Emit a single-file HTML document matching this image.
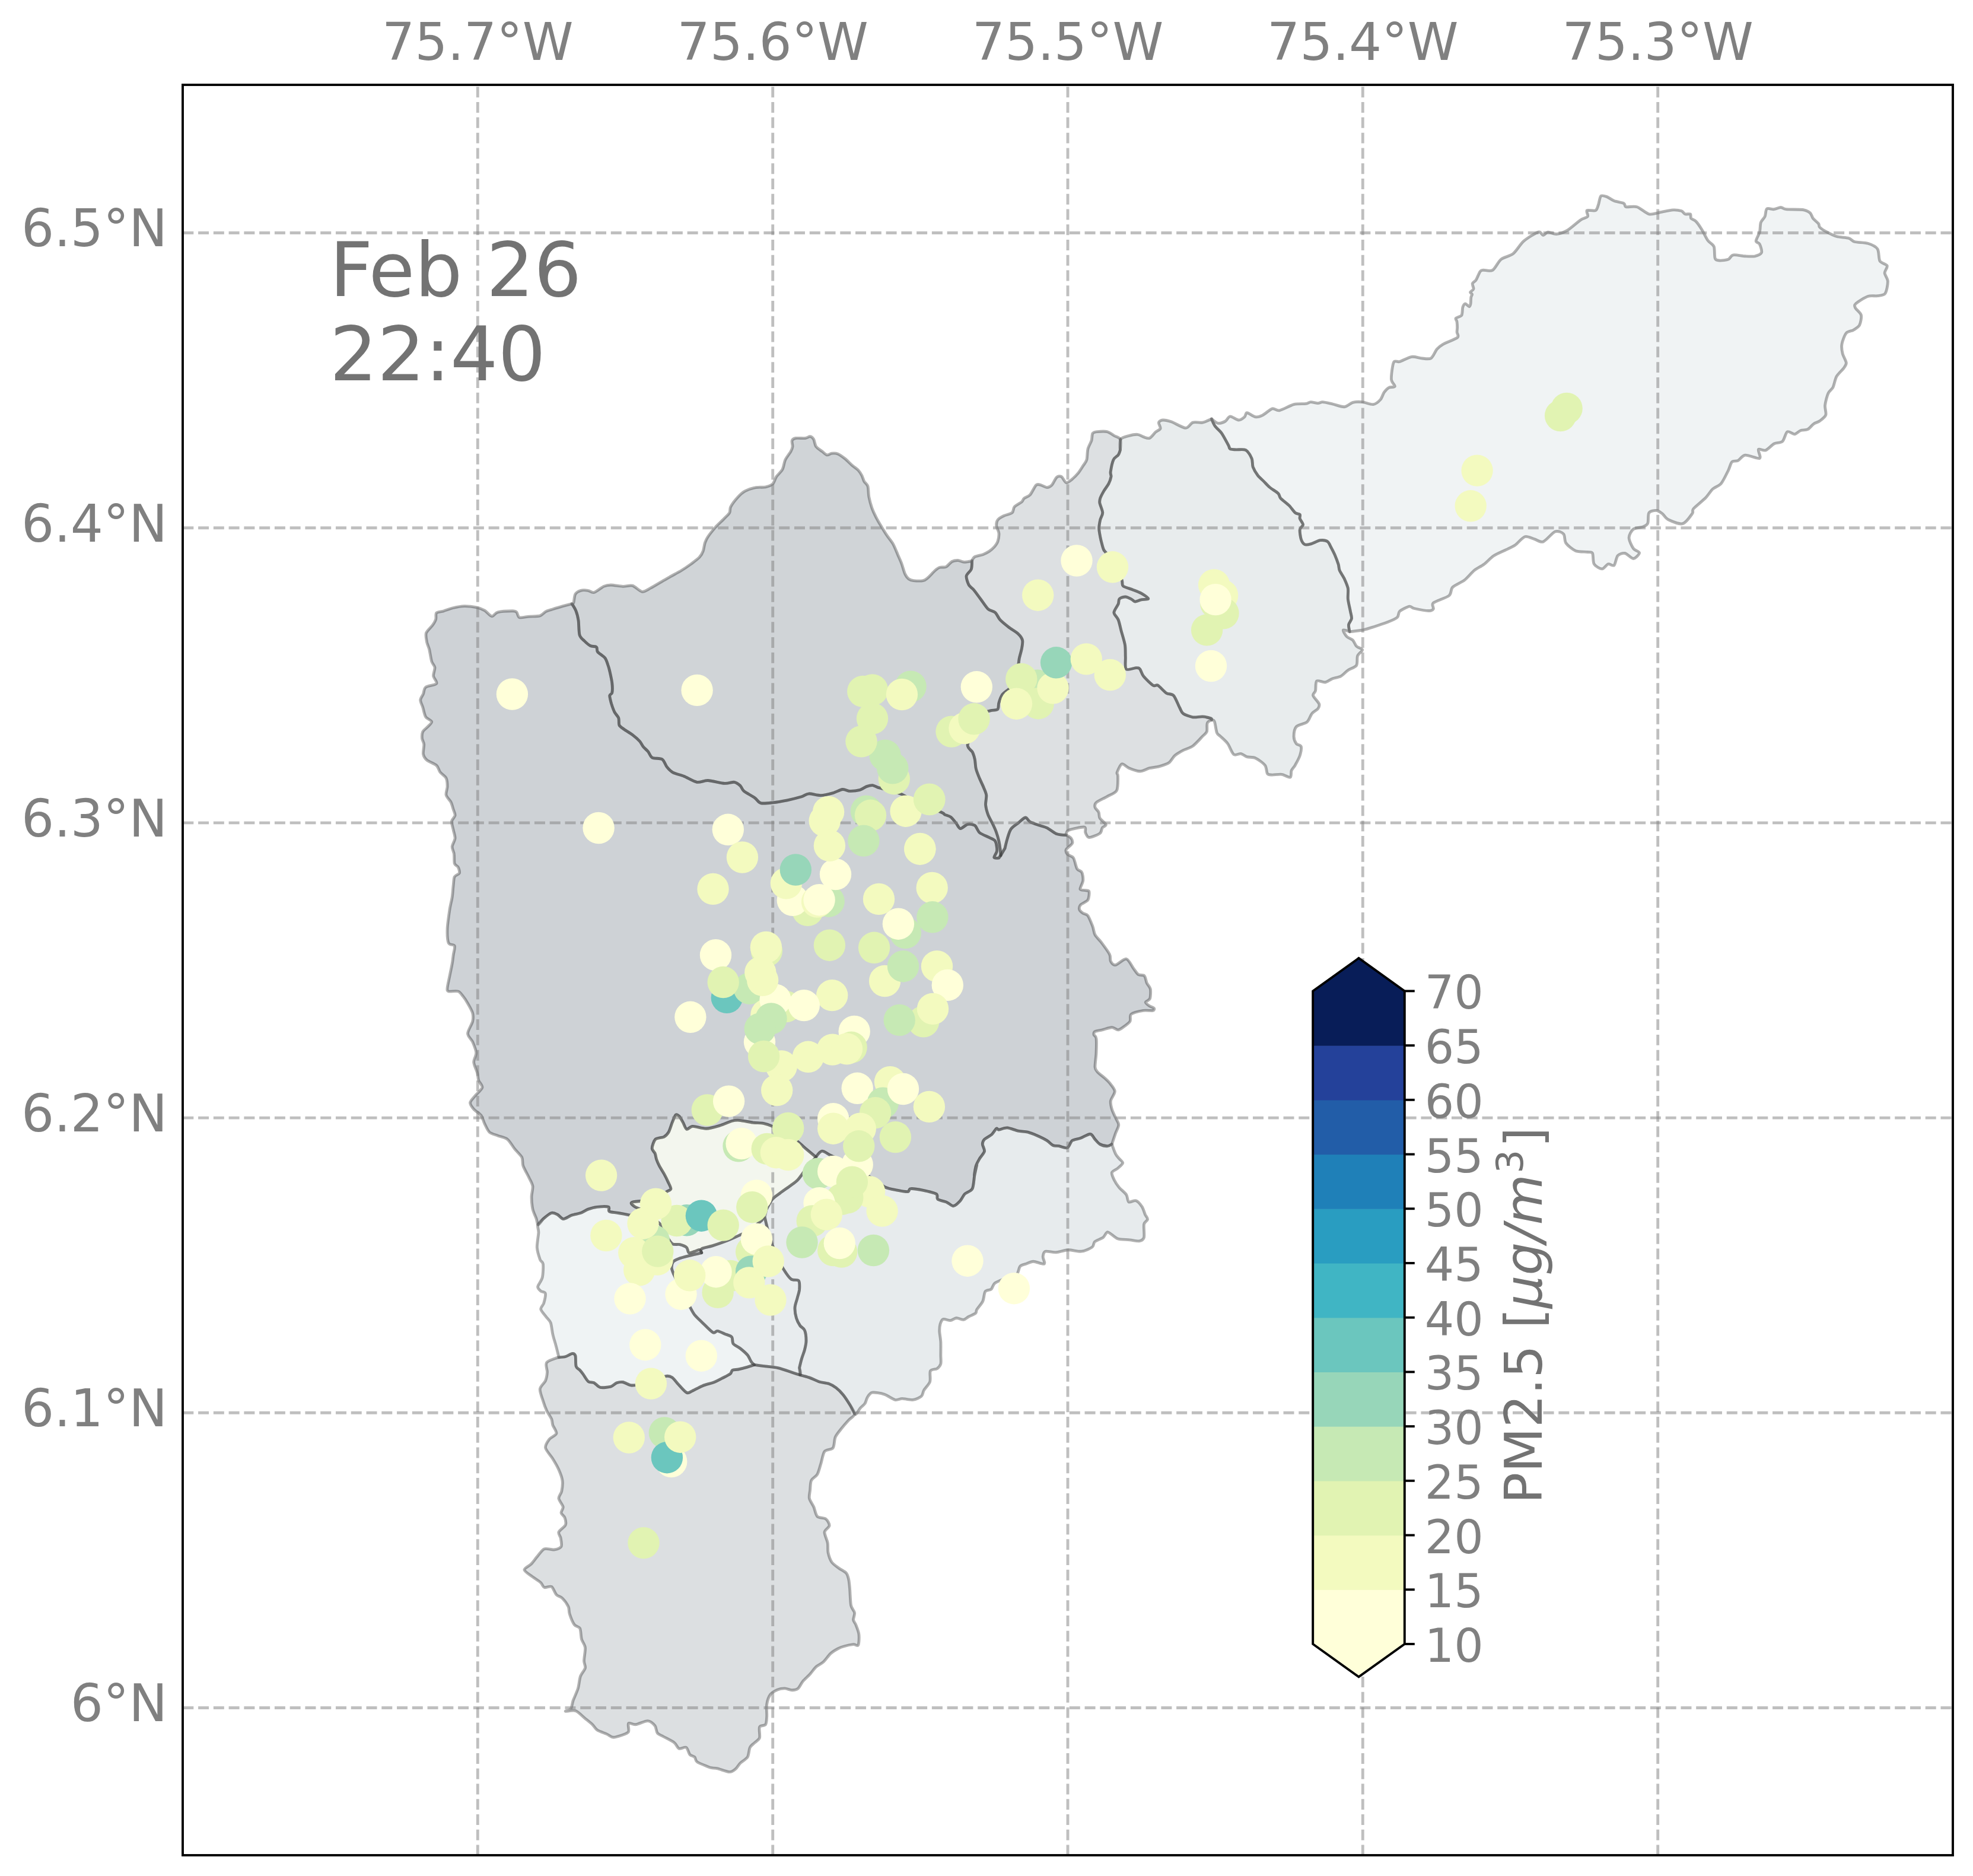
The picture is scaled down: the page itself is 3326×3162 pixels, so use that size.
<!DOCTYPE html>
<html lang="en"><head><meta charset="utf-8"><title>PM2.5 map - Feb 26 22:40</title>
<style>html,body{margin:0;padding:0;background:#fff;overflow:hidden;width:3326px;height:3162px}svg{display:block}text{font-family:"DejaVu Sans","Liberation Sans",sans-serif}</style>
</head><body>
<svg width="3326" height="3162" viewBox="0 0 3326 3162">
<rect width="3326" height="3162" fill="#fff"/>
<defs><clipPath id="ax"><rect x="308" y="143" width="2984" height="2984"/></clipPath></defs>
<g clip-path="url(#ax)">
<g stroke="none">
<path d="M2042.5,706.0C2042.5,706.0 2050.1,712.7 2053.4,713.3C2056.7,713.8 2062.7,711.6 2065.6,710.0C2068.5,708.4 2070.5,702.2 2073.7,701.9C2076.9,701.6 2084.4,707.9 2087.9,708.0C2091.4,708.1 2096.0,704.5 2098.0,702.7C2100.1,701.0 2099.5,695.8 2102.1,695.8C2104.7,695.8 2112.5,702.1 2116.3,702.7C2120.0,703.3 2124.4,701.9 2128.4,699.9C2132.5,697.9 2140.6,690.1 2144.7,688.9C2148.7,687.8 2151.6,692.8 2156.8,691.8C2162.0,690.7 2174.8,683.3 2181.1,681.6C2187.5,680.0 2197.4,681.0 2201.4,680.4C2205.5,679.8 2206.6,677.7 2209.5,677.6C2212.4,677.5 2218.8,679.6 2221.7,679.6C2224.6,679.6 2226.3,677.4 2229.8,677.6C2233.3,677.8 2240.8,679.7 2246.0,680.8C2251.2,682.0 2261.4,686.0 2266.3,685.7C2271.2,685.3 2276.1,679.6 2280.5,678.4C2284.8,677.2 2291.8,677.1 2296.7,677.6C2301.6,678.1 2310.6,682.2 2315.0,681.6C2319.3,681.1 2324.5,676.4 2327.1,673.5C2329.7,670.6 2331.2,664.3 2333.2,661.4C2335.2,658.5 2338.7,654.7 2341.3,653.3C2343.9,651.8 2350.9,653.3 2351.4,651.2C2352.0,649.2 2345.7,644.9 2345.4,639.1C2345.1,633.3 2347.4,614.9 2349.4,610.7C2351.4,606.5 2355.2,610.8 2359.6,609.5C2363.9,608.1 2374.6,602.2 2379.8,601.4C2385.0,600.5 2391.4,603.4 2396.0,603.8C2400.7,604.1 2408.5,606.0 2412.3,603.8C2416.0,601.6 2419.5,591.7 2422.4,588.4C2425.3,585.0 2427.6,583.1 2432.5,580.3C2437.5,577.5 2453.5,571.8 2456.9,568.9C2460.2,566.0 2456.1,562.4 2456.1,560.0C2456.0,557.6 2456.6,554.6 2456.6,552.1C2456.6,549.6 2456.3,544.6 2456.0,542.3C2455.7,540.0 2453.1,537.9 2454.2,536.3C2455.3,534.7 2462.2,534.0 2463.9,531.4C2465.6,528.8 2464.9,520.8 2465.8,518.0C2466.7,515.2 2468.4,512.1 2470.0,511.9C2471.6,511.7 2475.4,516.8 2476.7,516.8C2478.0,516.8 2478.7,514.2 2479.1,511.9C2479.5,509.6 2479.4,503.3 2479.8,501.0C2480.2,498.7 2481.8,497.3 2481.6,496.1C2481.4,494.9 2478.2,493.8 2478.5,492.5C2478.8,491.2 2483.5,489.1 2484.0,487.0C2484.5,484.9 2481.6,480.1 2482.2,477.9C2482.8,475.7 2486.5,474.7 2488.3,471.8C2490.1,468.9 2493.3,460.2 2495.0,457.8C2496.7,455.4 2497.0,455.7 2500.0,455.3C2503.0,454.9 2511.9,457.9 2516.2,455.3C2520.6,452.7 2525.5,441.0 2530.4,437.1C2535.3,433.1 2545.2,432.1 2550.7,427.7C2556.2,423.3 2562.8,411.4 2568.9,406.2C2575.0,401.0 2588.6,392.6 2593.3,391.2C2597.9,389.8 2599.1,396.5 2601.4,396.5C2603.7,396.5 2606.3,391.5 2609.5,391.2C2612.7,390.9 2619.0,394.9 2623.7,394.5C2628.3,394.1 2636.1,391.8 2641.9,388.4C2647.7,385.0 2659.3,374.3 2664.2,371.0C2669.1,367.6 2674.8,367.2 2676.4,364.9C2677.9,362.6 2673.3,356.2 2675.2,354.7C2677.1,353.3 2687.0,356.2 2689.8,354.7C2692.5,353.3 2693.4,348.1 2694.6,344.6C2695.9,341.1 2696.7,332.3 2698.7,330.4C2700.7,328.6 2705.6,330.5 2708.8,331.6C2712.0,332.8 2716.9,337.0 2721.0,338.5C2725.0,340.1 2734.3,341.1 2737.2,342.6C2740.1,344.0 2738.1,347.8 2741.3,348.7C2744.4,349.5 2754.0,346.9 2759.5,348.7C2765.0,350.4 2774.3,359.5 2779.8,360.8C2785.3,362.2 2792.2,359.0 2798.0,358.0C2803.8,357.0 2815.1,354.3 2820.3,353.9C2825.5,353.6 2831.6,354.6 2834.5,355.5C2837.4,356.5 2838.5,360.1 2840.6,360.8C2842.7,361.6 2848.1,359.8 2849.5,360.8C2851.0,361.9 2849.4,366.4 2850.7,368.1C2852.1,369.9 2856.2,370.3 2858.8,373.0C2861.5,375.7 2866.1,382.5 2869.0,387.2C2871.9,391.8 2876.2,401.4 2879.1,405.4C2882.0,409.5 2887.5,411.2 2889.3,415.6C2891.0,419.9 2889.8,432.5 2891.3,435.8C2892.7,439.2 2896.2,438.9 2899.4,439.1C2902.6,439.3 2910.4,438.4 2913.6,437.1C2916.8,435.7 2917.6,430.5 2921.7,429.8C2925.7,429.0 2936.8,431.5 2942.0,431.8C2947.2,432.1 2954.2,432.6 2958.2,431.8C2962.1,430.9 2968.4,428.6 2969.5,425.7C2970.7,422.8 2967.6,414.3 2966.3,411.5C2965.0,408.7 2960.2,409.1 2960.2,406.2C2960.2,403.3 2965.1,395.7 2966.3,391.2C2967.5,386.8 2967.0,378.8 2968.3,375.0C2969.6,371.2 2973.8,368.2 2975.2,364.9C2976.7,361.6 2976.3,353.6 2978.5,351.9C2980.7,350.2 2987.3,353.1 2990.6,352.7C2994.0,352.4 2999.1,349.5 3002.0,349.5C3004.9,349.5 3005.6,352.1 3010.9,352.7C3016.2,353.3 3033.5,352.7 3039.3,353.5C3045.1,354.4 3049.0,356.7 3051.4,358.8C3053.9,360.9 3054.3,365.5 3056.3,368.1C3058.3,370.7 3064.0,374.9 3065.6,377.0C3067.3,379.2 3065.6,381.1 3067.7,383.1C3069.7,385.1 3075.8,389.0 3079.8,391.2C3083.9,393.4 3090.8,397.1 3096.0,398.5C3101.3,400.0 3112.0,400.1 3116.3,401.4C3120.7,402.6 3121.8,406.2 3126.5,407.5C3131.1,408.7 3143.3,408.6 3148.8,410.3C3154.3,412.0 3162.1,415.4 3165.0,419.6C3167.9,423.8 3166.7,435.8 3169.0,439.9C3171.3,443.9 3180.0,445.1 3181.2,448.0C3182.4,450.9 3177.0,456.4 3177.1,460.2C3177.3,463.9 3182.3,469.4 3182.4,474.4C3182.5,479.3 3180.4,491.2 3178.0,494.6C3175.5,498.1 3169.1,498.0 3165.0,498.7C3160.8,499.4 3154.0,497.6 3148.8,499.5C3143.5,501.3 3131.5,508.9 3128.5,511.7C3125.5,514.4 3126.4,516.2 3127.7,519.0C3128.9,521.7 3136.4,526.9 3137.4,531.1C3138.4,535.3 3136.4,544.6 3134.6,548.2C3132.7,551.7 3127.6,554.3 3124.4,556.3C3121.2,558.2 3115.0,558.2 3112.3,561.5C3109.5,564.9 3105.8,574.9 3105.0,579.8C3104.1,584.7 3105.1,591.5 3106.2,596.0C3107.2,600.5 3112.0,607.9 3112.3,611.4C3112.6,614.9 3110.5,617.0 3108.2,620.3C3105.9,623.6 3098.7,629.9 3096.0,634.5C3093.4,639.1 3092.0,648.7 3090.0,652.8C3087.9,656.8 3083.8,658.6 3081.9,662.9C3079.9,667.2 3077.2,678.0 3076.6,683.2C3076.0,688.4 3079.1,695.6 3077.8,699.4C3076.5,703.2 3070.6,707.4 3067.7,709.5C3064.8,711.7 3060.4,712.4 3057.5,714.4C3054.6,716.4 3050.6,722.1 3047.4,723.7C3044.2,725.3 3038.4,724.6 3035.2,725.7C3032.0,726.9 3028.3,731.5 3025.1,731.8C3021.9,732.1 3015.8,726.0 3012.9,727.8C3010.0,729.5 3008.0,741.1 3004.8,744.0C3001.6,746.9 2994.7,745.9 2990.6,748.0C2986.6,750.2 2980.2,757.7 2976.4,759.0C2972.7,760.3 2965.7,755.5 2964.3,757.4C2962.8,759.3 2969.5,771.0 2966.3,772.4C2963.1,773.8 2947.2,766.5 2942.0,767.1C2936.8,767.7 2933.0,774.8 2929.8,776.4C2926.6,778.1 2922.0,776.1 2919.7,778.5C2917.3,780.8 2916.2,787.4 2913.6,792.7C2911.0,797.9 2905.2,810.4 2901.4,815.0C2897.7,819.5 2891.0,820.8 2887.2,824.3C2883.5,827.8 2879.7,834.5 2875.1,839.3C2870.4,844.0 2858.0,853.8 2854.8,857.5C2851.6,861.3 2855.4,862.0 2852.8,865.6C2850.2,869.2 2842.3,881.2 2836.5,882.7C2830.8,884.1 2817.1,878.2 2812.2,875.8C2807.3,873.3 2805.0,867.8 2802.1,865.6C2799.2,863.4 2795.1,860.5 2791.9,860.4C2788.8,860.2 2781.8,861.3 2779.8,864.4C2777.7,867.5 2779.2,878.5 2777.7,881.9C2776.3,885.2 2773.1,886.5 2769.6,887.9C2766.2,889.4 2756.8,889.4 2753.4,892.0C2750.1,894.6 2746.1,901.5 2746.1,906.2C2746.1,910.8 2750.9,920.8 2753.4,924.4C2755.9,928.1 2763.6,929.3 2763.6,931.7C2763.6,934.2 2756.9,941.3 2753.4,941.5C2749.9,941.6 2743.0,933.2 2739.2,932.5C2735.5,931.8 2729.7,933.7 2727.1,936.6C2724.5,939.5 2723.3,950.8 2721.0,952.8C2718.7,954.8 2713.7,949.9 2710.8,950.8C2708.0,951.7 2704.1,958.9 2700.7,958.9C2697.3,958.9 2689.6,954.6 2687.3,950.8C2685.0,947.0 2686.1,935.4 2684.5,932.5C2682.9,929.6 2680.4,931.1 2676.4,930.5C2672.3,929.9 2661.3,930.6 2656.1,928.5C2650.9,926.3 2642.8,919.6 2639.9,915.5C2637.0,911.5 2638.4,902.9 2635.8,900.1C2633.2,897.3 2626.6,894.2 2621.6,896.0C2616.7,897.9 2606.4,911.3 2601.4,913.1C2596.4,914.9 2591.0,909.9 2586.6,908.7C2582.2,907.5 2575.0,903.2 2570.4,904.7C2565.8,906.1 2558.8,915.7 2554.2,918.8C2549.5,922.0 2543.2,924.3 2538.0,927.0C2532.7,929.6 2522.9,933.6 2517.7,937.1C2512.5,940.6 2506.1,947.8 2501.5,951.3C2496.8,954.8 2489.9,957.7 2485.3,961.4C2480.6,965.2 2474.2,973.6 2469.0,977.6C2463.8,981.7 2452.5,986.0 2448.8,989.8C2445.0,993.6 2447.3,1000.2 2442.7,1004.0C2438.0,1007.8 2420.1,1013.0 2416.3,1016.2C2412.6,1019.3 2417.5,1024.4 2416.3,1026.3C2415.2,1028.2 2412.8,1029.7 2408.2,1029.5C2403.6,1029.4 2388.5,1026.5 2383.9,1025.5C2379.2,1024.4 2379.2,1021.5 2375.8,1022.2C2372.3,1022.9 2362.5,1027.7 2359.6,1030.3C2356.7,1033.0 2358.4,1037.9 2355.5,1040.5C2352.6,1043.1 2344.5,1046.5 2339.3,1048.6C2334.1,1050.7 2324.8,1053.6 2319.0,1055.5C2313.2,1057.3 2305.0,1060.2 2298.7,1061.6C2292.5,1062.9 2275.2,1064.8 2275.2,1064.8C2275.2,1064.8 2273.1,1055.8 2273.6,1052.7C2274.1,1049.5 2278.1,1045.7 2278.5,1042.5C2278.9,1039.3 2277.3,1035.0 2276.4,1030.3C2275.6,1025.7 2273.0,1015.6 2272.4,1010.1C2271.8,1004.6 2273.2,996.8 2272.4,991.8C2271.5,986.9 2268.3,980.0 2266.3,975.6C2264.3,971.3 2259.6,964.9 2258.2,961.4C2256.7,957.9 2257.3,955.0 2256.2,951.3C2255.0,947.5 2251.8,939.1 2250.1,935.1C2248.3,931.0 2245.7,926.1 2244.0,922.9C2242.3,919.7 2240.5,914.5 2237.9,912.8C2235.3,911.0 2229.8,910.2 2225.7,910.7C2221.7,911.3 2213.3,915.8 2209.5,916.8C2205.8,917.8 2201.7,918.8 2199.4,917.6C2197.1,916.5 2194.5,912.3 2193.3,908.7C2192.2,905.1 2190.8,896.0 2191.3,892.5C2191.7,889.0 2196.6,887.0 2196.6,884.4C2196.6,881.8 2192.0,876.7 2191.3,874.2C2190.5,871.8 2192.4,868.8 2191.3,867.3C2190.1,865.9 2185.8,866.3 2183.2,864.1C2180.6,861.9 2176.5,855.4 2173.0,851.9C2169.6,848.5 2161.5,842.7 2158.8,839.8C2156.2,836.9 2157.4,834.3 2154.8,831.7C2152.2,829.1 2144.1,824.4 2140.6,821.5C2137.1,818.6 2133.4,814.3 2130.5,811.4C2127.6,808.5 2122.9,804.7 2120.3,801.3C2117.7,797.8 2113.7,791.1 2112.2,787.1C2110.8,783.0 2111.9,776.9 2110.2,772.9C2108.4,768.8 2103.8,760.8 2100.1,758.7C2096.3,756.5 2087.6,758.2 2083.8,757.9C2080.1,757.6 2075.5,757.7 2073.7,756.7C2071.8,755.6 2072.9,754.3 2070.9,750.6C2068.8,746.8 2062.7,734.9 2059.5,730.3C2056.3,725.7 2050.6,721.6 2048.2,718.1C2045.7,714.7 2042.5,706.0 2042.5,706.0Z" fill="#f0f3f4"/>
<path d="M1889.2,740.4C1891.3,737.0 1899.3,735.5 1903.4,734.4C1907.5,733.2 1914.1,732.0 1917.6,732.3C1921.1,732.6 1924.8,735.5 1927.7,736.4C1930.6,737.3 1935.0,739.6 1937.9,738.4C1940.8,737.3 1945.4,730.6 1948.0,728.3C1950.6,726.0 1955.4,724.5 1956.1,722.2C1956.9,719.9 1952.7,714.1 1953.3,712.1C1953.8,710.0 1957.2,708.2 1960.2,708.0C1963.2,707.8 1968.9,708.9 1974.4,710.8C1979.9,712.7 1993.5,721.2 1998.7,721.4C2003.9,721.6 2006.8,713.4 2010.8,712.1C2014.9,710.7 2022.5,712.9 2027.1,712.1C2031.6,711.2 2042.5,706.0 2042.5,706.0C2042.5,706.0 2045.7,714.7 2048.2,718.1C2050.6,721.6 2056.3,725.7 2059.5,730.3C2062.7,734.9 2068.8,746.8 2070.9,750.6C2072.9,754.3 2071.8,755.6 2073.7,756.7C2075.5,757.7 2080.1,757.6 2083.8,757.9C2087.6,758.2 2096.3,756.5 2100.1,758.7C2103.8,760.8 2108.4,768.8 2110.2,772.9C2111.9,776.9 2110.8,783.0 2112.2,787.1C2113.7,791.1 2117.7,797.8 2120.3,801.3C2122.9,804.7 2127.6,808.5 2130.5,811.4C2133.4,814.3 2137.1,818.6 2140.6,821.5C2144.1,824.4 2152.2,829.1 2154.8,831.7C2157.4,834.3 2156.2,836.9 2158.8,839.8C2161.5,842.7 2169.6,848.5 2173.0,851.9C2176.5,855.4 2180.6,861.9 2183.2,864.1C2185.8,866.3 2190.1,865.9 2191.3,867.3C2192.4,868.8 2190.5,871.8 2191.3,874.2C2192.0,876.7 2196.6,881.8 2196.6,884.4C2196.6,887.0 2191.7,889.0 2191.3,892.5C2190.8,896.0 2192.2,905.1 2193.3,908.7C2194.5,912.3 2197.1,916.5 2199.4,917.6C2201.7,918.8 2205.8,917.8 2209.5,916.8C2213.3,915.8 2221.7,911.3 2225.7,910.7C2229.8,910.2 2235.3,911.0 2237.9,912.8C2240.5,914.5 2242.3,919.7 2244.0,922.9C2245.7,926.1 2248.3,931.0 2250.1,935.1C2251.8,939.1 2255.0,947.5 2256.2,951.3C2257.3,955.0 2256.7,957.9 2258.2,961.4C2259.6,964.9 2264.3,971.3 2266.3,975.6C2268.3,980.0 2271.5,986.9 2272.4,991.8C2273.2,996.8 2271.8,1004.6 2272.4,1010.1C2273.0,1015.6 2275.6,1025.7 2276.4,1030.3C2277.3,1035.0 2278.9,1039.3 2278.5,1042.5C2278.1,1045.7 2274.1,1049.5 2273.6,1052.7C2273.1,1055.8 2275.2,1064.8 2275.2,1064.8C2275.2,1064.8 2265.0,1060.8 2264.3,1062.0C2263.6,1063.1 2268.0,1070.5 2270.3,1072.9C2272.7,1075.4 2278.2,1076.7 2280.5,1079.0C2282.8,1081.3 2284.3,1086.8 2286.6,1089.1C2288.9,1091.5 2296.4,1092.9 2296.7,1095.2C2297.0,1097.5 2290.0,1101.6 2288.6,1105.4C2287.1,1109.1 2288.9,1118.1 2286.6,1121.6C2284.3,1125.1 2276.1,1127.1 2272.4,1129.7C2268.6,1132.3 2264.0,1137.8 2260.2,1139.8C2256.4,1141.9 2249.8,1142.4 2246.0,1143.9C2242.3,1145.3 2237.6,1149.4 2233.9,1150.0C2230.1,1150.5 2222.0,1145.9 2219.7,1147.9C2217.3,1150.0 2218.5,1160.7 2217.6,1164.2C2216.8,1167.6 2212.7,1169.1 2213.6,1172.3C2214.5,1175.5 2222.6,1183.3 2223.7,1186.5C2224.9,1189.6 2223.4,1192.2 2221.7,1194.6C2220.0,1196.9 2214.2,1199.5 2211.6,1202.7C2208.9,1205.9 2207.2,1213.7 2203.4,1216.9C2199.7,1220.1 2188.4,1221.5 2185.2,1225.0C2182.0,1228.5 2181.1,1237.1 2181.1,1241.2C2181.1,1245.3 2183.5,1250.9 2185.2,1253.4C2186.9,1255.8 2192.4,1255.3 2193.3,1258.2C2194.2,1261.1 2192.7,1269.1 2191.3,1273.6C2189.8,1278.2 2185.2,1286.3 2183.2,1289.9C2181.1,1293.4 2178.2,1295.9 2177.1,1298.8C2175.9,1301.7 2177.4,1309.2 2175.1,1310.1C2172.7,1311.1 2165.2,1305.8 2160.9,1305.3C2156.5,1304.7 2148.1,1306.2 2144.7,1306.1C2141.2,1305.9 2138.3,1306.4 2136.5,1304.0C2134.8,1301.7 2135.4,1293.6 2132.5,1289.9C2129.6,1286.1 2120.6,1279.7 2116.3,1277.7C2111.9,1275.7 2105.6,1276.7 2102.1,1275.7C2098.6,1274.6 2095.1,1271.0 2091.9,1270.4C2088.8,1269.8 2083.0,1274.0 2079.8,1271.6C2076.6,1269.2 2072.8,1257.7 2069.6,1253.4C2066.5,1249.0 2060.1,1243.8 2057.5,1241.2C2054.9,1238.6 2052.8,1238.7 2051.4,1235.1C2049.9,1231.5 2048.6,1219.1 2047.3,1216.1C2046.1,1213.0 2042.5,1213.6 2042.5,1213.6C2042.5,1213.6 2043.5,1211.6 2041.3,1210.8C2039.1,1210.0 2031.4,1208.2 2027.1,1207.9C2022.7,1207.7 2015.5,1209.5 2010.8,1208.8C2006.2,1208.0 1997.8,1205.0 1994.6,1202.7C1991.4,1200.4 1990.9,1196.9 1988.5,1192.5C1986.2,1188.2 1981.6,1175.7 1978.4,1172.3C1975.2,1168.8 1970.0,1170.6 1966.2,1168.2C1962.5,1165.8 1955.2,1157.1 1952.1,1155.2C1948.9,1153.4 1947.4,1157.4 1943.9,1155.2C1940.5,1153.0 1930.9,1143.8 1927.7,1139.8C1924.5,1135.9 1923.4,1129.7 1921.6,1127.7C1919.9,1125.6 1918.9,1125.6 1915.6,1125.6C1912.3,1125.6 1901.1,1130.3 1898.5,1127.7C1895.9,1125.1 1897.6,1113.2 1897.3,1107.4C1897.0,1101.6 1897.5,1093.5 1896.5,1087.1C1895.5,1080.7 1891.6,1068.9 1890.0,1062.8C1888.4,1056.7 1886.9,1048.9 1885.1,1044.5C1883.4,1040.2 1877.9,1036.1 1877.9,1032.4C1877.9,1028.6 1883.8,1021.5 1885.1,1018.2C1886.5,1014.9 1885.4,1011.0 1887.2,1009.3C1888.9,1007.5 1894.4,1005.9 1897.3,1006.0C1900.2,1006.1 1905.1,1008.9 1907.5,1010.1C1909.8,1011.2 1911.2,1014.0 1913.5,1014.1C1915.8,1014.2 1920.5,1011.6 1923.7,1010.9C1926.9,1010.1 1935.8,1010.4 1935.8,1008.9C1935.8,1007.3 1927.4,1002.1 1923.7,999.9C1919.9,997.8 1913.8,995.6 1909.5,993.9C1905.1,992.1 1895.9,990.1 1893.3,987.8C1890.7,985.5 1893.0,981.7 1891.2,977.6C1889.5,973.6 1884.6,965.5 1881.1,959.4C1877.6,953.3 1869.8,939.7 1866.9,935.1C1864.0,930.4 1862.2,929.6 1860.8,927.0C1859.5,924.3 1858.4,920.0 1857.6,916.8C1856.7,913.6 1855.4,908.4 1854.7,904.7C1854.0,900.9 1852.7,894.5 1852.7,890.5C1852.7,886.4 1853.9,880.0 1854.7,876.3C1855.6,872.5 1858.9,868.2 1858.8,864.1C1858.7,860.1 1854.5,851.4 1853.9,847.9C1853.3,844.4 1853.8,842.7 1854.7,839.8C1855.7,836.9 1858.8,831.1 1860.8,827.6C1862.8,824.1 1867.2,818.9 1868.9,815.4C1870.7,812.0 1872.5,806.2 1873.0,803.3C1873.4,800.4 1871.6,799.2 1872.2,795.2C1872.8,791.1 1875.2,779.0 1877.0,774.9C1878.9,770.8 1883.5,769.1 1885.1,766.8C1886.8,764.5 1888.4,758.7 1888.4,758.7C1888.4,758.7 1887.1,743.9 1889.2,740.4Z" fill="#e8eced"/>
<path d="M1638.5,945.3C1638.5,945.3 1640.6,940.0 1643.3,938.4C1646.1,936.9 1654.1,935.7 1657.5,934.4C1661.0,933.0 1665.1,930.8 1667.7,929.1C1670.3,927.4 1673.7,924.5 1675.8,922.2C1677.8,919.9 1680.7,916.2 1681.9,912.9C1683.0,909.5 1684.2,902.4 1683.9,898.7C1683.6,894.9 1680.1,889.7 1679.8,886.5C1679.5,883.3 1680.1,878.8 1681.9,876.4C1683.6,873.9 1688.5,871.2 1692.0,869.5C1695.5,867.8 1703.6,866.4 1706.2,864.2C1708.8,862.0 1707.9,856.7 1710.2,854.1C1712.6,851.5 1720.1,848.0 1722.4,846.0C1724.7,843.9 1724.4,841.6 1726.5,839.9C1728.5,838.2 1733.7,837.0 1736.6,833.8C1739.5,830.6 1744.1,819.9 1746.7,817.6C1749.3,815.3 1752.2,817.0 1754.8,817.6C1757.4,818.2 1762.4,821.6 1765.0,821.6C1767.6,821.6 1770.8,820.0 1773.1,817.6C1775.4,815.2 1778.9,806.6 1781.2,804.6C1783.5,802.6 1787.0,802.1 1789.3,803.4C1791.6,804.7 1794.8,813.0 1797.4,813.5C1800.0,814.1 1804.7,809.8 1807.6,807.5C1810.4,805.1 1815.1,800.5 1817.7,797.3C1820.3,794.1 1823.8,788.3 1825.8,785.1C1827.8,782.0 1830.7,779.1 1831.9,775.0C1833.0,771.0 1832.7,761.4 1833.9,756.8C1835.1,752.1 1838.8,746.3 1840.0,742.6C1841.1,738.8 1840.6,732.6 1842.0,730.4C1843.5,728.3 1846.7,728.0 1850.1,727.6C1853.6,727.2 1862.3,726.6 1866.3,727.6C1870.4,728.6 1875.3,732.6 1878.5,734.5C1881.7,736.3 1887.2,737.1 1888.6,740.5C1890.1,744.0 1888.4,758.7 1888.4,758.7C1888.4,758.7 1886.8,764.5 1885.1,766.8C1883.5,769.1 1878.9,770.8 1877.0,774.9C1875.2,779.0 1872.8,791.1 1872.2,795.2C1871.6,799.2 1873.4,800.4 1873.0,803.3C1872.5,806.2 1870.7,812.0 1868.9,815.4C1867.2,818.9 1862.8,824.1 1860.8,827.6C1858.8,831.1 1855.7,836.9 1854.7,839.8C1853.8,842.7 1853.3,844.4 1853.9,847.9C1854.5,851.4 1858.7,860.1 1858.8,864.1C1858.9,868.2 1855.6,872.5 1854.7,876.3C1853.9,880.0 1852.7,886.4 1852.7,890.5C1852.7,894.5 1854.0,900.9 1854.7,904.7C1855.4,908.4 1856.7,913.6 1857.6,916.8C1858.4,920.0 1859.5,924.3 1860.8,927.0C1862.2,929.6 1864.0,930.4 1866.9,935.1C1869.8,939.7 1877.6,953.3 1881.1,959.4C1884.6,965.5 1889.5,973.6 1891.2,977.6C1893.0,981.7 1890.7,985.5 1893.3,987.8C1895.9,990.1 1905.1,992.1 1909.5,993.9C1913.8,995.6 1919.9,997.8 1923.7,999.9C1927.4,1002.1 1935.8,1007.3 1935.8,1008.9C1935.8,1010.4 1926.9,1010.1 1923.7,1010.9C1920.5,1011.6 1915.8,1014.2 1913.5,1014.1C1911.2,1014.0 1909.8,1011.2 1907.5,1010.1C1905.1,1008.9 1900.2,1006.1 1897.3,1006.0C1894.4,1005.9 1888.9,1007.5 1887.2,1009.3C1885.4,1011.0 1886.5,1014.9 1885.1,1018.2C1883.8,1021.5 1877.9,1028.6 1877.9,1032.4C1877.9,1036.1 1883.4,1040.2 1885.1,1044.5C1886.9,1048.9 1888.4,1056.7 1890.0,1062.8C1891.6,1068.9 1895.5,1080.7 1896.5,1087.1C1897.5,1093.5 1897.0,1101.6 1897.3,1107.4C1897.6,1113.2 1895.9,1125.1 1898.5,1127.7C1901.1,1130.3 1912.3,1125.6 1915.6,1125.6C1918.9,1125.6 1919.9,1125.6 1921.6,1127.7C1923.4,1129.7 1924.5,1135.9 1927.7,1139.8C1930.9,1143.8 1940.5,1153.0 1943.9,1155.2C1947.4,1157.4 1948.9,1153.4 1952.1,1155.2C1955.2,1157.1 1962.5,1165.8 1966.2,1168.2C1970.0,1170.6 1975.2,1168.8 1978.4,1172.3C1981.6,1175.7 1986.2,1188.2 1988.5,1192.5C1990.9,1196.9 1991.4,1200.4 1994.6,1202.7C1997.8,1205.0 2006.2,1208.0 2010.8,1208.8C2015.5,1209.5 2022.7,1207.7 2027.1,1207.9C2031.4,1208.2 2039.1,1210.0 2041.3,1210.8C2043.5,1211.6 2042.5,1213.6 2042.5,1213.6C2042.5,1213.6 2036.3,1216.1 2035.2,1218.9C2034.0,1221.7 2035.5,1229.9 2034.4,1233.1C2033.2,1236.3 2030.4,1237.7 2027.1,1241.2C2023.7,1244.7 2015.5,1254.1 2010.8,1257.4C2006.2,1260.8 1999.0,1262.4 1994.6,1264.7C1990.3,1267.0 1983.9,1270.6 1980.4,1273.6C1977.0,1276.6 1974.1,1283.2 1970.3,1285.8C1966.5,1288.4 1958.7,1290.6 1954.1,1291.9C1949.4,1293.2 1942.5,1293.6 1937.9,1294.7C1933.2,1295.9 1926.6,1300.0 1921.6,1300.0C1916.7,1300.0 1907.7,1296.5 1903.4,1294.7C1899.1,1293.0 1894.1,1286.8 1891.2,1287.8C1888.3,1288.9 1884.1,1299.1 1883.1,1302.0C1882.2,1304.9 1884.6,1303.8 1884.5,1308.1C1884.5,1312.5 1885.1,1327.5 1882.5,1332.4C1879.9,1337.4 1871.2,1339.7 1866.3,1342.6C1861.4,1345.5 1850.9,1350.1 1848.0,1352.7C1845.2,1355.3 1845.4,1358.5 1846.0,1360.8C1846.6,1363.1 1850.9,1366.3 1852.1,1368.9C1853.3,1371.5 1852.4,1376.1 1854.1,1379.1C1855.9,1382.1 1863.7,1387.7 1864.3,1390.0C1864.8,1392.3 1859.6,1393.2 1858.2,1395.3C1856.7,1397.4 1857.3,1402.3 1854.1,1404.6C1850.9,1406.9 1839.4,1411.7 1835.9,1411.5C1832.4,1411.3 1831.0,1405.9 1829.8,1403.4C1828.6,1400.9 1831.8,1394.6 1827.8,1394.1C1823.7,1393.5 1805.8,1397.4 1801.4,1399.3C1797.1,1401.3 1797.4,1407.5 1797.4,1407.5C1797.4,1407.5 1785.8,1407.2 1781.2,1405.5C1776.6,1403.8 1769.0,1397.4 1765.0,1395.4C1760.9,1393.4 1756.9,1392.8 1752.8,1391.3C1748.8,1389.9 1740.1,1387.2 1736.6,1385.3C1733.1,1383.3 1731.4,1377.7 1728.5,1378.0C1725.6,1378.2 1719.8,1384.5 1716.3,1387.3C1712.8,1390.1 1706.8,1393.6 1704.2,1397.4C1701.5,1401.2 1699.5,1409.0 1698.1,1413.6C1696.6,1418.3 1694.0,1429.9 1694.0,1429.9C1694.0,1429.9 1687.1,1442.0 1687.1,1442.0C1687.1,1442.0 1686.4,1433.3 1685.9,1429.9C1685.4,1426.4 1684.8,1421.5 1683.9,1417.7C1683.0,1413.9 1681.3,1407.6 1679.8,1403.5C1678.4,1399.4 1675.8,1393.6 1673.7,1389.3C1671.7,1385.0 1667.4,1377.7 1665.6,1373.1C1663.9,1368.5 1662.0,1361.5 1661.6,1356.9C1661.2,1352.2 1663.2,1344.7 1662.8,1340.6C1662.4,1336.6 1660.4,1332.5 1658.7,1328.5C1657.1,1324.4 1653.4,1316.9 1651.4,1312.3C1649.5,1307.6 1646.5,1300.7 1645.4,1296.0C1644.2,1291.4 1644.2,1283.9 1643.3,1279.8C1642.5,1275.8 1641.0,1271.1 1639.3,1267.7C1637.5,1264.2 1630.6,1261.3 1631.2,1255.5C1631.8,1249.7 1639.6,1234.6 1643.3,1227.1C1647.1,1219.6 1653.8,1207.0 1657.5,1202.8C1661.3,1198.6 1666.2,1199.0 1669.7,1197.9C1673.2,1196.9 1679.8,1197.4 1681.9,1195.5C1683.9,1193.6 1682.7,1188.1 1683.9,1184.5C1685.0,1180.9 1687.1,1174.1 1690.0,1170.3C1692.9,1166.6 1701.0,1162.2 1704.2,1158.2C1707.3,1154.1 1710.5,1146.9 1712.3,1142.0C1714.0,1137.0 1715.5,1128.4 1716.3,1123.7C1717.2,1119.1 1717.5,1113.9 1718.3,1109.5C1719.2,1105.2 1721.6,1097.7 1722.4,1093.3C1723.2,1089.0 1724.5,1082.7 1723.6,1079.1C1722.7,1075.5 1719.7,1071.4 1716.3,1068.2C1713.0,1065.0 1704.4,1060.2 1700.1,1056.8C1695.8,1053.5 1689.1,1048.1 1685.9,1044.7C1682.7,1041.2 1680.7,1035.1 1677.8,1032.5C1674.9,1029.9 1669.1,1029.6 1665.6,1026.4C1662.2,1023.2 1656.9,1014.8 1653.5,1010.2C1650.0,1005.6 1644.2,997.4 1641.3,994.0C1638.4,990.5 1634.9,989.2 1633.2,985.9C1631.5,982.6 1628.6,974.6 1629.1,970.9C1629.7,967.1 1635.9,963.2 1637.3,959.5C1638.6,955.9 1638.5,945.3 1638.5,945.3Z" fill="#dde0e2"/>
<path d="M964.1,1017.6C964.1,1017.6 966.1,1017.9 967.0,1015.6C967.8,1013.2 968.1,1004.3 969.8,1001.4C971.5,998.5 976.0,996.2 979.1,995.3C982.2,994.4 988.1,994.8 991.3,995.3C994.5,995.7 997.7,999.5 1001.4,998.5C1005.2,997.5 1013.6,990.2 1017.6,988.4C1021.7,986.6 1025.2,986.0 1029.8,986.0C1034.4,986.0 1044.9,988.2 1050.1,988.4C1055.3,988.6 1061.7,985.9 1066.3,987.2C1070.9,988.5 1078.2,996.7 1082.5,997.3C1086.9,997.9 1091.9,993.7 1096.7,991.2C1101.5,988.7 1111.4,982.6 1116.2,979.8C1121.0,977.0 1125.8,974.3 1130.4,971.7C1135.0,969.1 1143.7,964.5 1148.7,961.5C1153.6,958.5 1160.5,953.8 1164.9,950.6C1169.2,947.4 1176.2,942.3 1179.1,939.2C1182.0,936.2 1183.8,932.6 1185.1,929.1C1186.5,925.6 1187.2,918.4 1188.4,914.9C1189.6,911.4 1190.7,908.5 1193.3,904.8C1195.8,901.0 1202.5,892.8 1206.2,888.5C1210.0,884.3 1216.3,878.6 1219.6,875.2C1223.0,871.7 1228.0,867.2 1229.8,864.2C1231.5,861.2 1229.8,857.8 1231.8,854.1C1233.8,850.3 1240.5,841.6 1243.9,837.9C1247.4,834.1 1251.8,830.0 1256.1,827.7C1260.5,825.4 1269.4,822.6 1274.4,821.6C1279.3,820.7 1286.5,821.7 1290.6,820.8C1294.6,820.0 1300.1,818.1 1302.7,815.6C1305.3,813.1 1306.5,806.9 1308.8,803.4C1311.1,799.9 1316.8,795.3 1319.0,791.2C1321.1,787.2 1321.8,779.4 1323.8,775.0C1325.8,770.7 1331.4,764.0 1333.1,760.8C1334.9,757.6 1335.7,755.3 1336.0,752.7C1336.3,750.1 1334.4,744.6 1335.2,742.6C1335.9,740.5 1338.1,739.1 1341.3,738.5C1344.4,737.9 1354.0,738.9 1357.5,738.5C1361.0,738.1 1363.6,735.4 1365.6,735.7C1367.6,736.0 1370.2,738.1 1371.7,740.5C1373.1,743.0 1373.7,749.8 1375.7,752.7C1377.7,755.6 1383.3,758.8 1385.9,760.8C1388.5,762.8 1391.7,766.4 1394.0,766.9C1396.3,767.4 1399.5,764.4 1402.1,764.1C1404.7,763.8 1409.0,763.6 1412.2,764.9C1415.4,766.2 1420.9,770.2 1424.4,773.0C1427.9,775.8 1433.4,781.6 1436.5,784.3C1439.7,787.1 1444.4,790.0 1446.7,792.4C1449.0,794.9 1451.3,798.6 1452.8,801.4C1454.2,804.1 1455.4,808.9 1456.8,811.5C1458.3,814.1 1461.7,815.8 1462.9,819.6C1464.1,823.4 1463.9,832.6 1464.9,837.9C1465.9,843.1 1468.1,851.2 1469.8,856.1C1471.5,861.0 1474.9,868.0 1477.1,872.3C1479.3,876.7 1482.6,882.2 1485.2,886.5C1487.8,890.9 1492.4,898.4 1495.3,902.7C1498.2,907.1 1502.9,912.3 1505.5,916.9C1508.1,921.6 1511.6,930.5 1513.6,935.2C1515.6,939.8 1517.9,944.7 1519.7,949.4C1521.4,954.0 1524.0,963.8 1525.7,967.6C1527.5,971.4 1529.8,974.2 1531.8,975.7C1533.9,977.3 1536.5,978.2 1539.9,978.6C1543.4,979.0 1552.7,979.3 1556.2,978.6C1559.6,977.9 1561.4,976.1 1564.3,973.7C1567.2,971.3 1573.5,964.0 1576.4,961.5C1579.3,959.0 1581.9,957.1 1584.5,956.3C1587.1,955.4 1591.8,956.8 1594.7,955.4C1597.6,954.1 1601.9,948.1 1604.8,946.5C1607.7,945.0 1612.1,944.4 1615.0,944.5C1617.8,944.6 1621.7,947.2 1625.1,947.3C1628.4,947.5 1638.5,945.3 1638.5,945.3C1638.5,945.3 1638.6,955.9 1637.3,959.5C1635.9,963.2 1629.7,967.1 1629.1,970.9C1628.6,974.6 1631.5,982.6 1633.2,985.9C1634.9,989.2 1638.4,990.5 1641.3,994.0C1644.2,997.4 1650.0,1005.6 1653.5,1010.2C1656.9,1014.8 1662.2,1023.2 1665.6,1026.4C1669.1,1029.6 1674.9,1029.9 1677.8,1032.5C1680.7,1035.1 1682.7,1041.2 1685.9,1044.7C1689.1,1048.1 1695.8,1053.5 1700.1,1056.8C1704.4,1060.2 1713.0,1065.0 1716.3,1068.2C1719.7,1071.4 1722.7,1075.5 1723.6,1079.1C1724.5,1082.7 1723.2,1089.0 1722.4,1093.3C1721.6,1097.7 1719.2,1105.2 1718.3,1109.5C1717.5,1113.9 1717.2,1119.1 1716.3,1123.7C1715.5,1128.4 1714.0,1137.0 1712.3,1142.0C1710.5,1146.9 1707.3,1154.1 1704.2,1158.2C1701.0,1162.2 1692.9,1166.6 1690.0,1170.3C1687.1,1174.1 1685.0,1180.9 1683.9,1184.5C1682.7,1188.1 1683.9,1193.6 1681.9,1195.5C1679.8,1197.4 1673.2,1196.9 1669.7,1197.9C1666.2,1199.0 1661.3,1198.6 1657.5,1202.8C1653.8,1207.0 1647.1,1219.6 1643.3,1227.1C1639.6,1234.6 1631.8,1249.7 1631.2,1255.5C1630.6,1261.3 1637.5,1264.2 1639.3,1267.7C1641.0,1271.1 1642.5,1275.8 1643.3,1279.8C1644.2,1283.9 1644.2,1291.4 1645.4,1296.0C1646.5,1300.7 1649.5,1307.6 1651.4,1312.3C1653.4,1316.9 1657.1,1324.4 1658.7,1328.5C1660.4,1332.5 1662.4,1336.6 1662.8,1340.6C1663.2,1344.7 1661.2,1352.2 1661.6,1356.9C1662.0,1361.5 1663.9,1368.5 1665.6,1373.1C1667.4,1377.7 1671.7,1385.0 1673.7,1389.3C1675.8,1393.6 1678.4,1399.4 1679.8,1403.5C1681.3,1407.6 1683.0,1413.9 1683.9,1417.7C1684.8,1421.5 1685.4,1426.4 1685.9,1429.9C1686.4,1433.3 1687.1,1442.0 1687.1,1442.0C1687.1,1442.0 1683.9,1446.1 1683.9,1446.1C1683.9,1446.1 1676.2,1447.0 1675.8,1445.3C1675.3,1443.5 1680.3,1437.8 1680.6,1433.9C1680.9,1430.0 1679.7,1420.9 1677.8,1417.7C1675.9,1414.5 1671.4,1413.6 1667.7,1411.6C1663.9,1409.6 1654.9,1406.4 1651.4,1403.5C1648.0,1400.6 1646.2,1393.4 1643.3,1391.3C1640.4,1389.3 1634.6,1388.6 1631.2,1389.3C1627.7,1390.1 1621.8,1396.9 1619.0,1396.6C1616.2,1396.3 1614.0,1390.1 1611.7,1387.3C1609.4,1384.5 1605.5,1379.2 1602.8,1377.1C1600.1,1375.1 1595.0,1374.2 1592.7,1373.1C1590.3,1371.9 1593.2,1371.9 1586.6,1369.0C1579.9,1366.1 1555.6,1357.2 1546.0,1352.8C1536.5,1348.5 1526.0,1341.5 1519.7,1338.6C1513.3,1335.7 1506.9,1334.1 1501.4,1332.5C1495.9,1331.0 1485.5,1328.9 1481.1,1327.7C1476.8,1326.4 1473.9,1323.9 1471.0,1323.6C1468.1,1323.3 1464.1,1324.5 1460.9,1325.6C1457.7,1326.8 1452.8,1330.6 1448.7,1331.7C1444.7,1332.8 1436.5,1333.5 1432.5,1333.4C1428.4,1333.2 1424.4,1330.0 1420.3,1330.5C1416.3,1331.0 1409.3,1335.1 1404.1,1336.6C1398.9,1338.0 1389.6,1340.5 1383.8,1340.6C1378.0,1340.8 1368.2,1337.5 1363.6,1337.8C1358.9,1338.1 1356.6,1341.1 1351.4,1342.7C1346.2,1344.2 1334.0,1347.3 1327.1,1348.8C1320.1,1350.2 1309.1,1352.1 1302.7,1352.8C1296.4,1353.5 1286.8,1354.8 1282.5,1353.6C1278.1,1352.5 1276.4,1347.6 1272.3,1344.7C1268.3,1341.8 1257.6,1336.2 1254.1,1333.4C1250.6,1330.5 1250.3,1326.6 1248.0,1324.4C1245.7,1322.3 1241.6,1318.9 1237.9,1318.3C1234.1,1317.8 1228.0,1320.8 1221.6,1320.4C1215.3,1320.0 1199.9,1315.8 1193.3,1315.5C1186.6,1315.2 1180.8,1319.4 1175.0,1318.3C1169.2,1317.3 1158.5,1310.5 1152.7,1308.2C1146.9,1305.9 1138.5,1304.3 1134.5,1302.1C1130.4,1299.9 1126.9,1296.0 1124.3,1292.8C1121.7,1289.6 1119.8,1282.1 1116.2,1279.8C1112.7,1277.6 1102.9,1278.9 1099.5,1277.1C1096.2,1275.3 1094.8,1269.6 1092.7,1267.0C1090.5,1264.3 1086.6,1261.3 1084.5,1258.8C1082.5,1256.4 1081.1,1252.4 1078.5,1249.5C1075.9,1246.6 1070.1,1241.5 1066.3,1238.6C1062.5,1235.7 1055.3,1231.6 1052.1,1229.2C1048.9,1226.9 1045.3,1225.1 1044.0,1222.4C1042.7,1219.6 1043.9,1213.4 1042.8,1210.2C1041.6,1207.0 1037.6,1203.5 1035.9,1200.1C1034.1,1196.6 1031.8,1189.8 1030.6,1185.9C1029.5,1181.9 1027.6,1175.1 1027.8,1172.5C1027.9,1169.9 1031.3,1170.6 1031.8,1167.6C1032.4,1164.6 1032.4,1156.6 1031.8,1151.4C1031.3,1146.2 1028.8,1135.5 1027.8,1131.1C1026.8,1126.8 1026.1,1124.2 1024.9,1121.0C1023.8,1117.8 1022.2,1112.0 1019.7,1108.8C1017.2,1105.6 1009.5,1101.3 1007.5,1098.7C1005.5,1096.1 1007.2,1092.0 1005.5,1090.6C1003.7,1089.1 998.2,1090.0 995.3,1088.5C992.4,1087.1 987.8,1083.0 985.2,1080.4C982.6,1077.8 978.5,1075.2 977.1,1070.3C975.6,1065.4 975.9,1051.8 975.1,1046.0C974.2,1040.2 972.6,1033.8 971.0,1029.8C969.4,1025.7 964.1,1017.6 964.1,1017.6Z" fill="#d0d4d7"/>
<path d="M964.1,1017.6C964.1,1017.6 953.2,1020.4 948.7,1021.6C944.2,1022.9 936.5,1025.2 932.5,1026.5C928.4,1027.8 923.5,1028.9 920.3,1030.6C917.1,1032.2 914.2,1036.6 910.2,1037.9C906.1,1039.1 896.9,1038.7 891.9,1039.1C887.0,1039.5 878.7,1041.7 875.7,1040.7C872.7,1039.7 872.6,1033.3 870.9,1031.8C869.1,1030.2 868.1,1029.8 863.6,1029.8C859.0,1029.8 844.2,1030.5 839.2,1031.8C834.3,1033.1 832.3,1039.1 829.1,1038.7C825.9,1038.3 820.7,1031.1 816.9,1028.9C813.2,1026.8 807.7,1024.7 802.7,1023.7C797.8,1022.6 788.0,1021.5 782.5,1021.6C777.0,1021.8 769.1,1023.3 764.2,1024.5C759.3,1025.6 752.1,1028.5 748.0,1029.8C743.9,1031.0 737.7,1031.0 735.8,1033.0C733.9,1035.0 735.6,1040.9 734.6,1043.9C733.6,1047.0 731.3,1050.8 728.9,1054.1C726.6,1057.4 719.7,1063.0 718.4,1067.1C717.1,1071.1 718.9,1078.5 719.6,1082.5C720.4,1086.4 722.5,1090.0 723.7,1094.6C724.8,1099.3 726.4,1110.6 727.7,1114.9C729.1,1119.2 732.6,1121.6 733.0,1125.0C733.4,1128.5 730.2,1135.3 730.6,1139.2C731.0,1143.1 737.7,1149.5 735.8,1152.2C734.0,1154.9 720.8,1155.8 717.6,1158.3C714.4,1160.8 714.8,1166.6 713.5,1169.6C712.3,1172.7 708.8,1176.6 708.7,1179.8C708.6,1183.0 711.4,1187.9 712.7,1191.9C714.0,1196.0 715.4,1204.7 717.6,1208.2C719.7,1211.6 727.1,1214.0 727.7,1216.3C728.3,1218.6 723.8,1221.9 721.6,1224.4C719.5,1226.8 714.2,1230.4 712.7,1233.3C711.3,1236.2 711.2,1241.6 711.5,1244.7C711.8,1247.7 714.5,1251.0 714.7,1254.8C715.0,1258.6 712.8,1267.2 713.5,1271.0C714.2,1274.8 716.4,1278.4 719.6,1281.1C722.8,1283.9 732.6,1287.2 735.8,1290.1C739.0,1293.0 739.6,1298.3 741.9,1301.4C744.2,1304.5 750.3,1308.1 752.1,1311.6C753.8,1315.0 754.1,1321.7 754.1,1325.7C754.1,1329.8 751.2,1336.2 752.1,1339.9C752.9,1343.7 758.4,1348.6 760.2,1352.1C761.9,1355.6 763.2,1361.1 764.2,1364.3C765.2,1367.5 767.5,1371.5 767.1,1374.4C766.6,1377.3 761.8,1381.1 761.4,1384.5C761.0,1388.0 763.4,1394.7 764.2,1398.7C765.0,1402.8 767.3,1408.9 767.1,1412.9C766.8,1417.0 762.4,1423.4 762.2,1427.1C762.0,1430.9 764.9,1435.2 765.4,1439.3C766.0,1443.3 765.3,1452.3 766.2,1455.5C767.2,1458.7 771.2,1459.3 772.3,1461.6C773.5,1463.9 775.2,1469.4 774.4,1471.7C773.5,1474.0 767.7,1474.9 766.2,1477.8C764.8,1480.7 764.8,1487.1 764.2,1492.0C763.6,1496.9 763.1,1506.5 762.2,1512.3C761.3,1518.1 759.3,1525.0 758.1,1532.5C757.0,1540.1 754.4,1556.9 754.1,1565.0C753.8,1573.1 754.4,1585.1 756.1,1589.3C757.8,1593.5 765.1,1591.3 766.2,1594.2C767.4,1597.1 764.8,1605.3 764.2,1609.6C763.6,1613.9 763.1,1619.3 762.2,1624.3C761.3,1629.3 759.3,1638.8 758.1,1644.6C757.0,1650.4 754.4,1661.1 754.1,1664.9C753.8,1668.6 753.5,1670.1 756.1,1671.0C758.7,1671.8 768.9,1669.8 772.3,1671.0C775.8,1672.1 778.1,1676.2 780.4,1679.1C782.8,1682.0 786.2,1687.2 788.5,1691.2C790.9,1695.3 795.5,1703.1 796.7,1707.5C797.8,1711.8 797.8,1716.7 796.7,1721.6C795.5,1726.6 788.5,1737.0 788.5,1741.9C788.5,1746.8 794.6,1751.5 796.7,1756.1C798.7,1760.7 802.4,1769.4 802.7,1774.4C803.0,1779.3 798.4,1785.6 798.7,1790.6C799.0,1795.5 803.6,1804.5 804.8,1808.8C805.9,1813.2 805.6,1817.5 806.8,1821.0C808.0,1824.5 813.7,1829.4 812.9,1833.1C812.0,1836.9 803.6,1843.7 800.7,1847.3C797.8,1851.0 792.9,1855.5 792.6,1858.7C792.3,1861.9 796.1,1866.6 798.7,1869.6C801.3,1872.7 808.2,1876.3 810.8,1879.8C813.5,1883.3 814.9,1889.9 816.9,1894.0C819.0,1898.0 821.9,1905.3 825.0,1908.2C828.2,1911.1 834.9,1912.5 839.2,1914.2C843.6,1916.0 851.4,1917.1 855.4,1920.3C859.5,1923.5 864.1,1932.2 867.6,1936.5C871.1,1940.9 877.7,1946.7 879.8,1950.7C881.8,1954.8 880.1,1960.0 881.8,1964.9C883.5,1969.9 889.6,1980.3 891.9,1985.2C894.3,1990.1 897.4,1994.8 898.0,1999.4C898.6,2004.0 896.0,2012.1 896.0,2017.6C896.0,2023.1 896.9,2032.7 898.0,2037.9C899.2,2043.1 902.8,2050.4 904.1,2054.1C905.4,2057.9 905.7,2064.2 907.3,2064.3C909.0,2064.3 915.5,2054.6 915.5,2054.6C915.5,2054.6 926.0,2045.5 929.4,2044.5C932.9,2043.4 936.7,2045.5 939.6,2047.0C942.5,2048.4 946.3,2054.4 949.7,2054.6C953.1,2054.8 959.5,2049.7 963.6,2048.3C967.8,2046.8 974.9,2045.9 978.8,2044.5C982.8,2043.0 987.5,2039.6 991.5,2038.1C995.5,2036.7 1001.8,2034.9 1006.7,2034.3C1011.6,2033.8 1022.8,2033.2 1025.7,2034.3C1028.6,2035.4 1024.6,2040.5 1027.0,2041.9C1029.3,2043.4 1037.1,2043.5 1042.2,2044.5C1047.3,2045.4 1062.5,2048.3 1062.5,2048.3C1062.5,2048.3 1070.1,2051.0 1072.6,2049.5C1075.1,2048.1 1080.2,2038.1 1080.2,2038.1C1080.2,2038.1 1070.8,2034.8 1068.8,2033.0C1066.8,2031.3 1061.0,2027.6 1066.3,2026.0C1071.5,2024.3 1097.4,2024.1 1105.5,2021.6C1113.7,2019.2 1119.7,2011.5 1123.3,2009.0C1126.9,2006.4 1130.5,2006.4 1130.9,2003.9C1131.2,2001.4 1127.4,1994.9 1125.8,1991.2C1124.2,1987.6 1121.5,1982.2 1119.5,1978.6C1117.5,1974.9 1113.7,1969.3 1111.9,1965.9C1110.1,1962.5 1107.9,1957.6 1106.8,1954.5C1105.7,1951.4 1105.4,1947.1 1104.3,1944.3C1103.2,1941.6 1099.1,1938.9 1099.2,1935.5C1099.3,1932.0 1102.0,1923.1 1104.8,1920.3C1107.6,1917.6 1115.8,1918.0 1119.0,1916.3C1122.2,1914.5 1125.1,1911.6 1127.1,1908.2C1129.1,1904.7 1131.5,1896.1 1133.2,1891.9C1134.9,1887.8 1137.5,1880.4 1139.3,1879.0C1141.0,1877.5 1143.6,1880.0 1145.4,1881.8C1147.1,1883.7 1149.7,1888.9 1151.4,1891.9C1153.2,1895.0 1155.2,1902.4 1157.5,1903.3C1159.9,1904.2 1163.0,1898.5 1167.7,1898.4C1172.5,1898.2 1184.0,1902.4 1190.5,1902.2C1197.1,1902.0 1207.2,1898.9 1213.4,1897.1C1219.5,1895.3 1228.9,1890.8 1233.6,1889.5C1238.3,1888.3 1241.2,1887.9 1246.3,1888.3C1251.4,1888.6 1263.3,1891.3 1269.1,1892.1C1274.9,1892.8 1282.1,1892.4 1286.8,1893.3C1291.6,1894.2 1297.0,1896.0 1302.1,1898.4C1307.1,1900.7 1316.5,1906.4 1322.3,1909.8C1328.1,1913.2 1337.2,1918.5 1342.6,1922.5C1348.0,1926.4 1355.6,1933.7 1360.3,1937.7C1365.0,1941.7 1375.5,1950.3 1375.5,1950.3C1375.5,1950.3 1382.1,1940.6 1385.7,1940.2C1389.3,1939.8 1395.5,1945.3 1400.9,1947.8C1406.3,1950.3 1417.2,1954.7 1423.7,1957.9C1430.2,1961.2 1440.0,1966.6 1446.5,1970.6C1453.0,1974.6 1462.8,1981.5 1469.3,1985.8C1475.8,1990.2 1486.0,1998.1 1492.1,2001.0C1498.3,2003.9 1507.0,2005.0 1512.4,2006.1C1517.8,2007.2 1526.9,2009.0 1530.1,2008.6C1533.4,2008.3 1531.6,2003.9 1535.2,2003.6C1538.8,2003.2 1549.3,2004.8 1555.5,2006.1C1561.6,2007.4 1574.7,2010.3 1578.3,2012.4C1581.9,2014.6 1578.3,2019.3 1580.8,2021.3C1583.4,2023.3 1592.2,2024.7 1596.0,2026.4C1599.8,2028.0 1604.2,2033.1 1607.4,2032.7C1610.7,2032.3 1616.1,2026.7 1618.8,2023.8C1621.5,2020.9 1623.5,2015.3 1626.4,2012.4C1629.3,2009.5 1636.7,2008.1 1639.1,2003.6C1641.5,1999.0 1641.8,1986.5 1642.9,1980.8C1644.0,1975.0 1646.8,1962.9 1646.7,1963.0C1646.6,1963.1 1642.7,1980.9 1642.5,1981.2C1642.3,1981.5 1644.0,1969.0 1645.3,1965.0C1646.6,1960.9 1649.4,1956.3 1651.4,1952.8C1653.4,1949.3 1658.8,1944.1 1659.5,1940.6C1660.2,1937.2 1656.3,1931.4 1656.3,1928.5C1656.3,1925.6 1657.3,1922.7 1659.5,1920.4C1661.7,1918.1 1668.8,1914.9 1671.7,1912.3C1674.6,1909.7 1678.0,1903.3 1679.8,1902.1C1681.5,1901.0 1681.2,1904.3 1683.8,1904.2C1686.4,1904.0 1693.4,1900.6 1698.0,1900.9C1702.7,1901.2 1711.3,1905.1 1716.3,1906.2C1721.2,1907.2 1727.9,1907.1 1732.5,1908.2C1737.1,1909.4 1744.1,1912.3 1748.7,1914.3C1753.3,1916.3 1761.2,1920.1 1764.9,1922.4C1768.7,1924.7 1772.2,1929.2 1775.1,1930.5C1778.0,1931.8 1781.7,1931.1 1785.2,1931.7C1788.7,1932.3 1796.2,1935.9 1799.4,1934.6C1802.6,1933.2 1804.3,1924.7 1807.5,1922.4C1810.7,1920.1 1817.3,1919.9 1821.7,1918.3C1826.0,1916.8 1834.4,1911.2 1837.9,1911.5C1841.4,1911.7 1843.7,1917.9 1846.0,1920.4C1848.3,1922.8 1851.2,1926.9 1854.1,1928.5C1857.0,1930.1 1863.4,1931.7 1866.3,1931.7C1869.2,1931.7 1874.4,1928.5 1874.4,1928.5C1874.4,1928.5 1878.9,1914.9 1880.5,1910.2C1882.1,1905.6 1885.8,1899.8 1885.8,1896.0C1885.8,1892.3 1882.1,1887.6 1880.5,1883.9C1878.9,1880.1 1875.6,1873.7 1874.4,1869.7C1873.2,1865.6 1871.7,1859.8 1872.4,1855.5C1873.1,1851.2 1879.6,1843.6 1879.3,1839.3C1879.0,1834.9 1872.8,1828.3 1870.3,1825.1C1867.9,1821.9 1865.1,1819.6 1862.2,1817.0C1859.3,1814.4 1852.4,1809.4 1850.1,1806.8C1847.8,1804.2 1846.3,1803.4 1846.0,1798.7C1845.7,1794.1 1847.8,1781.4 1848.0,1774.4C1848.3,1767.5 1848.6,1754.4 1848.0,1750.1C1847.5,1745.7 1844.3,1745.6 1844.0,1744.0C1843.7,1742.4 1844.0,1739.9 1846.0,1738.7C1848.0,1737.6 1854.1,1736.9 1858.2,1735.9C1862.2,1734.9 1870.6,1731.8 1874.4,1731.8C1878.2,1731.8 1881.9,1735.9 1884.5,1735.9C1887.1,1735.9 1889.8,1733.9 1892.7,1731.8C1895.5,1729.8 1902.8,1724.9 1904.8,1721.7C1906.8,1718.5 1903.7,1712.1 1906.8,1709.5C1910.0,1706.9 1921.9,1704.3 1927.1,1703.4C1932.3,1702.6 1940.7,1704.0 1943.3,1703.4C1945.9,1702.9 1946.2,1700.6 1945.4,1699.4C1944.5,1698.2 1939.3,1696.8 1937.3,1695.3C1935.2,1693.9 1931.0,1691.0 1931.2,1689.3C1931.3,1687.5 1937.3,1686.4 1938.5,1683.2C1939.6,1680.0 1940.0,1670.7 1939.3,1667.0C1938.5,1663.2 1934.6,1660.0 1933.2,1656.8C1931.8,1653.6 1931.2,1646.7 1929.1,1644.7C1927.1,1642.6 1921.6,1644.4 1919.0,1642.6C1916.4,1640.9 1913.8,1636.3 1910.9,1632.5C1908.0,1628.7 1903.1,1617.1 1898.7,1616.3C1894.4,1615.4 1884.3,1625.8 1880.5,1626.4C1876.7,1627.0 1873.8,1622.9 1872.4,1620.3C1870.9,1617.7 1872.7,1612.8 1870.3,1608.2C1868.0,1603.5 1859.6,1592.5 1856.2,1587.9C1852.7,1583.3 1848.0,1579.5 1846.0,1575.7C1844.0,1572.0 1843.7,1566.2 1842.0,1561.5C1840.2,1556.9 1836.2,1546.5 1833.9,1543.3C1831.5,1540.1 1827.8,1540.7 1825.7,1539.2C1823.7,1537.8 1820.2,1535.2 1819.7,1533.1C1819.1,1531.1 1819.7,1527.4 1821.7,1525.0C1823.7,1522.7 1831.8,1520.1 1833.9,1516.9C1835.9,1513.7 1836.5,1505.1 1835.9,1502.7C1835.3,1500.4 1831.9,1501.3 1829.8,1500.7C1827.7,1500.1 1821.5,1501.0 1820.9,1498.7C1820.3,1496.4 1825.3,1488.5 1825.7,1484.5C1826.2,1480.4 1825.2,1473.2 1823.7,1470.3C1822.3,1467.4 1817.6,1467.7 1815.6,1464.2C1813.6,1460.7 1811.8,1449.4 1809.5,1446.0C1807.2,1442.5 1801.1,1441.9 1799.4,1439.9C1797.7,1437.9 1796.2,1434.4 1797.4,1431.8C1798.5,1429.2 1806.3,1424.4 1807.5,1421.6C1808.7,1418.9 1806.9,1414.7 1805.5,1412.7C1804.0,1410.7 1797.4,1407.5 1797.4,1407.5C1797.4,1407.5 1785.8,1407.2 1781.2,1405.5C1776.6,1403.8 1769.0,1397.4 1765.0,1395.4C1760.9,1393.4 1756.9,1392.8 1752.8,1391.3C1748.8,1389.9 1740.1,1387.2 1736.6,1385.3C1733.1,1383.3 1731.4,1377.7 1728.5,1378.0C1725.6,1378.2 1719.8,1384.5 1716.3,1387.3C1712.8,1390.1 1706.8,1393.6 1704.2,1397.4C1701.5,1401.2 1699.5,1409.0 1698.1,1413.6C1696.6,1418.3 1694.0,1429.9 1694.0,1429.9C1694.0,1429.9 1683.9,1446.1 1683.9,1446.1C1683.9,1446.1 1676.2,1447.0 1675.8,1445.3C1675.3,1443.5 1680.3,1437.8 1680.6,1433.9C1680.9,1430.0 1679.7,1420.9 1677.8,1417.7C1675.9,1414.5 1671.4,1413.6 1667.7,1411.6C1663.9,1409.6 1654.9,1406.4 1651.4,1403.5C1648.0,1400.6 1646.2,1393.4 1643.3,1391.3C1640.4,1389.3 1634.6,1388.6 1631.2,1389.3C1627.7,1390.1 1621.8,1396.9 1619.0,1396.6C1616.2,1396.3 1614.0,1390.1 1611.7,1387.3C1609.4,1384.5 1605.5,1379.2 1602.8,1377.1C1600.1,1375.1 1595.0,1374.2 1592.7,1373.1C1590.3,1371.9 1593.2,1371.9 1586.6,1369.0C1579.9,1366.1 1555.6,1357.2 1546.0,1352.8C1536.5,1348.5 1526.0,1341.5 1519.7,1338.6C1513.3,1335.7 1506.9,1334.1 1501.4,1332.5C1495.9,1331.0 1485.5,1328.9 1481.1,1327.7C1476.8,1326.4 1473.9,1323.9 1471.0,1323.6C1468.1,1323.3 1464.1,1324.5 1460.9,1325.6C1457.7,1326.8 1452.8,1330.6 1448.7,1331.7C1444.7,1332.8 1436.5,1333.5 1432.5,1333.4C1428.4,1333.2 1424.4,1330.0 1420.3,1330.5C1416.3,1331.0 1409.3,1335.1 1404.1,1336.6C1398.9,1338.0 1389.6,1340.5 1383.8,1340.6C1378.0,1340.8 1368.2,1337.5 1363.6,1337.8C1358.9,1338.1 1356.6,1341.1 1351.4,1342.7C1346.2,1344.2 1334.0,1347.3 1327.1,1348.8C1320.1,1350.2 1309.1,1352.1 1302.7,1352.8C1296.4,1353.5 1286.8,1354.8 1282.5,1353.6C1278.1,1352.5 1276.4,1347.6 1272.3,1344.7C1268.3,1341.8 1257.6,1336.2 1254.1,1333.4C1250.6,1330.5 1250.3,1326.6 1248.0,1324.4C1245.7,1322.3 1241.6,1318.9 1237.9,1318.3C1234.1,1317.8 1228.0,1320.8 1221.6,1320.4C1215.3,1320.0 1199.9,1315.8 1193.3,1315.5C1186.6,1315.2 1180.8,1319.4 1175.0,1318.3C1169.2,1317.3 1158.5,1310.5 1152.7,1308.2C1146.9,1305.9 1138.5,1304.3 1134.5,1302.1C1130.4,1299.9 1126.9,1296.0 1124.3,1292.8C1121.7,1289.6 1119.8,1282.1 1116.2,1279.8C1112.7,1277.6 1102.9,1278.9 1099.5,1277.1C1096.2,1275.3 1094.8,1269.6 1092.7,1267.0C1090.5,1264.3 1086.6,1261.3 1084.5,1258.8C1082.5,1256.4 1081.1,1252.4 1078.5,1249.5C1075.9,1246.6 1070.1,1241.5 1066.3,1238.6C1062.5,1235.7 1055.3,1231.6 1052.1,1229.2C1048.9,1226.9 1045.3,1225.1 1044.0,1222.4C1042.7,1219.6 1043.9,1213.4 1042.8,1210.2C1041.6,1207.0 1037.6,1203.5 1035.9,1200.1C1034.1,1196.6 1031.8,1189.8 1030.6,1185.9C1029.5,1181.9 1027.6,1175.1 1027.8,1172.5C1027.9,1169.9 1031.3,1170.6 1031.8,1167.6C1032.4,1164.6 1032.4,1156.6 1031.8,1151.4C1031.3,1146.2 1028.8,1135.5 1027.8,1131.1C1026.8,1126.8 1026.1,1124.2 1024.9,1121.0C1023.8,1117.8 1022.2,1112.0 1019.7,1108.8C1017.2,1105.6 1009.5,1101.3 1007.5,1098.7C1005.5,1096.1 1007.2,1092.0 1005.5,1090.6C1003.7,1089.1 998.2,1090.0 995.3,1088.5C992.4,1087.1 987.8,1083.0 985.2,1080.4C982.6,1077.8 978.5,1075.2 977.1,1070.3C975.6,1065.4 975.9,1051.8 975.1,1046.0C974.2,1040.2 972.6,1033.8 971.0,1029.8C969.4,1025.7 964.1,1017.6 964.1,1017.6Z" fill="#ced2d6"/>
<path d="M1080.2,2038.1C1080.2,2038.1 1070.8,2034.8 1068.8,2033.0C1066.8,2031.3 1061.0,2027.6 1066.3,2026.0C1071.5,2024.3 1097.4,2024.1 1105.5,2021.6C1113.7,2019.2 1119.7,2011.5 1123.3,2009.0C1126.9,2006.4 1130.5,2006.4 1130.9,2003.9C1131.2,2001.4 1127.4,1994.9 1125.8,1991.2C1124.2,1987.6 1121.5,1982.2 1119.5,1978.6C1117.5,1974.9 1113.7,1969.3 1111.9,1965.9C1110.1,1962.5 1107.9,1957.6 1106.8,1954.5C1105.7,1951.4 1105.4,1947.1 1104.3,1944.3C1103.2,1941.6 1099.1,1938.9 1099.2,1935.5C1099.3,1932.0 1102.0,1923.1 1104.8,1920.3C1107.6,1917.6 1115.8,1918.0 1119.0,1916.3C1122.2,1914.5 1125.1,1911.6 1127.1,1908.2C1129.1,1904.7 1131.5,1896.1 1133.2,1891.9C1134.9,1887.8 1137.5,1880.4 1139.3,1879.0C1141.0,1877.5 1143.6,1880.0 1145.4,1881.8C1147.1,1883.7 1149.7,1888.9 1151.4,1891.9C1153.2,1895.0 1155.2,1902.4 1157.5,1903.3C1159.9,1904.2 1163.0,1898.5 1167.7,1898.4C1172.5,1898.2 1184.0,1902.4 1190.5,1902.2C1197.1,1902.0 1207.2,1898.9 1213.4,1897.1C1219.5,1895.3 1228.9,1890.8 1233.6,1889.5C1238.3,1888.3 1241.2,1887.9 1246.3,1888.3C1251.4,1888.6 1263.3,1891.3 1269.1,1892.1C1274.9,1892.8 1282.1,1892.4 1286.8,1893.3C1291.6,1894.2 1297.0,1896.0 1302.1,1898.4C1307.1,1900.7 1316.5,1906.4 1322.3,1909.8C1328.1,1913.2 1337.2,1918.5 1342.6,1922.5C1348.0,1926.4 1355.6,1933.7 1360.3,1937.7C1365.0,1941.7 1375.5,1950.3 1375.5,1950.3C1375.5,1950.3 1364.7,1962.6 1360.3,1968.1C1356.0,1973.5 1349.1,1984.0 1345.1,1988.4C1341.2,1992.7 1336.8,1995.2 1332.5,1998.5C1328.1,2001.7 1319.1,2007.9 1314.7,2011.2C1310.4,2014.4 1305.3,2017.3 1302.1,2021.3C1298.8,2025.3 1291.9,2039.0 1291.9,2039.0C1291.9,2039.0 1284.3,2056.8 1284.3,2056.8C1284.3,2056.8 1266.9,2070.9 1261.5,2074.5C1256.1,2078.1 1251.4,2079.8 1246.3,2082.1C1241.2,2084.5 1232.5,2088.5 1226.0,2091.0C1219.5,2093.5 1206.8,2097.9 1200.7,2099.9C1194.5,2101.8 1185.5,2103.2 1182.9,2104.9C1180.4,2106.6 1182.8,2111.6 1182.8,2111.6C1182.8,2111.6 1180.7,2106.9 1179.0,2106.5C1177.4,2106.2 1174.0,2108.3 1171.4,2109.1C1168.9,2109.8 1163.3,2112.5 1161.3,2111.6C1159.3,2110.7 1159.7,2104.7 1157.5,2102.7C1155.3,2100.7 1149.5,2098.6 1146.1,2097.7C1142.7,2096.8 1136.7,2098.6 1133.4,2096.4C1130.2,2094.2 1126.4,2087.4 1123.3,2082.5C1120.2,2077.6 1115.9,2066.5 1111.9,2062.2C1107.9,2057.8 1099.9,2055.5 1095.4,2052.1C1090.9,2048.6 1080.2,2038.1 1080.2,2038.1Z" fill="#f3f6ee"/>
<path d="M1182.8,2111.6C1182.8,2111.6 1166.9,2115.2 1161.3,2116.7C1155.7,2118.1 1147.4,2120.3 1143.6,2121.7C1139.8,2123.2 1136.3,2124.6 1134.7,2126.8C1133.1,2129.0 1132.0,2133.9 1132.2,2136.9C1132.3,2140.0 1134.0,2143.8 1136.0,2148.4C1137.9,2152.9 1143.2,2162.8 1146.1,2168.6C1149.0,2174.4 1153.7,2183.8 1156.2,2188.9C1158.8,2194.0 1161.7,2200.1 1163.8,2204.1C1166.0,2208.1 1168.5,2213.2 1171.4,2216.8C1174.3,2220.4 1179.8,2225.3 1184.1,2229.4C1188.4,2233.6 1198.2,2243.9 1201.8,2245.9C1205.5,2247.9 1206.6,2243.0 1209.4,2243.4C1212.3,2243.7 1218.7,2247.0 1222.1,2248.5C1225.6,2249.9 1231.5,2251.2 1233.5,2253.5C1235.5,2255.9 1234.1,2262.2 1236.1,2264.9C1238.0,2267.6 1244.0,2269.8 1247.5,2272.5C1250.9,2275.2 1257.4,2280.7 1260.1,2283.9C1262.8,2287.2 1264.8,2293.0 1266.5,2295.3C1268.1,2297.7 1271.5,2300.4 1271.5,2300.4C1271.5,2300.4 1284.9,2302.2 1290.5,2302.9C1296.2,2303.7 1305.0,2304.2 1310.8,2305.5C1316.6,2306.7 1331.1,2311.8 1331.1,2311.8C1331.1,2311.8 1346.5,2317.8 1348.8,2316.9C1351.2,2316.0 1347.6,2305.5 1347.6,2305.5C1347.6,2305.5 1350.1,2294.6 1351.4,2290.3C1352.6,2285.9 1355.3,2279.4 1356.4,2275.1C1357.5,2270.7 1359.0,2264.6 1359.0,2259.9C1359.0,2255.2 1357.9,2245.7 1356.4,2242.1C1355.0,2238.5 1350.8,2237.4 1348.8,2234.5C1346.8,2231.6 1343.8,2226.2 1342.5,2221.8C1341.2,2217.5 1339.8,2208.8 1340.0,2204.1C1340.1,2199.4 1342.7,2193.2 1343.8,2188.9C1344.8,2184.6 1347.2,2178.0 1347.6,2173.7C1347.9,2169.4 1348.3,2161.0 1346.3,2158.5C1344.3,2156.0 1337.2,2158.7 1333.6,2156.0C1330.0,2153.2 1324.6,2145.3 1321.0,2139.5C1317.3,2133.7 1311.9,2124.3 1308.3,2115.4C1304.7,2106.5 1298.3,2086.4 1295.6,2077.4C1292.9,2068.3 1289.3,2052.1 1289.3,2052.1C1289.3,2052.1 1284.3,2056.8 1284.3,2056.8C1284.3,2056.8 1266.9,2070.9 1261.5,2074.5C1256.1,2078.1 1251.4,2079.8 1246.3,2082.1C1241.2,2084.5 1232.5,2088.5 1226.0,2091.0C1219.5,2093.5 1206.8,2097.9 1200.7,2099.9C1194.5,2101.8 1185.5,2103.2 1182.9,2104.9C1180.4,2106.6 1182.8,2111.6 1182.8,2111.6Z" fill="#e8ecee"/>
<path d="M906.6,2064.7C905.5,2068.0 908.1,2072.0 907.9,2077.4C907.7,2082.8 905.0,2096.2 905.3,2102.7C905.7,2109.3 909.0,2119.0 910.4,2123.0C911.9,2127.0 914.9,2126.3 915.5,2130.6C916.0,2135.0 915.5,2148.0 914.2,2153.4C912.9,2158.9 907.0,2165.4 906.6,2168.6C906.2,2171.9 909.9,2174.6 911.7,2176.2C913.5,2177.9 918.6,2177.1 919.3,2180.0C920.0,2182.9 917.8,2192.7 916.7,2196.5C915.7,2200.3 911.1,2203.4 911.7,2206.6C912.2,2209.9 918.2,2216.1 920.5,2219.3C922.9,2222.6 926.5,2225.1 928.2,2229.4C929.8,2233.8 930.7,2244.3 932.0,2249.7C933.2,2255.2 935.6,2262.0 937.0,2267.5C938.5,2272.9 942.1,2287.7 942.1,2287.7C942.1,2287.7 950.2,2287.4 953.5,2286.5C956.8,2285.6 962.5,2281.6 964.9,2281.4C967.2,2281.2 969.1,2282.1 970.0,2285.2C970.9,2288.3 970.1,2299.5 971.2,2302.9C972.3,2306.4 975.9,2307.5 977.6,2309.3C979.2,2311.1 980.6,2312.9 982.6,2315.6C984.6,2318.3 988.8,2326.1 991.5,2328.3C994.2,2330.5 998.7,2329.4 1001.6,2330.8C1004.5,2332.3 1007.8,2337.5 1011.8,2338.4C1015.8,2339.3 1025.5,2338.2 1029.5,2337.2C1033.5,2336.1 1036.8,2331.9 1039.7,2330.8C1042.6,2329.7 1046.5,2329.0 1049.8,2329.5C1053.1,2330.1 1059.4,2333.9 1062.5,2334.6C1065.5,2335.3 1066.3,2335.5 1071.3,2334.6C1076.4,2333.7 1090.5,2330.5 1097.9,2328.3C1105.4,2326.1 1118.2,2320.3 1123.3,2319.4C1128.4,2318.5 1130.5,2320.0 1133.4,2321.9C1136.3,2323.9 1140.1,2329.7 1143.6,2333.4C1147.0,2337.0 1154.2,2345.7 1157.5,2347.3C1160.8,2348.9 1162.6,2346.4 1166.4,2344.8C1170.2,2343.1 1178.7,2338.1 1184.1,2335.9C1189.5,2333.7 1199.7,2331.4 1204.4,2329.5C1209.1,2327.7 1213.2,2325.2 1217.1,2323.2C1220.9,2321.2 1228.5,2317.6 1231.0,2315.6C1233.5,2313.6 1232.8,2310.4 1234.8,2309.3C1236.8,2308.2 1241.3,2308.7 1244.9,2308.0C1248.5,2307.3 1256.3,2305.3 1260.1,2304.2C1263.9,2303.1 1271.5,2300.4 1271.5,2300.4C1271.5,2300.4 1268.1,2297.7 1266.5,2295.3C1264.8,2293.0 1262.8,2287.2 1260.1,2283.9C1257.4,2280.7 1250.9,2275.2 1247.5,2272.5C1244.0,2269.8 1238.0,2267.6 1236.1,2264.9C1234.1,2262.2 1235.5,2255.9 1233.5,2253.5C1231.5,2251.2 1225.6,2249.9 1222.1,2248.5C1218.7,2247.0 1212.3,2243.7 1209.4,2243.4C1206.6,2243.0 1205.5,2247.9 1201.8,2245.9C1198.2,2243.9 1188.4,2233.6 1184.1,2229.4C1179.8,2225.3 1174.3,2220.4 1171.4,2216.8C1168.5,2213.2 1166.0,2208.1 1163.8,2204.1C1161.7,2200.1 1158.8,2194.0 1156.2,2188.9C1153.7,2183.8 1149.0,2174.4 1146.1,2168.6C1143.2,2162.8 1137.9,2152.9 1136.0,2148.4C1134.0,2143.8 1132.3,2140.0 1132.2,2136.9C1132.0,2133.9 1133.1,2129.0 1134.7,2126.8C1136.3,2124.6 1139.8,2123.2 1143.6,2121.7C1147.4,2120.3 1155.7,2118.1 1161.3,2116.7C1166.9,2115.2 1182.8,2111.6 1182.8,2111.6C1182.8,2111.6 1180.7,2106.9 1179.0,2106.5C1177.4,2106.2 1174.0,2108.3 1171.4,2109.1C1168.9,2109.8 1163.3,2112.5 1161.3,2111.6C1159.3,2110.7 1159.7,2104.7 1157.5,2102.7C1155.3,2100.7 1149.5,2098.6 1146.1,2097.7C1142.7,2096.8 1136.7,2098.6 1133.4,2096.4C1130.2,2094.2 1126.4,2087.4 1123.3,2082.5C1120.2,2077.6 1115.9,2066.5 1111.9,2062.2C1107.9,2057.8 1099.9,2055.5 1095.4,2052.1C1090.9,2048.6 1080.2,2038.1 1080.2,2038.1C1080.2,2038.1 1062.5,2048.3 1062.5,2048.3C1062.5,2048.3 1047.3,2045.4 1042.2,2044.5C1037.1,2043.5 1029.3,2043.4 1027.0,2041.9C1024.6,2040.5 1028.6,2035.4 1025.7,2034.3C1022.8,2033.2 1011.6,2033.8 1006.7,2034.3C1001.8,2034.9 995.5,2036.7 991.5,2038.1C987.5,2039.6 982.8,2043.0 978.8,2044.5C974.9,2045.9 967.8,2046.8 963.6,2048.3C959.5,2049.7 953.1,2054.8 949.7,2054.6C946.3,2054.4 942.5,2048.4 939.6,2047.0C936.7,2045.5 932.9,2043.4 929.4,2044.5C926.0,2045.5 915.5,2054.6 915.5,2054.6C915.5,2054.6 907.7,2061.5 906.6,2064.7Z" fill="#eff3f4"/>
<path d="M1375.5,1950.3C1375.5,1950.3 1382.1,1940.6 1385.7,1940.2C1389.3,1939.8 1395.5,1945.3 1400.9,1947.8C1406.3,1950.3 1417.2,1954.7 1423.7,1957.9C1430.2,1961.2 1440.0,1966.6 1446.5,1970.6C1453.0,1974.6 1462.8,1981.5 1469.3,1985.8C1475.8,1990.2 1486.0,1998.1 1492.1,2001.0C1498.3,2003.9 1507.0,2005.0 1512.4,2006.1C1517.8,2007.2 1526.9,2009.0 1530.1,2008.6C1533.4,2008.3 1531.6,2003.9 1535.2,2003.6C1538.8,2003.2 1549.3,2004.8 1555.5,2006.1C1561.6,2007.4 1574.7,2010.3 1578.3,2012.4C1581.9,2014.6 1578.3,2019.3 1580.8,2021.3C1583.4,2023.3 1592.2,2024.7 1596.0,2026.4C1599.8,2028.0 1604.2,2033.1 1607.4,2032.7C1610.7,2032.3 1616.1,2026.7 1618.8,2023.8C1621.5,2020.9 1623.5,2015.3 1626.4,2012.4C1629.3,2009.5 1636.7,2008.1 1639.1,2003.6C1641.5,1999.0 1641.8,1986.5 1642.9,1980.8C1644.0,1975.0 1646.8,1962.9 1646.7,1963.0C1646.6,1963.1 1642.7,1980.9 1642.5,1981.2C1642.3,1981.5 1644.0,1969.0 1645.3,1965.0C1646.6,1960.9 1649.4,1956.3 1651.4,1952.8C1653.4,1949.3 1658.8,1944.1 1659.5,1940.6C1660.2,1937.2 1656.3,1931.4 1656.3,1928.5C1656.3,1925.6 1657.3,1922.7 1659.5,1920.4C1661.7,1918.1 1668.8,1914.9 1671.7,1912.3C1674.6,1909.7 1678.0,1903.3 1679.8,1902.1C1681.5,1901.0 1681.2,1904.3 1683.8,1904.2C1686.4,1904.0 1693.4,1900.6 1698.0,1900.9C1702.7,1901.2 1711.3,1905.1 1716.3,1906.2C1721.2,1907.2 1727.9,1907.1 1732.5,1908.2C1737.1,1909.4 1744.1,1912.3 1748.7,1914.3C1753.3,1916.3 1761.2,1920.1 1764.9,1922.4C1768.7,1924.7 1772.2,1929.2 1775.1,1930.5C1778.0,1931.8 1781.7,1931.1 1785.2,1931.7C1788.7,1932.3 1796.2,1935.9 1799.4,1934.6C1802.6,1933.2 1804.3,1924.7 1807.5,1922.4C1810.7,1920.1 1817.3,1919.9 1821.7,1918.3C1826.0,1916.8 1834.4,1911.2 1837.9,1911.5C1841.4,1911.7 1843.7,1917.9 1846.0,1920.4C1848.3,1922.8 1851.2,1926.9 1854.1,1928.5C1857.0,1930.1 1863.4,1931.7 1866.3,1931.7C1869.2,1931.7 1874.4,1928.5 1874.4,1928.5C1874.4,1928.5 1878.7,1941.2 1880.5,1944.7C1882.2,1948.2 1884.8,1950.6 1886.6,1952.8C1888.3,1955.0 1892.9,1957.8 1892.7,1960.1C1892.4,1962.4 1887.1,1966.7 1884.5,1969.0C1881.9,1971.3 1875.3,1973.4 1874.4,1976.3C1873.5,1979.2 1876.7,1985.7 1878.5,1989.3C1880.2,1992.9 1883.7,1998.0 1886.6,2001.5C1889.5,2004.9 1896.4,2010.2 1898.7,2013.6C1901.0,2017.1 1900.5,2024.4 1902.8,2025.8C1905.1,2027.2 1911.8,2022.6 1915.0,2023.8C1918.1,2024.9 1922.9,2030.6 1925.1,2033.9C1927.3,2037.3 1929.2,2044.1 1930.5,2047.2C1931.9,2050.2 1934.9,2053.0 1934.6,2055.3C1934.3,2057.6 1929.4,2059.1 1928.5,2063.4C1927.6,2067.7 1929.6,2081.6 1928.5,2085.7C1927.3,2089.8 1923.9,2091.2 1920.4,2091.8C1916.9,2092.4 1909.4,2090.3 1904.2,2089.8C1898.9,2089.2 1889.1,2089.6 1883.9,2087.7C1878.7,2085.9 1871.1,2077.1 1867.7,2076.8C1864.2,2076.5 1862.7,2083.4 1859.6,2085.7C1856.4,2088.0 1848.0,2090.7 1845.4,2093.0C1842.8,2095.3 1844.5,2099.6 1841.3,2101.9C1838.1,2104.2 1828.9,2108.5 1823.1,2109.2C1817.3,2109.9 1806.8,2106.5 1800.8,2106.8C1794.7,2107.0 1786.0,2110.5 1780.5,2110.8C1775.0,2111.2 1765.4,2108.2 1762.2,2109.2C1759.1,2110.3 1758.5,2115.1 1758.2,2118.1C1757.9,2121.1 1762.5,2129.1 1760.2,2130.3C1757.9,2131.5 1746.3,2126.2 1742.0,2126.2C1737.6,2126.2 1733.0,2129.1 1729.8,2130.3C1726.6,2131.5 1722.0,2131.7 1719.7,2134.4C1717.3,2137.0 1717.1,2145.6 1713.6,2148.5C1710.1,2151.4 1700.6,2152.6 1695.3,2154.6C1690.1,2156.7 1680.6,2160.1 1677.1,2162.7C1673.6,2165.3 1673.3,2170.8 1671.0,2172.9C1668.7,2174.9 1662.9,2174.0 1660.9,2176.9C1658.8,2179.8 1658.8,2188.8 1656.8,2193.1C1654.8,2197.5 1648.4,2204.4 1646.7,2207.3C1644.9,2210.2 1646.7,2211.7 1644.7,2213.4C1642.6,2215.2 1635.4,2217.9 1632.5,2219.5C1629.6,2221.1 1627.3,2224.1 1624.4,2224.4C1621.5,2224.7 1615.4,2221.4 1612.2,2221.5C1609.0,2221.7 1605.3,2225.3 1602.1,2225.6C1598.9,2225.9 1592.3,2222.7 1589.9,2223.6C1587.5,2224.4 1585.9,2228.8 1585.0,2231.7C1584.2,2234.6 1583.7,2239.5 1583.8,2243.8C1583.9,2248.2 1585.6,2256.3 1585.9,2262.1C1586.1,2267.9 1585.9,2279.2 1585.9,2284.4C1585.9,2289.6 1586.7,2295.4 1585.9,2298.6C1585.0,2301.8 1582.3,2304.9 1579.8,2306.7C1577.3,2308.4 1570.2,2307.5 1568.4,2310.7C1566.7,2313.9 1569.2,2324.3 1567.6,2329.0C1566.0,2333.6 1559.5,2339.7 1557.5,2343.2C1555.4,2346.6 1556.0,2351.0 1553.4,2353.3C1550.8,2355.6 1543.9,2358.8 1539.2,2359.4C1534.6,2360.0 1525.3,2357.4 1521.0,2357.4C1516.6,2357.4 1513.2,2360.4 1508.8,2359.4C1504.5,2358.3 1496.1,2351.8 1490.6,2350.1C1485.1,2348.3 1474.4,2346.5 1470.3,2347.2C1466.2,2348.0 1463.9,2352.7 1462.2,2355.3C1460.5,2357.9 1459.9,2362.9 1458.1,2365.5C1456.4,2368.1 1452.3,2371.0 1450.0,2373.6C1447.7,2376.2 1444.2,2384.3 1441.9,2383.7C1439.6,2383.1 1433.8,2369.5 1433.8,2369.5C1433.8,2369.5 1425.1,2355.6 1421.6,2351.3C1418.2,2346.9 1413.0,2341.8 1409.5,2339.1C1406.0,2336.4 1401.4,2333.7 1397.3,2332.2C1393.3,2330.8 1385.7,2330.4 1381.1,2329.0C1376.5,2327.5 1369.5,2323.7 1364.9,2322.1C1360.2,2320.5 1348.7,2317.6 1348.7,2317.6C1348.7,2317.6 1347.6,2305.5 1347.6,2305.5C1347.6,2305.5 1350.1,2294.6 1351.4,2290.3C1352.6,2285.9 1355.3,2279.4 1356.4,2275.1C1357.5,2270.7 1359.0,2264.6 1359.0,2259.9C1359.0,2255.2 1357.9,2245.7 1356.4,2242.1C1355.0,2238.5 1350.8,2237.4 1348.8,2234.5C1346.8,2231.6 1343.8,2226.2 1342.5,2221.8C1341.2,2217.5 1339.8,2208.8 1340.0,2204.1C1340.1,2199.4 1342.7,2193.2 1343.8,2188.9C1344.8,2184.6 1347.2,2178.0 1347.6,2173.7C1347.9,2169.4 1348.3,2161.0 1346.3,2158.5C1344.3,2156.0 1337.2,2158.7 1333.6,2156.0C1330.0,2153.2 1324.6,2145.3 1321.0,2139.5C1317.3,2133.7 1311.9,2124.3 1308.3,2115.4C1304.7,2106.5 1298.3,2086.4 1295.6,2077.4C1292.9,2068.3 1289.3,2052.1 1289.3,2052.1C1289.3,2052.1 1291.9,2039.0 1291.9,2039.0C1291.9,2039.0 1298.8,2025.3 1302.1,2021.3C1305.3,2017.3 1310.4,2014.4 1314.7,2011.2C1319.1,2007.9 1328.1,2001.7 1332.5,1998.5C1336.8,1995.2 1341.2,1992.7 1345.1,1988.4C1349.1,1984.0 1356.0,1973.5 1360.3,1968.1C1364.7,1962.6 1375.5,1950.3 1375.5,1950.3Z" fill="#e7ebed"/>
<path d="M942.1,2287.7C942.1,2287.7 924.4,2292.9 921.6,2296.5C918.8,2300.1 922.7,2308.4 922.5,2312.7C922.2,2317.1 921.4,2322.8 919.6,2326.9C917.9,2331.0 910.9,2336.2 910.3,2341.1C909.7,2346.0 913.9,2356.2 915.6,2361.4C917.2,2366.6 919.6,2373.2 921.6,2377.6C923.7,2381.9 928.3,2388.3 929.8,2391.8C931.2,2395.3 930.6,2398.4 931.8,2401.9C932.9,2405.4 938.7,2412.6 937.9,2416.1C937.0,2419.6 928.3,2422.8 925.7,2426.2C923.1,2429.7 918.7,2435.8 919.6,2440.4C920.5,2445.1 928.6,2453.5 931.8,2458.7C935.0,2463.9 939.6,2471.7 941.9,2476.9C944.2,2482.1 947.3,2490.0 948.0,2495.2C948.7,2500.4 947.7,2509.1 946.8,2513.4C945.9,2517.8 941.6,2521.8 941.9,2525.6C942.3,2529.4 948.6,2536.3 949.2,2539.8C949.8,2543.3 945.6,2547.3 946.0,2549.9C946.4,2552.5 951.0,2555.1 952.1,2558.0C953.1,2560.9 954.7,2566.7 953.3,2570.2C951.8,2573.7 943.1,2579.2 941.9,2582.4C940.8,2585.5 944.6,2589.0 945.2,2592.5C945.7,2596.0 947.6,2603.9 946.0,2606.7C944.3,2609.5 937.9,2611.4 933.8,2612.0C929.8,2612.5 921.5,2609.2 917.6,2610.7C913.6,2612.3 909.4,2619.2 906.2,2622.9C903.0,2626.5 898.5,2633.0 895.3,2636.3C892.1,2639.6 883.6,2643.0 883.9,2646.0C884.2,2649.0 893.4,2654.3 897.3,2657.4C901.3,2660.4 908.6,2664.9 911.5,2667.5C914.4,2670.1 915.0,2674.6 917.6,2675.6C920.2,2676.6 926.9,2672.7 929.8,2674.4C932.6,2676.1 935.3,2685.0 937.9,2687.8C940.5,2690.6 945.1,2691.0 948.0,2693.9C950.9,2696.8 956.4,2704.3 958.1,2708.0C959.9,2711.8 958.7,2715.9 960.2,2720.2C961.6,2724.6 965.8,2735.0 968.3,2738.5C970.8,2741.9 975.9,2741.1 977.6,2744.5C979.3,2748.0 979.2,2758.2 980.4,2762.8C981.7,2767.4 985.9,2771.8 986.5,2777.0C987.1,2782.2 984.5,2794.4 984.5,2799.3C984.5,2804.2 987.4,2807.7 986.5,2811.4C985.6,2815.2 980.1,2820.7 978.4,2825.6C976.7,2830.6 976.1,2840.1 974.4,2845.9C972.6,2851.7 968.0,2861.3 966.2,2866.2C964.5,2871.1 964.0,2877.8 962.2,2880.4C960.3,2883.0 952.1,2884.0 953.3,2884.4C954.4,2884.9 965.5,2881.9 970.3,2883.6C975.0,2885.4 982.5,2893.3 986.5,2896.6C990.6,2899.9 995.8,2904.0 998.7,2906.7C1001.6,2909.5 1003.3,2913.7 1006.8,2916.1C1010.3,2918.4 1019.2,2921.2 1023.0,2922.9C1026.8,2924.7 1029.7,2927.9 1033.1,2928.2C1036.6,2928.5 1043.6,2926.3 1047.3,2925.0C1051.1,2923.6 1057.8,2921.8 1059.5,2918.9C1061.2,2916.0 1057.8,2906.4 1059.5,2904.7C1061.2,2903.0 1067.0,2907.3 1071.7,2906.7C1076.3,2906.2 1087.3,2900.4 1091.9,2900.6C1096.6,2900.9 1101.8,2905.9 1104.1,2908.8C1106.4,2911.7 1106.1,2918.3 1108.2,2920.9C1110.2,2923.5 1114.2,2924.7 1118.3,2927.0C1122.4,2929.3 1132.8,2934.2 1136.5,2937.1C1140.3,2940.0 1141.8,2946.1 1144.7,2947.3C1147.5,2948.4 1154.2,2943.8 1156.8,2945.3C1159.4,2946.7 1160.9,2955.1 1162.9,2957.4C1164.9,2959.7 1169.3,2959.7 1171.0,2961.5C1172.7,2963.2 1171.9,2967.3 1175.1,2969.6C1178.2,2971.9 1189.8,2976.2 1193.3,2977.7C1196.8,2979.1 1197.1,2979.3 1199.4,2979.7C1201.7,2980.2 1205.2,2979.9 1209.5,2980.9C1213.9,2981.9 1225.5,2986.5 1229.8,2986.6C1234.1,2986.7 1237.3,2983.9 1239.9,2981.7C1242.5,2979.6 1245.2,2974.5 1248.0,2971.6C1250.9,2968.7 1257.9,2965.2 1260.2,2961.5C1262.5,2957.7 1262.5,2948.7 1264.3,2945.3C1266.0,2941.8 1270.1,2939.5 1272.4,2937.1C1274.7,2934.8 1279.3,2932.8 1280.5,2929.0C1281.6,2925.3 1279.0,2914.0 1280.5,2910.8C1281.9,2907.6 1288.9,2909.3 1290.6,2906.7C1292.4,2904.1 1292.4,2897.5 1292.7,2892.5C1292.9,2887.6 1291.8,2877.5 1292.7,2872.3C1293.5,2867.1 1296.1,2859.5 1298.7,2856.0C1301.3,2852.6 1307.4,2849.4 1310.9,2847.9C1314.4,2846.5 1319.6,2845.8 1323.1,2845.9C1326.5,2846.0 1332.0,2848.7 1335.2,2848.7C1338.4,2848.7 1342.8,2848.1 1345.4,2845.9C1348.0,2843.8 1350.6,2837.2 1353.5,2833.7C1356.4,2830.3 1362.5,2825.1 1365.6,2821.6C1368.8,2818.1 1372.6,2812.3 1375.8,2809.4C1379.0,2806.5 1384.5,2804.5 1387.9,2801.3C1391.4,2798.1 1396.6,2790.3 1400.1,2787.1C1403.6,2783.9 1409.1,2780.7 1412.3,2779.0C1415.5,2777.3 1418.6,2776.0 1422.4,2775.0C1426.2,2773.9 1435.1,2772.0 1438.6,2771.7C1442.1,2771.4 1445.4,2775.4 1446.7,2772.9C1448.1,2770.5 1448.5,2759.6 1447.9,2754.7C1447.4,2749.8 1444.0,2741.9 1442.7,2738.5C1441.3,2735.0 1438.9,2733.2 1438.6,2730.3C1438.3,2727.5 1441.2,2721.7 1440.6,2718.2C1440.1,2714.7 1435.7,2711.8 1434.6,2706.0C1433.4,2700.2 1433.1,2684.0 1432.5,2677.6C1432.0,2671.3 1431.4,2665.2 1430.5,2661.4C1429.6,2657.7 1428.8,2653.9 1426.5,2651.3C1424.1,2648.7 1417.8,2645.8 1414.3,2643.2C1410.8,2640.6 1404.7,2636.8 1402.1,2633.0C1399.5,2629.3 1397.0,2621.5 1396.0,2616.8C1395.1,2612.2 1396.1,2605.5 1395.2,2600.6C1394.4,2595.7 1389.6,2586.5 1390.0,2582.4C1390.4,2578.2 1397.8,2574.6 1398.1,2571.4C1398.4,2568.2 1394.9,2562.3 1392.0,2560.1C1389.1,2557.8 1380.7,2558.9 1377.8,2556.0C1374.9,2553.1 1373.6,2544.1 1371.7,2539.8C1369.8,2535.4 1365.3,2529.6 1364.4,2525.6C1363.6,2521.5 1365.2,2515.7 1365.6,2511.4C1366.1,2507.0 1365.9,2498.9 1367.7,2495.2C1369.4,2491.4 1375.5,2489.1 1377.8,2485.0C1380.1,2481.0 1382.1,2472.3 1383.9,2466.8C1385.6,2461.3 1387.1,2450.3 1390.0,2446.5C1392.9,2442.8 1401.5,2443.9 1404.2,2440.4C1406.8,2437.0 1406.2,2426.8 1408.2,2422.2C1410.2,2417.6 1415.2,2412.1 1418.3,2408.0C1421.5,2403.9 1427.3,2397.3 1430.5,2393.8C1433.7,2390.3 1440.2,2387.1 1440.6,2383.7C1441.1,2380.2 1433.8,2369.5 1433.8,2369.5C1433.8,2369.5 1425.1,2355.6 1421.6,2351.3C1418.2,2346.9 1413.0,2341.8 1409.5,2339.1C1406.0,2336.4 1401.4,2333.7 1397.3,2332.2C1393.3,2330.8 1385.7,2330.4 1381.1,2329.0C1376.5,2327.5 1369.5,2323.7 1364.9,2322.1C1360.2,2320.5 1348.7,2317.6 1348.7,2317.6C1348.7,2317.6 1331.1,2311.8 1331.1,2311.8C1331.1,2311.8 1316.6,2306.7 1310.8,2305.5C1305.0,2304.2 1296.2,2303.7 1290.5,2302.9C1284.9,2302.2 1271.5,2300.4 1271.5,2300.4C1271.5,2300.4 1263.9,2303.1 1260.1,2304.2C1256.3,2305.3 1248.5,2307.3 1244.9,2308.0C1241.3,2308.7 1236.8,2308.2 1234.8,2309.3C1232.8,2310.4 1233.5,2313.6 1231.0,2315.6C1228.5,2317.6 1220.9,2321.2 1217.1,2323.2C1213.2,2325.2 1209.1,2327.7 1204.4,2329.5C1199.7,2331.4 1189.5,2333.7 1184.1,2335.9C1178.7,2338.1 1170.2,2343.1 1166.4,2344.8C1162.6,2346.4 1160.8,2348.9 1157.5,2347.3C1154.2,2345.7 1147.0,2337.0 1143.6,2333.4C1140.1,2329.7 1136.3,2323.9 1133.4,2321.9C1130.5,2320.0 1128.4,2318.5 1123.3,2319.4C1118.2,2320.3 1105.4,2326.1 1097.9,2328.3C1090.5,2330.5 1076.4,2333.7 1071.3,2334.6C1066.3,2335.5 1065.5,2335.3 1062.5,2334.6C1059.4,2333.9 1053.1,2330.1 1049.8,2329.5C1046.5,2329.0 1042.6,2329.7 1039.7,2330.8C1036.8,2331.9 1033.5,2336.1 1029.5,2337.2C1025.5,2338.2 1015.8,2339.3 1011.8,2338.4C1007.8,2337.5 1004.5,2332.3 1001.6,2330.8C998.7,2329.4 994.2,2330.5 991.5,2328.3C988.8,2326.1 984.6,2318.3 982.6,2315.6C980.6,2312.9 979.2,2311.1 977.6,2309.3C975.9,2307.5 972.3,2306.4 971.2,2302.9C970.1,2299.5 970.9,2288.3 970.0,2285.2C969.1,2282.1 967.2,2281.2 964.9,2281.4C962.5,2281.6 956.8,2285.6 953.5,2286.5C950.2,2287.4 942.1,2287.7 942.1,2287.7Z" fill="#dcdfe1"/>
</g>
<g fill="none" stroke="#000" stroke-opacity="0.3" stroke-width="4.86" stroke-linejoin="round">
<path d="M2042.5,706.0C2042.5,706.0 2050.1,712.7 2053.4,713.3C2056.7,713.8 2062.7,711.6 2065.6,710.0C2068.5,708.4 2070.5,702.2 2073.7,701.9C2076.9,701.6 2084.4,707.9 2087.9,708.0C2091.4,708.1 2096.0,704.5 2098.0,702.7C2100.1,701.0 2099.5,695.8 2102.1,695.8C2104.7,695.8 2112.5,702.1 2116.3,702.7C2120.0,703.3 2124.4,701.9 2128.4,699.9C2132.5,697.9 2140.6,690.1 2144.7,688.9C2148.7,687.8 2151.6,692.8 2156.8,691.8C2162.0,690.7 2174.8,683.3 2181.1,681.6C2187.5,680.0 2197.4,681.0 2201.4,680.4C2205.5,679.8 2206.6,677.7 2209.5,677.6C2212.4,677.5 2218.8,679.6 2221.7,679.6C2224.6,679.6 2226.3,677.4 2229.8,677.6C2233.3,677.8 2240.8,679.7 2246.0,680.8C2251.2,682.0 2261.4,686.0 2266.3,685.7C2271.2,685.3 2276.1,679.6 2280.5,678.4C2284.8,677.2 2291.8,677.1 2296.7,677.6C2301.6,678.1 2310.6,682.2 2315.0,681.6C2319.3,681.1 2324.5,676.4 2327.1,673.5C2329.7,670.6 2331.2,664.3 2333.2,661.4C2335.2,658.5 2338.7,654.7 2341.3,653.3C2343.9,651.8 2350.9,653.3 2351.4,651.2C2352.0,649.2 2345.7,644.9 2345.4,639.1C2345.1,633.3 2347.4,614.9 2349.4,610.7C2351.4,606.5 2355.2,610.8 2359.6,609.5C2363.9,608.1 2374.6,602.2 2379.8,601.4C2385.0,600.5 2391.4,603.4 2396.0,603.8C2400.7,604.1 2408.5,606.0 2412.3,603.8C2416.0,601.6 2419.5,591.7 2422.4,588.4C2425.3,585.0 2427.6,583.1 2432.5,580.3C2437.5,577.5 2453.5,571.8 2456.9,568.9C2460.2,566.0 2456.1,562.4 2456.1,560.0C2456.0,557.6 2456.6,554.6 2456.6,552.1C2456.6,549.6 2456.3,544.6 2456.0,542.3C2455.7,540.0 2453.1,537.9 2454.2,536.3C2455.3,534.7 2462.2,534.0 2463.9,531.4C2465.6,528.8 2464.9,520.8 2465.8,518.0C2466.7,515.2 2468.4,512.1 2470.0,511.9C2471.6,511.7 2475.4,516.8 2476.7,516.8C2478.0,516.8 2478.7,514.2 2479.1,511.9C2479.5,509.6 2479.4,503.3 2479.8,501.0C2480.2,498.7 2481.8,497.3 2481.6,496.1C2481.4,494.9 2478.2,493.8 2478.5,492.5C2478.8,491.2 2483.5,489.1 2484.0,487.0C2484.5,484.9 2481.6,480.1 2482.2,477.9C2482.8,475.7 2486.5,474.7 2488.3,471.8C2490.1,468.9 2493.3,460.2 2495.0,457.8C2496.7,455.4 2497.0,455.7 2500.0,455.3C2503.0,454.9 2511.9,457.9 2516.2,455.3C2520.6,452.7 2525.5,441.0 2530.4,437.1C2535.3,433.1 2545.2,432.1 2550.7,427.7C2556.2,423.3 2562.8,411.4 2568.9,406.2C2575.0,401.0 2588.6,392.6 2593.3,391.2C2597.9,389.8 2599.1,396.5 2601.4,396.5C2603.7,396.5 2606.3,391.5 2609.5,391.2C2612.7,390.9 2619.0,394.9 2623.7,394.5C2628.3,394.1 2636.1,391.8 2641.9,388.4C2647.7,385.0 2659.3,374.3 2664.2,371.0C2669.1,367.6 2674.8,367.2 2676.4,364.9C2677.9,362.6 2673.3,356.2 2675.2,354.7C2677.1,353.3 2687.0,356.2 2689.8,354.7C2692.5,353.3 2693.4,348.1 2694.6,344.6C2695.9,341.1 2696.7,332.3 2698.7,330.4C2700.7,328.6 2705.6,330.5 2708.8,331.6C2712.0,332.8 2716.9,337.0 2721.0,338.5C2725.0,340.1 2734.3,341.1 2737.2,342.6C2740.1,344.0 2738.1,347.8 2741.3,348.7C2744.4,349.5 2754.0,346.9 2759.5,348.7C2765.0,350.4 2774.3,359.5 2779.8,360.8C2785.3,362.2 2792.2,359.0 2798.0,358.0C2803.8,357.0 2815.1,354.3 2820.3,353.9C2825.5,353.6 2831.6,354.6 2834.5,355.5C2837.4,356.5 2838.5,360.1 2840.6,360.8C2842.7,361.6 2848.1,359.8 2849.5,360.8C2851.0,361.9 2849.4,366.4 2850.7,368.1C2852.1,369.9 2856.2,370.3 2858.8,373.0C2861.5,375.7 2866.1,382.5 2869.0,387.2C2871.9,391.8 2876.2,401.4 2879.1,405.4C2882.0,409.5 2887.5,411.2 2889.3,415.6C2891.0,419.9 2889.8,432.5 2891.3,435.8C2892.7,439.2 2896.2,438.9 2899.4,439.1C2902.6,439.3 2910.4,438.4 2913.6,437.1C2916.8,435.7 2917.6,430.5 2921.7,429.8C2925.7,429.0 2936.8,431.5 2942.0,431.8C2947.2,432.1 2954.2,432.6 2958.2,431.8C2962.1,430.9 2968.4,428.6 2969.5,425.7C2970.7,422.8 2967.6,414.3 2966.3,411.5C2965.0,408.7 2960.2,409.1 2960.2,406.2C2960.2,403.3 2965.1,395.7 2966.3,391.2C2967.5,386.8 2967.0,378.8 2968.3,375.0C2969.6,371.2 2973.8,368.2 2975.2,364.9C2976.7,361.6 2976.3,353.6 2978.5,351.9C2980.7,350.2 2987.3,353.1 2990.6,352.7C2994.0,352.4 2999.1,349.5 3002.0,349.5C3004.9,349.5 3005.6,352.1 3010.9,352.7C3016.2,353.3 3033.5,352.7 3039.3,353.5C3045.1,354.4 3049.0,356.7 3051.4,358.8C3053.9,360.9 3054.3,365.5 3056.3,368.1C3058.3,370.7 3064.0,374.9 3065.6,377.0C3067.3,379.2 3065.6,381.1 3067.7,383.1C3069.7,385.1 3075.8,389.0 3079.8,391.2C3083.9,393.4 3090.8,397.1 3096.0,398.5C3101.3,400.0 3112.0,400.1 3116.3,401.4C3120.7,402.6 3121.8,406.2 3126.5,407.5C3131.1,408.7 3143.3,408.6 3148.8,410.3C3154.3,412.0 3162.1,415.4 3165.0,419.6C3167.9,423.8 3166.7,435.8 3169.0,439.9C3171.3,443.9 3180.0,445.1 3181.2,448.0C3182.4,450.9 3177.0,456.4 3177.1,460.2C3177.3,463.9 3182.3,469.4 3182.4,474.4C3182.5,479.3 3180.4,491.2 3178.0,494.6C3175.5,498.1 3169.1,498.0 3165.0,498.7C3160.8,499.4 3154.0,497.6 3148.8,499.5C3143.5,501.3 3131.5,508.9 3128.5,511.7C3125.5,514.4 3126.4,516.2 3127.7,519.0C3128.9,521.7 3136.4,526.9 3137.4,531.1C3138.4,535.3 3136.4,544.6 3134.6,548.2C3132.7,551.7 3127.6,554.3 3124.4,556.3C3121.2,558.2 3115.0,558.2 3112.3,561.5C3109.5,564.9 3105.8,574.9 3105.0,579.8C3104.1,584.7 3105.1,591.5 3106.2,596.0C3107.2,600.5 3112.0,607.9 3112.3,611.4C3112.6,614.9 3110.5,617.0 3108.2,620.3C3105.9,623.6 3098.7,629.9 3096.0,634.5C3093.4,639.1 3092.0,648.7 3090.0,652.8C3087.9,656.8 3083.8,658.6 3081.9,662.9C3079.9,667.2 3077.2,678.0 3076.6,683.2C3076.0,688.4 3079.1,695.6 3077.8,699.4C3076.5,703.2 3070.6,707.4 3067.7,709.5C3064.8,711.7 3060.4,712.4 3057.5,714.4C3054.6,716.4 3050.6,722.1 3047.4,723.7C3044.2,725.3 3038.4,724.6 3035.2,725.7C3032.0,726.9 3028.3,731.5 3025.1,731.8C3021.9,732.1 3015.8,726.0 3012.9,727.8C3010.0,729.5 3008.0,741.1 3004.8,744.0C3001.6,746.9 2994.7,745.9 2990.6,748.0C2986.6,750.2 2980.2,757.7 2976.4,759.0C2972.7,760.3 2965.7,755.5 2964.3,757.4C2962.8,759.3 2969.5,771.0 2966.3,772.4C2963.1,773.8 2947.2,766.5 2942.0,767.1C2936.8,767.7 2933.0,774.8 2929.8,776.4C2926.6,778.1 2922.0,776.1 2919.7,778.5C2917.3,780.8 2916.2,787.4 2913.6,792.7C2911.0,797.9 2905.2,810.4 2901.4,815.0C2897.7,819.5 2891.0,820.8 2887.2,824.3C2883.5,827.8 2879.7,834.5 2875.1,839.3C2870.4,844.0 2858.0,853.8 2854.8,857.5C2851.6,861.3 2855.4,862.0 2852.8,865.6C2850.2,869.2 2842.3,881.2 2836.5,882.7C2830.8,884.1 2817.1,878.2 2812.2,875.8C2807.3,873.3 2805.0,867.8 2802.1,865.6C2799.2,863.4 2795.1,860.5 2791.9,860.4C2788.8,860.2 2781.8,861.3 2779.8,864.4C2777.7,867.5 2779.2,878.5 2777.7,881.9C2776.3,885.2 2773.1,886.5 2769.6,887.9C2766.2,889.4 2756.8,889.4 2753.4,892.0C2750.1,894.6 2746.1,901.5 2746.1,906.2C2746.1,910.8 2750.9,920.8 2753.4,924.4C2755.9,928.1 2763.6,929.3 2763.6,931.7C2763.6,934.2 2756.9,941.3 2753.4,941.5C2749.9,941.6 2743.0,933.2 2739.2,932.5C2735.5,931.8 2729.7,933.7 2727.1,936.6C2724.5,939.5 2723.3,950.8 2721.0,952.8C2718.7,954.8 2713.7,949.9 2710.8,950.8C2708.0,951.7 2704.1,958.9 2700.7,958.9C2697.3,958.9 2689.6,954.6 2687.3,950.8C2685.0,947.0 2686.1,935.4 2684.5,932.5C2682.9,929.6 2680.4,931.1 2676.4,930.5C2672.3,929.9 2661.3,930.6 2656.1,928.5C2650.9,926.3 2642.8,919.6 2639.9,915.5C2637.0,911.5 2638.4,902.9 2635.8,900.1C2633.2,897.3 2626.6,894.2 2621.6,896.0C2616.7,897.9 2606.4,911.3 2601.4,913.1C2596.4,914.9 2591.0,909.9 2586.6,908.7C2582.2,907.5 2575.0,903.2 2570.4,904.7C2565.8,906.1 2558.8,915.7 2554.2,918.8C2549.5,922.0 2543.2,924.3 2538.0,927.0C2532.7,929.6 2522.9,933.6 2517.7,937.1C2512.5,940.6 2506.1,947.8 2501.5,951.3C2496.8,954.8 2489.9,957.7 2485.3,961.4C2480.6,965.2 2474.2,973.6 2469.0,977.6C2463.8,981.7 2452.5,986.0 2448.8,989.8C2445.0,993.6 2447.3,1000.2 2442.7,1004.0C2438.0,1007.8 2420.1,1013.0 2416.3,1016.2C2412.6,1019.3 2417.5,1024.4 2416.3,1026.3C2415.2,1028.2 2412.8,1029.7 2408.2,1029.5C2403.6,1029.4 2388.5,1026.5 2383.9,1025.5C2379.2,1024.4 2379.2,1021.5 2375.8,1022.2C2372.3,1022.9 2362.5,1027.7 2359.6,1030.3C2356.7,1033.0 2358.4,1037.9 2355.5,1040.5C2352.6,1043.1 2344.5,1046.5 2339.3,1048.6C2334.1,1050.7 2324.8,1053.6 2319.0,1055.5C2313.2,1057.3 2305.0,1060.2 2298.7,1061.6C2292.5,1062.9 2275.2,1064.8 2275.2,1064.8C2275.2,1064.8 2273.1,1055.8 2273.6,1052.7C2274.1,1049.5 2278.1,1045.7 2278.5,1042.5C2278.9,1039.3 2277.3,1035.0 2276.4,1030.3C2275.6,1025.7 2273.0,1015.6 2272.4,1010.1C2271.8,1004.6 2273.2,996.8 2272.4,991.8C2271.5,986.9 2268.3,980.0 2266.3,975.6C2264.3,971.3 2259.6,964.9 2258.2,961.4C2256.7,957.9 2257.3,955.0 2256.2,951.3C2255.0,947.5 2251.8,939.1 2250.1,935.1C2248.3,931.0 2245.7,926.1 2244.0,922.9C2242.3,919.7 2240.5,914.5 2237.9,912.8C2235.3,911.0 2229.8,910.2 2225.7,910.7C2221.7,911.3 2213.3,915.8 2209.5,916.8C2205.8,917.8 2201.7,918.8 2199.4,917.6C2197.1,916.5 2194.5,912.3 2193.3,908.7C2192.2,905.1 2190.8,896.0 2191.3,892.5C2191.7,889.0 2196.6,887.0 2196.6,884.4C2196.6,881.8 2192.0,876.7 2191.3,874.2C2190.5,871.8 2192.4,868.8 2191.3,867.3C2190.1,865.9 2185.8,866.3 2183.2,864.1C2180.6,861.9 2176.5,855.4 2173.0,851.9C2169.6,848.5 2161.5,842.7 2158.8,839.8C2156.2,836.9 2157.4,834.3 2154.8,831.7C2152.2,829.1 2144.1,824.4 2140.6,821.5C2137.1,818.6 2133.4,814.3 2130.5,811.4C2127.6,808.5 2122.9,804.7 2120.3,801.3C2117.7,797.8 2113.7,791.1 2112.2,787.1C2110.8,783.0 2111.9,776.9 2110.2,772.9C2108.4,768.8 2103.8,760.8 2100.1,758.7C2096.3,756.5 2087.6,758.2 2083.8,757.9C2080.1,757.6 2075.5,757.7 2073.7,756.7C2071.8,755.6 2072.9,754.3 2070.9,750.6C2068.8,746.8 2062.7,734.9 2059.5,730.3C2056.3,725.7 2050.6,721.6 2048.2,718.1C2045.7,714.7 2042.5,706.0 2042.5,706.0Z"/>
<path d="M1889.2,740.4C1891.3,737.0 1899.3,735.5 1903.4,734.4C1907.5,733.2 1914.1,732.0 1917.6,732.3C1921.1,732.6 1924.8,735.5 1927.7,736.4C1930.6,737.3 1935.0,739.6 1937.9,738.4C1940.8,737.3 1945.4,730.6 1948.0,728.3C1950.6,726.0 1955.4,724.5 1956.1,722.2C1956.9,719.9 1952.7,714.1 1953.3,712.1C1953.8,710.0 1957.2,708.2 1960.2,708.0C1963.2,707.8 1968.9,708.9 1974.4,710.8C1979.9,712.7 1993.5,721.2 1998.7,721.4C2003.9,721.6 2006.8,713.4 2010.8,712.1C2014.9,710.7 2022.5,712.9 2027.1,712.1C2031.6,711.2 2042.5,706.0 2042.5,706.0C2042.5,706.0 2045.7,714.7 2048.2,718.1C2050.6,721.6 2056.3,725.7 2059.5,730.3C2062.7,734.9 2068.8,746.8 2070.9,750.6C2072.9,754.3 2071.8,755.6 2073.7,756.7C2075.5,757.7 2080.1,757.6 2083.8,757.9C2087.6,758.2 2096.3,756.5 2100.1,758.7C2103.8,760.8 2108.4,768.8 2110.2,772.9C2111.9,776.9 2110.8,783.0 2112.2,787.1C2113.7,791.1 2117.7,797.8 2120.3,801.3C2122.9,804.7 2127.6,808.5 2130.5,811.4C2133.4,814.3 2137.1,818.6 2140.6,821.5C2144.1,824.4 2152.2,829.1 2154.8,831.7C2157.4,834.3 2156.2,836.9 2158.8,839.8C2161.5,842.7 2169.6,848.5 2173.0,851.9C2176.5,855.4 2180.6,861.9 2183.2,864.1C2185.8,866.3 2190.1,865.9 2191.3,867.3C2192.4,868.8 2190.5,871.8 2191.3,874.2C2192.0,876.7 2196.6,881.8 2196.6,884.4C2196.6,887.0 2191.7,889.0 2191.3,892.5C2190.8,896.0 2192.2,905.1 2193.3,908.7C2194.5,912.3 2197.1,916.5 2199.4,917.6C2201.7,918.8 2205.8,917.8 2209.5,916.8C2213.3,915.8 2221.7,911.3 2225.7,910.7C2229.8,910.2 2235.3,911.0 2237.9,912.8C2240.5,914.5 2242.3,919.7 2244.0,922.9C2245.7,926.1 2248.3,931.0 2250.1,935.1C2251.8,939.1 2255.0,947.5 2256.2,951.3C2257.3,955.0 2256.7,957.9 2258.2,961.4C2259.6,964.9 2264.3,971.3 2266.3,975.6C2268.3,980.0 2271.5,986.9 2272.4,991.8C2273.2,996.8 2271.8,1004.6 2272.4,1010.1C2273.0,1015.6 2275.6,1025.7 2276.4,1030.3C2277.3,1035.0 2278.9,1039.3 2278.5,1042.5C2278.1,1045.7 2274.1,1049.5 2273.6,1052.7C2273.1,1055.8 2275.2,1064.8 2275.2,1064.8C2275.2,1064.8 2265.0,1060.8 2264.3,1062.0C2263.6,1063.1 2268.0,1070.5 2270.3,1072.9C2272.7,1075.4 2278.2,1076.7 2280.5,1079.0C2282.8,1081.3 2284.3,1086.8 2286.6,1089.1C2288.9,1091.5 2296.4,1092.9 2296.7,1095.2C2297.0,1097.5 2290.0,1101.6 2288.6,1105.4C2287.1,1109.1 2288.9,1118.1 2286.6,1121.6C2284.3,1125.1 2276.1,1127.1 2272.4,1129.7C2268.6,1132.3 2264.0,1137.8 2260.2,1139.8C2256.4,1141.9 2249.8,1142.4 2246.0,1143.9C2242.3,1145.3 2237.6,1149.4 2233.9,1150.0C2230.1,1150.5 2222.0,1145.9 2219.7,1147.9C2217.3,1150.0 2218.5,1160.7 2217.6,1164.2C2216.8,1167.6 2212.7,1169.1 2213.6,1172.3C2214.5,1175.5 2222.6,1183.3 2223.7,1186.5C2224.9,1189.6 2223.4,1192.2 2221.7,1194.6C2220.0,1196.9 2214.2,1199.5 2211.6,1202.7C2208.9,1205.9 2207.2,1213.7 2203.4,1216.9C2199.7,1220.1 2188.4,1221.5 2185.2,1225.0C2182.0,1228.5 2181.1,1237.1 2181.1,1241.2C2181.1,1245.3 2183.5,1250.9 2185.2,1253.4C2186.9,1255.8 2192.4,1255.3 2193.3,1258.2C2194.2,1261.1 2192.7,1269.1 2191.3,1273.6C2189.8,1278.2 2185.2,1286.3 2183.2,1289.9C2181.1,1293.4 2178.2,1295.9 2177.1,1298.8C2175.9,1301.7 2177.4,1309.2 2175.1,1310.1C2172.7,1311.1 2165.2,1305.8 2160.9,1305.3C2156.5,1304.7 2148.1,1306.2 2144.7,1306.1C2141.2,1305.9 2138.3,1306.4 2136.5,1304.0C2134.8,1301.7 2135.4,1293.6 2132.5,1289.9C2129.6,1286.1 2120.6,1279.7 2116.3,1277.7C2111.9,1275.7 2105.6,1276.7 2102.1,1275.7C2098.6,1274.6 2095.1,1271.0 2091.9,1270.4C2088.8,1269.8 2083.0,1274.0 2079.8,1271.6C2076.6,1269.2 2072.8,1257.7 2069.6,1253.4C2066.5,1249.0 2060.1,1243.8 2057.5,1241.2C2054.9,1238.6 2052.8,1238.7 2051.4,1235.1C2049.9,1231.5 2048.6,1219.1 2047.3,1216.1C2046.1,1213.0 2042.5,1213.6 2042.5,1213.6C2042.5,1213.6 2043.5,1211.6 2041.3,1210.8C2039.1,1210.0 2031.4,1208.2 2027.1,1207.9C2022.7,1207.7 2015.5,1209.5 2010.8,1208.8C2006.2,1208.0 1997.8,1205.0 1994.6,1202.7C1991.4,1200.4 1990.9,1196.9 1988.5,1192.5C1986.2,1188.2 1981.6,1175.7 1978.4,1172.3C1975.2,1168.8 1970.0,1170.6 1966.2,1168.2C1962.5,1165.8 1955.2,1157.1 1952.1,1155.2C1948.9,1153.4 1947.4,1157.4 1943.9,1155.2C1940.5,1153.0 1930.9,1143.8 1927.7,1139.8C1924.5,1135.9 1923.4,1129.7 1921.6,1127.7C1919.9,1125.6 1918.9,1125.6 1915.6,1125.6C1912.3,1125.6 1901.1,1130.3 1898.5,1127.7C1895.9,1125.1 1897.6,1113.2 1897.3,1107.4C1897.0,1101.6 1897.5,1093.5 1896.5,1087.1C1895.5,1080.7 1891.6,1068.9 1890.0,1062.8C1888.4,1056.7 1886.9,1048.9 1885.1,1044.5C1883.4,1040.2 1877.9,1036.1 1877.9,1032.4C1877.9,1028.6 1883.8,1021.5 1885.1,1018.2C1886.5,1014.9 1885.4,1011.0 1887.2,1009.3C1888.9,1007.5 1894.4,1005.9 1897.3,1006.0C1900.2,1006.1 1905.1,1008.9 1907.5,1010.1C1909.8,1011.2 1911.2,1014.0 1913.5,1014.1C1915.8,1014.2 1920.5,1011.6 1923.7,1010.9C1926.9,1010.1 1935.8,1010.4 1935.8,1008.9C1935.8,1007.3 1927.4,1002.1 1923.7,999.9C1919.9,997.8 1913.8,995.6 1909.5,993.9C1905.1,992.1 1895.9,990.1 1893.3,987.8C1890.7,985.5 1893.0,981.7 1891.2,977.6C1889.5,973.6 1884.6,965.5 1881.1,959.4C1877.6,953.3 1869.8,939.7 1866.9,935.1C1864.0,930.4 1862.2,929.6 1860.8,927.0C1859.5,924.3 1858.4,920.0 1857.6,916.8C1856.7,913.6 1855.4,908.4 1854.7,904.7C1854.0,900.9 1852.7,894.5 1852.7,890.5C1852.7,886.4 1853.9,880.0 1854.7,876.3C1855.6,872.5 1858.9,868.2 1858.8,864.1C1858.7,860.1 1854.5,851.4 1853.9,847.9C1853.3,844.4 1853.8,842.7 1854.7,839.8C1855.7,836.9 1858.8,831.1 1860.8,827.6C1862.8,824.1 1867.2,818.9 1868.9,815.4C1870.7,812.0 1872.5,806.2 1873.0,803.3C1873.4,800.4 1871.6,799.2 1872.2,795.2C1872.8,791.1 1875.2,779.0 1877.0,774.9C1878.9,770.8 1883.5,769.1 1885.1,766.8C1886.8,764.5 1888.4,758.7 1888.4,758.7C1888.4,758.7 1887.1,743.9 1889.2,740.4Z"/>
<path d="M1638.5,945.3C1638.5,945.3 1640.6,940.0 1643.3,938.4C1646.1,936.9 1654.1,935.7 1657.5,934.4C1661.0,933.0 1665.1,930.8 1667.7,929.1C1670.3,927.4 1673.7,924.5 1675.8,922.2C1677.8,919.9 1680.7,916.2 1681.9,912.9C1683.0,909.5 1684.2,902.4 1683.9,898.7C1683.6,894.9 1680.1,889.7 1679.8,886.5C1679.5,883.3 1680.1,878.8 1681.9,876.4C1683.6,873.9 1688.5,871.2 1692.0,869.5C1695.5,867.8 1703.6,866.4 1706.2,864.2C1708.8,862.0 1707.9,856.7 1710.2,854.1C1712.6,851.5 1720.1,848.0 1722.4,846.0C1724.7,843.9 1724.4,841.6 1726.5,839.9C1728.5,838.2 1733.7,837.0 1736.6,833.8C1739.5,830.6 1744.1,819.9 1746.7,817.6C1749.3,815.3 1752.2,817.0 1754.8,817.6C1757.4,818.2 1762.4,821.6 1765.0,821.6C1767.6,821.6 1770.8,820.0 1773.1,817.6C1775.4,815.2 1778.9,806.6 1781.2,804.6C1783.5,802.6 1787.0,802.1 1789.3,803.4C1791.6,804.7 1794.8,813.0 1797.4,813.5C1800.0,814.1 1804.7,809.8 1807.6,807.5C1810.4,805.1 1815.1,800.5 1817.7,797.3C1820.3,794.1 1823.8,788.3 1825.8,785.1C1827.8,782.0 1830.7,779.1 1831.9,775.0C1833.0,771.0 1832.7,761.4 1833.9,756.8C1835.1,752.1 1838.8,746.3 1840.0,742.6C1841.1,738.8 1840.6,732.6 1842.0,730.4C1843.5,728.3 1846.7,728.0 1850.1,727.6C1853.6,727.2 1862.3,726.6 1866.3,727.6C1870.4,728.6 1875.3,732.6 1878.5,734.5C1881.7,736.3 1887.2,737.1 1888.6,740.5C1890.1,744.0 1888.4,758.7 1888.4,758.7C1888.4,758.7 1886.8,764.5 1885.1,766.8C1883.5,769.1 1878.9,770.8 1877.0,774.9C1875.2,779.0 1872.8,791.1 1872.2,795.2C1871.6,799.2 1873.4,800.4 1873.0,803.3C1872.5,806.2 1870.7,812.0 1868.9,815.4C1867.2,818.9 1862.8,824.1 1860.8,827.6C1858.8,831.1 1855.7,836.9 1854.7,839.8C1853.8,842.7 1853.3,844.4 1853.9,847.9C1854.5,851.4 1858.7,860.1 1858.8,864.1C1858.9,868.2 1855.6,872.5 1854.7,876.3C1853.9,880.0 1852.7,886.4 1852.7,890.5C1852.7,894.5 1854.0,900.9 1854.7,904.7C1855.4,908.4 1856.7,913.6 1857.6,916.8C1858.4,920.0 1859.5,924.3 1860.8,927.0C1862.2,929.6 1864.0,930.4 1866.9,935.1C1869.8,939.7 1877.6,953.3 1881.1,959.4C1884.6,965.5 1889.5,973.6 1891.2,977.6C1893.0,981.7 1890.7,985.5 1893.3,987.8C1895.9,990.1 1905.1,992.1 1909.5,993.9C1913.8,995.6 1919.9,997.8 1923.7,999.9C1927.4,1002.1 1935.8,1007.3 1935.8,1008.9C1935.8,1010.4 1926.9,1010.1 1923.7,1010.9C1920.5,1011.6 1915.8,1014.2 1913.5,1014.1C1911.2,1014.0 1909.8,1011.2 1907.5,1010.1C1905.1,1008.9 1900.2,1006.1 1897.3,1006.0C1894.4,1005.9 1888.9,1007.5 1887.2,1009.3C1885.4,1011.0 1886.5,1014.9 1885.1,1018.2C1883.8,1021.5 1877.9,1028.6 1877.9,1032.4C1877.9,1036.1 1883.4,1040.2 1885.1,1044.5C1886.9,1048.9 1888.4,1056.7 1890.0,1062.8C1891.6,1068.9 1895.5,1080.7 1896.5,1087.1C1897.5,1093.5 1897.0,1101.6 1897.3,1107.4C1897.6,1113.2 1895.9,1125.1 1898.5,1127.7C1901.1,1130.3 1912.3,1125.6 1915.6,1125.6C1918.9,1125.6 1919.9,1125.6 1921.6,1127.7C1923.4,1129.7 1924.5,1135.9 1927.7,1139.8C1930.9,1143.8 1940.5,1153.0 1943.9,1155.2C1947.4,1157.4 1948.9,1153.4 1952.1,1155.2C1955.2,1157.1 1962.5,1165.8 1966.2,1168.2C1970.0,1170.6 1975.2,1168.8 1978.4,1172.3C1981.6,1175.7 1986.2,1188.2 1988.5,1192.5C1990.9,1196.9 1991.4,1200.4 1994.6,1202.7C1997.8,1205.0 2006.2,1208.0 2010.8,1208.8C2015.5,1209.5 2022.7,1207.7 2027.1,1207.9C2031.4,1208.2 2039.1,1210.0 2041.3,1210.8C2043.5,1211.6 2042.5,1213.6 2042.5,1213.6C2042.5,1213.6 2036.3,1216.1 2035.2,1218.9C2034.0,1221.7 2035.5,1229.9 2034.4,1233.1C2033.2,1236.3 2030.4,1237.7 2027.1,1241.2C2023.7,1244.7 2015.5,1254.1 2010.8,1257.4C2006.2,1260.8 1999.0,1262.4 1994.6,1264.7C1990.3,1267.0 1983.9,1270.6 1980.4,1273.6C1977.0,1276.6 1974.1,1283.2 1970.3,1285.8C1966.5,1288.4 1958.7,1290.6 1954.1,1291.9C1949.4,1293.2 1942.5,1293.6 1937.9,1294.7C1933.2,1295.9 1926.6,1300.0 1921.6,1300.0C1916.7,1300.0 1907.7,1296.5 1903.4,1294.7C1899.1,1293.0 1894.1,1286.8 1891.2,1287.8C1888.3,1288.9 1884.1,1299.1 1883.1,1302.0C1882.2,1304.9 1884.6,1303.8 1884.5,1308.1C1884.5,1312.5 1885.1,1327.5 1882.5,1332.4C1879.9,1337.4 1871.2,1339.7 1866.3,1342.6C1861.4,1345.5 1850.9,1350.1 1848.0,1352.7C1845.2,1355.3 1845.4,1358.5 1846.0,1360.8C1846.6,1363.1 1850.9,1366.3 1852.1,1368.9C1853.3,1371.5 1852.4,1376.1 1854.1,1379.1C1855.9,1382.1 1863.7,1387.7 1864.3,1390.0C1864.8,1392.3 1859.6,1393.2 1858.2,1395.3C1856.7,1397.4 1857.3,1402.3 1854.1,1404.6C1850.9,1406.9 1839.4,1411.7 1835.9,1411.5C1832.4,1411.3 1831.0,1405.9 1829.8,1403.4C1828.6,1400.9 1831.8,1394.6 1827.8,1394.1C1823.7,1393.5 1805.8,1397.4 1801.4,1399.3C1797.1,1401.3 1797.4,1407.5 1797.4,1407.5C1797.4,1407.5 1785.8,1407.2 1781.2,1405.5C1776.6,1403.8 1769.0,1397.4 1765.0,1395.4C1760.9,1393.4 1756.9,1392.8 1752.8,1391.3C1748.8,1389.9 1740.1,1387.2 1736.6,1385.3C1733.1,1383.3 1731.4,1377.7 1728.5,1378.0C1725.6,1378.2 1719.8,1384.5 1716.3,1387.3C1712.8,1390.1 1706.8,1393.6 1704.2,1397.4C1701.5,1401.2 1699.5,1409.0 1698.1,1413.6C1696.6,1418.3 1694.0,1429.9 1694.0,1429.9C1694.0,1429.9 1687.1,1442.0 1687.1,1442.0C1687.1,1442.0 1686.4,1433.3 1685.9,1429.9C1685.4,1426.4 1684.8,1421.5 1683.9,1417.7C1683.0,1413.9 1681.3,1407.6 1679.8,1403.5C1678.4,1399.4 1675.8,1393.6 1673.7,1389.3C1671.7,1385.0 1667.4,1377.7 1665.6,1373.1C1663.9,1368.5 1662.0,1361.5 1661.6,1356.9C1661.2,1352.2 1663.2,1344.7 1662.8,1340.6C1662.4,1336.6 1660.4,1332.5 1658.7,1328.5C1657.1,1324.4 1653.4,1316.9 1651.4,1312.3C1649.5,1307.6 1646.5,1300.7 1645.4,1296.0C1644.2,1291.4 1644.2,1283.9 1643.3,1279.8C1642.5,1275.8 1641.0,1271.1 1639.3,1267.7C1637.5,1264.2 1630.6,1261.3 1631.2,1255.5C1631.8,1249.7 1639.6,1234.6 1643.3,1227.1C1647.1,1219.6 1653.8,1207.0 1657.5,1202.8C1661.3,1198.6 1666.2,1199.0 1669.7,1197.9C1673.2,1196.9 1679.8,1197.4 1681.9,1195.5C1683.9,1193.6 1682.7,1188.1 1683.9,1184.5C1685.0,1180.9 1687.1,1174.1 1690.0,1170.3C1692.9,1166.6 1701.0,1162.2 1704.2,1158.2C1707.3,1154.1 1710.5,1146.9 1712.3,1142.0C1714.0,1137.0 1715.5,1128.4 1716.3,1123.7C1717.2,1119.1 1717.5,1113.9 1718.3,1109.5C1719.2,1105.2 1721.6,1097.7 1722.4,1093.3C1723.2,1089.0 1724.5,1082.7 1723.6,1079.1C1722.7,1075.5 1719.7,1071.4 1716.3,1068.2C1713.0,1065.0 1704.4,1060.2 1700.1,1056.8C1695.8,1053.5 1689.1,1048.1 1685.9,1044.7C1682.7,1041.2 1680.7,1035.1 1677.8,1032.5C1674.9,1029.9 1669.1,1029.6 1665.6,1026.4C1662.2,1023.2 1656.9,1014.8 1653.5,1010.2C1650.0,1005.6 1644.2,997.4 1641.3,994.0C1638.4,990.5 1634.9,989.2 1633.2,985.9C1631.5,982.6 1628.6,974.6 1629.1,970.9C1629.7,967.1 1635.9,963.2 1637.3,959.5C1638.6,955.9 1638.5,945.3 1638.5,945.3Z"/>
<path d="M964.1,1017.6C964.1,1017.6 966.1,1017.9 967.0,1015.6C967.8,1013.2 968.1,1004.3 969.8,1001.4C971.5,998.5 976.0,996.2 979.1,995.3C982.2,994.4 988.1,994.8 991.3,995.3C994.5,995.7 997.7,999.5 1001.4,998.5C1005.2,997.5 1013.6,990.2 1017.6,988.4C1021.7,986.6 1025.2,986.0 1029.8,986.0C1034.4,986.0 1044.9,988.2 1050.1,988.4C1055.3,988.6 1061.7,985.9 1066.3,987.2C1070.9,988.5 1078.2,996.7 1082.5,997.3C1086.9,997.9 1091.9,993.7 1096.7,991.2C1101.5,988.7 1111.4,982.6 1116.2,979.8C1121.0,977.0 1125.8,974.3 1130.4,971.7C1135.0,969.1 1143.7,964.5 1148.7,961.5C1153.6,958.5 1160.5,953.8 1164.9,950.6C1169.2,947.4 1176.2,942.3 1179.1,939.2C1182.0,936.2 1183.8,932.6 1185.1,929.1C1186.5,925.6 1187.2,918.4 1188.4,914.9C1189.6,911.4 1190.7,908.5 1193.3,904.8C1195.8,901.0 1202.5,892.8 1206.2,888.5C1210.0,884.3 1216.3,878.6 1219.6,875.2C1223.0,871.7 1228.0,867.2 1229.8,864.2C1231.5,861.2 1229.8,857.8 1231.8,854.1C1233.8,850.3 1240.5,841.6 1243.9,837.9C1247.4,834.1 1251.8,830.0 1256.1,827.7C1260.5,825.4 1269.4,822.6 1274.4,821.6C1279.3,820.7 1286.5,821.7 1290.6,820.8C1294.6,820.0 1300.1,818.1 1302.7,815.6C1305.3,813.1 1306.5,806.9 1308.8,803.4C1311.1,799.9 1316.8,795.3 1319.0,791.2C1321.1,787.2 1321.8,779.4 1323.8,775.0C1325.8,770.7 1331.4,764.0 1333.1,760.8C1334.9,757.6 1335.7,755.3 1336.0,752.7C1336.3,750.1 1334.4,744.6 1335.2,742.6C1335.9,740.5 1338.1,739.1 1341.3,738.5C1344.4,737.9 1354.0,738.9 1357.5,738.5C1361.0,738.1 1363.6,735.4 1365.6,735.7C1367.6,736.0 1370.2,738.1 1371.7,740.5C1373.1,743.0 1373.7,749.8 1375.7,752.7C1377.7,755.6 1383.3,758.8 1385.9,760.8C1388.5,762.8 1391.7,766.4 1394.0,766.9C1396.3,767.4 1399.5,764.4 1402.1,764.1C1404.7,763.8 1409.0,763.6 1412.2,764.9C1415.4,766.2 1420.9,770.2 1424.4,773.0C1427.9,775.8 1433.4,781.6 1436.5,784.3C1439.7,787.1 1444.4,790.0 1446.7,792.4C1449.0,794.9 1451.3,798.6 1452.8,801.4C1454.2,804.1 1455.4,808.9 1456.8,811.5C1458.3,814.1 1461.7,815.8 1462.9,819.6C1464.1,823.4 1463.9,832.6 1464.9,837.9C1465.9,843.1 1468.1,851.2 1469.8,856.1C1471.5,861.0 1474.9,868.0 1477.1,872.3C1479.3,876.7 1482.6,882.2 1485.2,886.5C1487.8,890.9 1492.4,898.4 1495.3,902.7C1498.2,907.1 1502.9,912.3 1505.5,916.9C1508.1,921.6 1511.6,930.5 1513.6,935.2C1515.6,939.8 1517.9,944.7 1519.7,949.4C1521.4,954.0 1524.0,963.8 1525.7,967.6C1527.5,971.4 1529.8,974.2 1531.8,975.7C1533.9,977.3 1536.5,978.2 1539.9,978.6C1543.4,979.0 1552.7,979.3 1556.2,978.6C1559.6,977.9 1561.4,976.1 1564.3,973.7C1567.2,971.3 1573.5,964.0 1576.4,961.5C1579.3,959.0 1581.9,957.1 1584.5,956.3C1587.1,955.4 1591.8,956.8 1594.7,955.4C1597.6,954.1 1601.9,948.1 1604.8,946.5C1607.7,945.0 1612.1,944.4 1615.0,944.5C1617.8,944.6 1621.7,947.2 1625.1,947.3C1628.4,947.5 1638.5,945.3 1638.5,945.3C1638.5,945.3 1638.6,955.9 1637.3,959.5C1635.9,963.2 1629.7,967.1 1629.1,970.9C1628.6,974.6 1631.5,982.6 1633.2,985.9C1634.9,989.2 1638.4,990.5 1641.3,994.0C1644.2,997.4 1650.0,1005.6 1653.5,1010.2C1656.9,1014.8 1662.2,1023.2 1665.6,1026.4C1669.1,1029.6 1674.9,1029.9 1677.8,1032.5C1680.7,1035.1 1682.7,1041.2 1685.9,1044.7C1689.1,1048.1 1695.8,1053.5 1700.1,1056.8C1704.4,1060.2 1713.0,1065.0 1716.3,1068.2C1719.7,1071.4 1722.7,1075.5 1723.6,1079.1C1724.5,1082.7 1723.2,1089.0 1722.4,1093.3C1721.6,1097.7 1719.2,1105.2 1718.3,1109.5C1717.5,1113.9 1717.2,1119.1 1716.3,1123.7C1715.5,1128.4 1714.0,1137.0 1712.3,1142.0C1710.5,1146.9 1707.3,1154.1 1704.2,1158.2C1701.0,1162.2 1692.9,1166.6 1690.0,1170.3C1687.1,1174.1 1685.0,1180.9 1683.9,1184.5C1682.7,1188.1 1683.9,1193.6 1681.9,1195.5C1679.8,1197.4 1673.2,1196.9 1669.7,1197.9C1666.2,1199.0 1661.3,1198.6 1657.5,1202.8C1653.8,1207.0 1647.1,1219.6 1643.3,1227.1C1639.6,1234.6 1631.8,1249.7 1631.2,1255.5C1630.6,1261.3 1637.5,1264.2 1639.3,1267.7C1641.0,1271.1 1642.5,1275.8 1643.3,1279.8C1644.2,1283.9 1644.2,1291.4 1645.4,1296.0C1646.5,1300.7 1649.5,1307.6 1651.4,1312.3C1653.4,1316.9 1657.1,1324.4 1658.7,1328.5C1660.4,1332.5 1662.4,1336.6 1662.8,1340.6C1663.2,1344.7 1661.2,1352.2 1661.6,1356.9C1662.0,1361.5 1663.9,1368.5 1665.6,1373.1C1667.4,1377.7 1671.7,1385.0 1673.7,1389.3C1675.8,1393.6 1678.4,1399.4 1679.8,1403.5C1681.3,1407.6 1683.0,1413.9 1683.9,1417.7C1684.8,1421.5 1685.4,1426.4 1685.9,1429.9C1686.4,1433.3 1687.1,1442.0 1687.1,1442.0C1687.1,1442.0 1683.9,1446.1 1683.9,1446.1C1683.9,1446.1 1676.2,1447.0 1675.8,1445.3C1675.3,1443.5 1680.3,1437.8 1680.6,1433.9C1680.9,1430.0 1679.7,1420.9 1677.8,1417.7C1675.9,1414.5 1671.4,1413.6 1667.7,1411.6C1663.9,1409.6 1654.9,1406.4 1651.4,1403.5C1648.0,1400.6 1646.2,1393.4 1643.3,1391.3C1640.4,1389.3 1634.6,1388.6 1631.2,1389.3C1627.7,1390.1 1621.8,1396.9 1619.0,1396.6C1616.2,1396.3 1614.0,1390.1 1611.7,1387.3C1609.4,1384.5 1605.5,1379.2 1602.8,1377.1C1600.1,1375.1 1595.0,1374.2 1592.7,1373.1C1590.3,1371.9 1593.2,1371.9 1586.6,1369.0C1579.9,1366.1 1555.6,1357.2 1546.0,1352.8C1536.5,1348.5 1526.0,1341.5 1519.7,1338.6C1513.3,1335.7 1506.9,1334.1 1501.4,1332.5C1495.9,1331.0 1485.5,1328.9 1481.1,1327.7C1476.8,1326.4 1473.9,1323.9 1471.0,1323.6C1468.1,1323.3 1464.1,1324.5 1460.9,1325.6C1457.7,1326.8 1452.8,1330.6 1448.7,1331.7C1444.7,1332.8 1436.5,1333.5 1432.5,1333.4C1428.4,1333.2 1424.4,1330.0 1420.3,1330.5C1416.3,1331.0 1409.3,1335.1 1404.1,1336.6C1398.9,1338.0 1389.6,1340.5 1383.8,1340.6C1378.0,1340.8 1368.2,1337.5 1363.6,1337.8C1358.9,1338.1 1356.6,1341.1 1351.4,1342.7C1346.2,1344.2 1334.0,1347.3 1327.1,1348.8C1320.1,1350.2 1309.1,1352.1 1302.7,1352.8C1296.4,1353.5 1286.8,1354.8 1282.5,1353.6C1278.1,1352.5 1276.4,1347.6 1272.3,1344.7C1268.3,1341.8 1257.6,1336.2 1254.1,1333.4C1250.6,1330.5 1250.3,1326.6 1248.0,1324.4C1245.7,1322.3 1241.6,1318.9 1237.9,1318.3C1234.1,1317.8 1228.0,1320.8 1221.6,1320.4C1215.3,1320.0 1199.9,1315.8 1193.3,1315.5C1186.6,1315.2 1180.8,1319.4 1175.0,1318.3C1169.2,1317.3 1158.5,1310.5 1152.7,1308.2C1146.9,1305.9 1138.5,1304.3 1134.5,1302.1C1130.4,1299.9 1126.9,1296.0 1124.3,1292.8C1121.7,1289.6 1119.8,1282.1 1116.2,1279.8C1112.7,1277.6 1102.9,1278.9 1099.5,1277.1C1096.2,1275.3 1094.8,1269.6 1092.7,1267.0C1090.5,1264.3 1086.6,1261.3 1084.5,1258.8C1082.5,1256.4 1081.1,1252.4 1078.5,1249.5C1075.9,1246.6 1070.1,1241.5 1066.3,1238.6C1062.5,1235.7 1055.3,1231.6 1052.1,1229.2C1048.9,1226.9 1045.3,1225.1 1044.0,1222.4C1042.7,1219.6 1043.9,1213.4 1042.8,1210.2C1041.6,1207.0 1037.6,1203.5 1035.9,1200.1C1034.1,1196.6 1031.8,1189.8 1030.6,1185.9C1029.5,1181.9 1027.6,1175.1 1027.8,1172.5C1027.9,1169.9 1031.3,1170.6 1031.8,1167.6C1032.4,1164.6 1032.4,1156.6 1031.8,1151.4C1031.3,1146.2 1028.8,1135.5 1027.8,1131.1C1026.8,1126.8 1026.1,1124.2 1024.9,1121.0C1023.8,1117.8 1022.2,1112.0 1019.7,1108.8C1017.2,1105.6 1009.5,1101.3 1007.5,1098.7C1005.5,1096.1 1007.2,1092.0 1005.5,1090.6C1003.7,1089.1 998.2,1090.0 995.3,1088.5C992.4,1087.1 987.8,1083.0 985.2,1080.4C982.6,1077.8 978.5,1075.2 977.1,1070.3C975.6,1065.4 975.9,1051.8 975.1,1046.0C974.2,1040.2 972.6,1033.8 971.0,1029.8C969.4,1025.7 964.1,1017.6 964.1,1017.6Z"/>
<path d="M964.1,1017.6C964.1,1017.6 953.2,1020.4 948.7,1021.6C944.2,1022.9 936.5,1025.2 932.5,1026.5C928.4,1027.8 923.5,1028.9 920.3,1030.6C917.1,1032.2 914.2,1036.6 910.2,1037.9C906.1,1039.1 896.9,1038.7 891.9,1039.1C887.0,1039.5 878.7,1041.7 875.7,1040.7C872.7,1039.7 872.6,1033.3 870.9,1031.8C869.1,1030.2 868.1,1029.8 863.6,1029.8C859.0,1029.8 844.2,1030.5 839.2,1031.8C834.3,1033.1 832.3,1039.1 829.1,1038.7C825.9,1038.3 820.7,1031.1 816.9,1028.9C813.2,1026.8 807.7,1024.7 802.7,1023.7C797.8,1022.6 788.0,1021.5 782.5,1021.6C777.0,1021.8 769.1,1023.3 764.2,1024.5C759.3,1025.6 752.1,1028.5 748.0,1029.8C743.9,1031.0 737.7,1031.0 735.8,1033.0C733.9,1035.0 735.6,1040.9 734.6,1043.9C733.6,1047.0 731.3,1050.8 728.9,1054.1C726.6,1057.4 719.7,1063.0 718.4,1067.1C717.1,1071.1 718.9,1078.5 719.6,1082.5C720.4,1086.4 722.5,1090.0 723.7,1094.6C724.8,1099.3 726.4,1110.6 727.7,1114.9C729.1,1119.2 732.6,1121.6 733.0,1125.0C733.4,1128.5 730.2,1135.3 730.6,1139.2C731.0,1143.1 737.7,1149.5 735.8,1152.2C734.0,1154.9 720.8,1155.8 717.6,1158.3C714.4,1160.8 714.8,1166.6 713.5,1169.6C712.3,1172.7 708.8,1176.6 708.7,1179.8C708.6,1183.0 711.4,1187.9 712.7,1191.9C714.0,1196.0 715.4,1204.7 717.6,1208.2C719.7,1211.6 727.1,1214.0 727.7,1216.3C728.3,1218.6 723.8,1221.9 721.6,1224.4C719.5,1226.8 714.2,1230.4 712.7,1233.3C711.3,1236.2 711.2,1241.6 711.5,1244.7C711.8,1247.7 714.5,1251.0 714.7,1254.8C715.0,1258.6 712.8,1267.2 713.5,1271.0C714.2,1274.8 716.4,1278.4 719.6,1281.1C722.8,1283.9 732.6,1287.2 735.8,1290.1C739.0,1293.0 739.6,1298.3 741.9,1301.4C744.2,1304.5 750.3,1308.1 752.1,1311.6C753.8,1315.0 754.1,1321.7 754.1,1325.7C754.1,1329.8 751.2,1336.2 752.1,1339.9C752.9,1343.7 758.4,1348.6 760.2,1352.1C761.9,1355.6 763.2,1361.1 764.2,1364.3C765.2,1367.5 767.5,1371.5 767.1,1374.4C766.6,1377.3 761.8,1381.1 761.4,1384.5C761.0,1388.0 763.4,1394.7 764.2,1398.7C765.0,1402.8 767.3,1408.9 767.1,1412.9C766.8,1417.0 762.4,1423.4 762.2,1427.1C762.0,1430.9 764.9,1435.2 765.4,1439.3C766.0,1443.3 765.3,1452.3 766.2,1455.5C767.2,1458.7 771.2,1459.3 772.3,1461.6C773.5,1463.9 775.2,1469.4 774.4,1471.7C773.5,1474.0 767.7,1474.9 766.2,1477.8C764.8,1480.7 764.8,1487.1 764.2,1492.0C763.6,1496.9 763.1,1506.5 762.2,1512.3C761.3,1518.1 759.3,1525.0 758.1,1532.5C757.0,1540.1 754.4,1556.9 754.1,1565.0C753.8,1573.1 754.4,1585.1 756.1,1589.3C757.8,1593.5 765.1,1591.3 766.2,1594.2C767.4,1597.1 764.8,1605.3 764.2,1609.6C763.6,1613.9 763.1,1619.3 762.2,1624.3C761.3,1629.3 759.3,1638.8 758.1,1644.6C757.0,1650.4 754.4,1661.1 754.1,1664.9C753.8,1668.6 753.5,1670.1 756.1,1671.0C758.7,1671.8 768.9,1669.8 772.3,1671.0C775.8,1672.1 778.1,1676.2 780.4,1679.1C782.8,1682.0 786.2,1687.2 788.5,1691.2C790.9,1695.3 795.5,1703.1 796.7,1707.5C797.8,1711.8 797.8,1716.7 796.7,1721.6C795.5,1726.6 788.5,1737.0 788.5,1741.9C788.5,1746.8 794.6,1751.5 796.7,1756.1C798.7,1760.7 802.4,1769.4 802.7,1774.4C803.0,1779.3 798.4,1785.6 798.7,1790.6C799.0,1795.5 803.6,1804.5 804.8,1808.8C805.9,1813.2 805.6,1817.5 806.8,1821.0C808.0,1824.5 813.7,1829.4 812.9,1833.1C812.0,1836.9 803.6,1843.7 800.7,1847.3C797.8,1851.0 792.9,1855.5 792.6,1858.7C792.3,1861.9 796.1,1866.6 798.7,1869.6C801.3,1872.7 808.2,1876.3 810.8,1879.8C813.5,1883.3 814.9,1889.9 816.9,1894.0C819.0,1898.0 821.9,1905.3 825.0,1908.2C828.2,1911.1 834.9,1912.5 839.2,1914.2C843.6,1916.0 851.4,1917.1 855.4,1920.3C859.5,1923.5 864.1,1932.2 867.6,1936.5C871.1,1940.9 877.7,1946.7 879.8,1950.7C881.8,1954.8 880.1,1960.0 881.8,1964.9C883.5,1969.9 889.6,1980.3 891.9,1985.2C894.3,1990.1 897.4,1994.8 898.0,1999.4C898.6,2004.0 896.0,2012.1 896.0,2017.6C896.0,2023.1 896.9,2032.7 898.0,2037.9C899.2,2043.1 902.8,2050.4 904.1,2054.1C905.4,2057.9 905.7,2064.2 907.3,2064.3C909.0,2064.3 915.5,2054.6 915.5,2054.6C915.5,2054.6 926.0,2045.5 929.4,2044.5C932.9,2043.4 936.7,2045.5 939.6,2047.0C942.5,2048.4 946.3,2054.4 949.7,2054.6C953.1,2054.8 959.5,2049.7 963.6,2048.3C967.8,2046.8 974.9,2045.9 978.8,2044.5C982.8,2043.0 987.5,2039.6 991.5,2038.1C995.5,2036.7 1001.8,2034.9 1006.7,2034.3C1011.6,2033.8 1022.8,2033.2 1025.7,2034.3C1028.6,2035.4 1024.6,2040.5 1027.0,2041.9C1029.3,2043.4 1037.1,2043.5 1042.2,2044.5C1047.3,2045.4 1062.5,2048.3 1062.5,2048.3C1062.5,2048.3 1070.1,2051.0 1072.6,2049.5C1075.1,2048.1 1080.2,2038.1 1080.2,2038.1C1080.2,2038.1 1070.8,2034.8 1068.8,2033.0C1066.8,2031.3 1061.0,2027.6 1066.3,2026.0C1071.5,2024.3 1097.4,2024.1 1105.5,2021.6C1113.7,2019.2 1119.7,2011.5 1123.3,2009.0C1126.9,2006.4 1130.5,2006.4 1130.9,2003.9C1131.2,2001.4 1127.4,1994.9 1125.8,1991.2C1124.2,1987.6 1121.5,1982.2 1119.5,1978.6C1117.5,1974.9 1113.7,1969.3 1111.9,1965.9C1110.1,1962.5 1107.9,1957.6 1106.8,1954.5C1105.7,1951.4 1105.4,1947.1 1104.3,1944.3C1103.2,1941.6 1099.1,1938.9 1099.2,1935.5C1099.3,1932.0 1102.0,1923.1 1104.8,1920.3C1107.6,1917.6 1115.8,1918.0 1119.0,1916.3C1122.2,1914.5 1125.1,1911.6 1127.1,1908.2C1129.1,1904.7 1131.5,1896.1 1133.2,1891.9C1134.9,1887.8 1137.5,1880.4 1139.3,1879.0C1141.0,1877.5 1143.6,1880.0 1145.4,1881.8C1147.1,1883.7 1149.7,1888.9 1151.4,1891.9C1153.2,1895.0 1155.2,1902.4 1157.5,1903.3C1159.9,1904.2 1163.0,1898.5 1167.7,1898.4C1172.5,1898.2 1184.0,1902.4 1190.5,1902.2C1197.1,1902.0 1207.2,1898.9 1213.4,1897.1C1219.5,1895.3 1228.9,1890.8 1233.6,1889.5C1238.3,1888.3 1241.2,1887.9 1246.3,1888.3C1251.4,1888.6 1263.3,1891.3 1269.1,1892.1C1274.9,1892.8 1282.1,1892.4 1286.8,1893.3C1291.6,1894.2 1297.0,1896.0 1302.1,1898.4C1307.1,1900.7 1316.5,1906.4 1322.3,1909.8C1328.1,1913.2 1337.2,1918.5 1342.6,1922.5C1348.0,1926.4 1355.6,1933.7 1360.3,1937.7C1365.0,1941.7 1375.5,1950.3 1375.5,1950.3C1375.5,1950.3 1382.1,1940.6 1385.7,1940.2C1389.3,1939.8 1395.5,1945.3 1400.9,1947.8C1406.3,1950.3 1417.2,1954.7 1423.7,1957.9C1430.2,1961.2 1440.0,1966.6 1446.5,1970.6C1453.0,1974.6 1462.8,1981.5 1469.3,1985.8C1475.8,1990.2 1486.0,1998.1 1492.1,2001.0C1498.3,2003.9 1507.0,2005.0 1512.4,2006.1C1517.8,2007.2 1526.9,2009.0 1530.1,2008.6C1533.4,2008.3 1531.6,2003.9 1535.2,2003.6C1538.8,2003.2 1549.3,2004.8 1555.5,2006.1C1561.6,2007.4 1574.7,2010.3 1578.3,2012.4C1581.9,2014.6 1578.3,2019.3 1580.8,2021.3C1583.4,2023.3 1592.2,2024.7 1596.0,2026.4C1599.8,2028.0 1604.2,2033.1 1607.4,2032.7C1610.7,2032.3 1616.1,2026.7 1618.8,2023.8C1621.5,2020.9 1623.5,2015.3 1626.4,2012.4C1629.3,2009.5 1636.7,2008.1 1639.1,2003.6C1641.5,1999.0 1641.8,1986.5 1642.9,1980.8C1644.0,1975.0 1646.8,1962.9 1646.7,1963.0C1646.6,1963.1 1642.7,1980.9 1642.5,1981.2C1642.3,1981.5 1644.0,1969.0 1645.3,1965.0C1646.6,1960.9 1649.4,1956.3 1651.4,1952.8C1653.4,1949.3 1658.8,1944.1 1659.5,1940.6C1660.2,1937.2 1656.3,1931.4 1656.3,1928.5C1656.3,1925.6 1657.3,1922.7 1659.5,1920.4C1661.7,1918.1 1668.8,1914.9 1671.7,1912.3C1674.6,1909.7 1678.0,1903.3 1679.8,1902.1C1681.5,1901.0 1681.2,1904.3 1683.8,1904.2C1686.4,1904.0 1693.4,1900.6 1698.0,1900.9C1702.7,1901.2 1711.3,1905.1 1716.3,1906.2C1721.2,1907.2 1727.9,1907.1 1732.5,1908.2C1737.1,1909.4 1744.1,1912.3 1748.7,1914.3C1753.3,1916.3 1761.2,1920.1 1764.9,1922.4C1768.7,1924.7 1772.2,1929.2 1775.1,1930.5C1778.0,1931.8 1781.7,1931.1 1785.2,1931.7C1788.7,1932.3 1796.2,1935.9 1799.4,1934.6C1802.6,1933.2 1804.3,1924.7 1807.5,1922.4C1810.7,1920.1 1817.3,1919.9 1821.7,1918.3C1826.0,1916.8 1834.4,1911.2 1837.9,1911.5C1841.4,1911.7 1843.7,1917.9 1846.0,1920.4C1848.3,1922.8 1851.2,1926.9 1854.1,1928.5C1857.0,1930.1 1863.4,1931.7 1866.3,1931.7C1869.2,1931.7 1874.4,1928.5 1874.4,1928.5C1874.4,1928.5 1878.9,1914.9 1880.5,1910.2C1882.1,1905.6 1885.8,1899.8 1885.8,1896.0C1885.8,1892.3 1882.1,1887.6 1880.5,1883.9C1878.9,1880.1 1875.6,1873.7 1874.4,1869.7C1873.2,1865.6 1871.7,1859.8 1872.4,1855.5C1873.1,1851.2 1879.6,1843.6 1879.3,1839.3C1879.0,1834.9 1872.8,1828.3 1870.3,1825.1C1867.9,1821.9 1865.1,1819.6 1862.2,1817.0C1859.3,1814.4 1852.4,1809.4 1850.1,1806.8C1847.8,1804.2 1846.3,1803.4 1846.0,1798.7C1845.7,1794.1 1847.8,1781.4 1848.0,1774.4C1848.3,1767.5 1848.6,1754.4 1848.0,1750.1C1847.5,1745.7 1844.3,1745.6 1844.0,1744.0C1843.7,1742.4 1844.0,1739.9 1846.0,1738.7C1848.0,1737.6 1854.1,1736.9 1858.2,1735.9C1862.2,1734.9 1870.6,1731.8 1874.4,1731.8C1878.2,1731.8 1881.9,1735.9 1884.5,1735.9C1887.1,1735.9 1889.8,1733.9 1892.7,1731.8C1895.5,1729.8 1902.8,1724.9 1904.8,1721.7C1906.8,1718.5 1903.7,1712.1 1906.8,1709.5C1910.0,1706.9 1921.9,1704.3 1927.1,1703.4C1932.3,1702.6 1940.7,1704.0 1943.3,1703.4C1945.9,1702.9 1946.2,1700.6 1945.4,1699.4C1944.5,1698.2 1939.3,1696.8 1937.3,1695.3C1935.2,1693.9 1931.0,1691.0 1931.2,1689.3C1931.3,1687.5 1937.3,1686.4 1938.5,1683.2C1939.6,1680.0 1940.0,1670.7 1939.3,1667.0C1938.5,1663.2 1934.6,1660.0 1933.2,1656.8C1931.8,1653.6 1931.2,1646.7 1929.1,1644.7C1927.1,1642.6 1921.6,1644.4 1919.0,1642.6C1916.4,1640.9 1913.8,1636.3 1910.9,1632.5C1908.0,1628.7 1903.1,1617.1 1898.7,1616.3C1894.4,1615.4 1884.3,1625.8 1880.5,1626.4C1876.7,1627.0 1873.8,1622.9 1872.4,1620.3C1870.9,1617.7 1872.7,1612.8 1870.3,1608.2C1868.0,1603.5 1859.6,1592.5 1856.2,1587.9C1852.7,1583.3 1848.0,1579.5 1846.0,1575.7C1844.0,1572.0 1843.7,1566.2 1842.0,1561.5C1840.2,1556.9 1836.2,1546.5 1833.9,1543.3C1831.5,1540.1 1827.8,1540.7 1825.7,1539.2C1823.7,1537.8 1820.2,1535.2 1819.7,1533.1C1819.1,1531.1 1819.7,1527.4 1821.7,1525.0C1823.7,1522.7 1831.8,1520.1 1833.9,1516.9C1835.9,1513.7 1836.5,1505.1 1835.9,1502.7C1835.3,1500.4 1831.9,1501.3 1829.8,1500.7C1827.7,1500.1 1821.5,1501.0 1820.9,1498.7C1820.3,1496.4 1825.3,1488.5 1825.7,1484.5C1826.2,1480.4 1825.2,1473.2 1823.7,1470.3C1822.3,1467.4 1817.6,1467.7 1815.6,1464.2C1813.6,1460.7 1811.8,1449.4 1809.5,1446.0C1807.2,1442.5 1801.1,1441.9 1799.4,1439.9C1797.7,1437.9 1796.2,1434.4 1797.4,1431.8C1798.5,1429.2 1806.3,1424.4 1807.5,1421.6C1808.7,1418.9 1806.9,1414.7 1805.5,1412.7C1804.0,1410.7 1797.4,1407.5 1797.4,1407.5C1797.4,1407.5 1785.8,1407.2 1781.2,1405.5C1776.6,1403.8 1769.0,1397.4 1765.0,1395.4C1760.9,1393.4 1756.9,1392.8 1752.8,1391.3C1748.8,1389.9 1740.1,1387.2 1736.6,1385.3C1733.1,1383.3 1731.4,1377.7 1728.5,1378.0C1725.6,1378.2 1719.8,1384.5 1716.3,1387.3C1712.8,1390.1 1706.8,1393.6 1704.2,1397.4C1701.5,1401.2 1699.5,1409.0 1698.1,1413.6C1696.6,1418.3 1694.0,1429.9 1694.0,1429.9C1694.0,1429.9 1683.9,1446.1 1683.9,1446.1C1683.9,1446.1 1676.2,1447.0 1675.8,1445.3C1675.3,1443.5 1680.3,1437.8 1680.6,1433.9C1680.9,1430.0 1679.7,1420.9 1677.8,1417.7C1675.9,1414.5 1671.4,1413.6 1667.7,1411.6C1663.9,1409.6 1654.9,1406.4 1651.4,1403.5C1648.0,1400.6 1646.2,1393.4 1643.3,1391.3C1640.4,1389.3 1634.6,1388.6 1631.2,1389.3C1627.7,1390.1 1621.8,1396.9 1619.0,1396.6C1616.2,1396.3 1614.0,1390.1 1611.7,1387.3C1609.4,1384.5 1605.5,1379.2 1602.8,1377.1C1600.1,1375.1 1595.0,1374.2 1592.7,1373.1C1590.3,1371.9 1593.2,1371.9 1586.6,1369.0C1579.9,1366.1 1555.6,1357.2 1546.0,1352.8C1536.5,1348.5 1526.0,1341.5 1519.7,1338.6C1513.3,1335.7 1506.9,1334.1 1501.4,1332.5C1495.9,1331.0 1485.5,1328.9 1481.1,1327.7C1476.8,1326.4 1473.9,1323.9 1471.0,1323.6C1468.1,1323.3 1464.1,1324.5 1460.9,1325.6C1457.7,1326.8 1452.8,1330.6 1448.7,1331.7C1444.7,1332.8 1436.5,1333.5 1432.5,1333.4C1428.4,1333.2 1424.4,1330.0 1420.3,1330.5C1416.3,1331.0 1409.3,1335.1 1404.1,1336.6C1398.9,1338.0 1389.6,1340.5 1383.8,1340.6C1378.0,1340.8 1368.2,1337.5 1363.6,1337.8C1358.9,1338.1 1356.6,1341.1 1351.4,1342.7C1346.2,1344.2 1334.0,1347.3 1327.1,1348.8C1320.1,1350.2 1309.1,1352.1 1302.7,1352.8C1296.4,1353.5 1286.8,1354.8 1282.5,1353.6C1278.1,1352.5 1276.4,1347.6 1272.3,1344.7C1268.3,1341.8 1257.6,1336.2 1254.1,1333.4C1250.6,1330.5 1250.3,1326.6 1248.0,1324.4C1245.7,1322.3 1241.6,1318.9 1237.9,1318.3C1234.1,1317.8 1228.0,1320.8 1221.6,1320.4C1215.3,1320.0 1199.9,1315.8 1193.3,1315.5C1186.6,1315.2 1180.8,1319.4 1175.0,1318.3C1169.2,1317.3 1158.5,1310.5 1152.7,1308.2C1146.9,1305.9 1138.5,1304.3 1134.5,1302.1C1130.4,1299.9 1126.9,1296.0 1124.3,1292.8C1121.7,1289.6 1119.8,1282.1 1116.2,1279.8C1112.7,1277.6 1102.9,1278.9 1099.5,1277.1C1096.2,1275.3 1094.8,1269.6 1092.7,1267.0C1090.5,1264.3 1086.6,1261.3 1084.5,1258.8C1082.5,1256.4 1081.1,1252.4 1078.5,1249.5C1075.9,1246.6 1070.1,1241.5 1066.3,1238.6C1062.5,1235.7 1055.3,1231.6 1052.1,1229.2C1048.9,1226.9 1045.3,1225.1 1044.0,1222.4C1042.7,1219.6 1043.9,1213.4 1042.8,1210.2C1041.6,1207.0 1037.6,1203.5 1035.9,1200.1C1034.1,1196.6 1031.8,1189.8 1030.6,1185.9C1029.5,1181.9 1027.6,1175.1 1027.8,1172.5C1027.9,1169.9 1031.3,1170.6 1031.8,1167.6C1032.4,1164.6 1032.4,1156.6 1031.8,1151.4C1031.3,1146.2 1028.8,1135.5 1027.8,1131.1C1026.8,1126.8 1026.1,1124.2 1024.9,1121.0C1023.8,1117.8 1022.2,1112.0 1019.7,1108.8C1017.2,1105.6 1009.5,1101.3 1007.5,1098.7C1005.5,1096.1 1007.2,1092.0 1005.5,1090.6C1003.7,1089.1 998.2,1090.0 995.3,1088.5C992.4,1087.1 987.8,1083.0 985.2,1080.4C982.6,1077.8 978.5,1075.2 977.1,1070.3C975.6,1065.4 975.9,1051.8 975.1,1046.0C974.2,1040.2 972.6,1033.8 971.0,1029.8C969.4,1025.7 964.1,1017.6 964.1,1017.6Z"/>
<path d="M1080.2,2038.1C1080.2,2038.1 1070.8,2034.8 1068.8,2033.0C1066.8,2031.3 1061.0,2027.6 1066.3,2026.0C1071.5,2024.3 1097.4,2024.1 1105.5,2021.6C1113.7,2019.2 1119.7,2011.5 1123.3,2009.0C1126.9,2006.4 1130.5,2006.4 1130.9,2003.9C1131.2,2001.4 1127.4,1994.9 1125.8,1991.2C1124.2,1987.6 1121.5,1982.2 1119.5,1978.6C1117.5,1974.9 1113.7,1969.3 1111.9,1965.9C1110.1,1962.5 1107.9,1957.6 1106.8,1954.5C1105.7,1951.4 1105.4,1947.1 1104.3,1944.3C1103.2,1941.6 1099.1,1938.9 1099.2,1935.5C1099.3,1932.0 1102.0,1923.1 1104.8,1920.3C1107.6,1917.6 1115.8,1918.0 1119.0,1916.3C1122.2,1914.5 1125.1,1911.6 1127.1,1908.2C1129.1,1904.7 1131.5,1896.1 1133.2,1891.9C1134.9,1887.8 1137.5,1880.4 1139.3,1879.0C1141.0,1877.5 1143.6,1880.0 1145.4,1881.8C1147.1,1883.7 1149.7,1888.9 1151.4,1891.9C1153.2,1895.0 1155.2,1902.4 1157.5,1903.3C1159.9,1904.2 1163.0,1898.5 1167.7,1898.4C1172.5,1898.2 1184.0,1902.4 1190.5,1902.2C1197.1,1902.0 1207.2,1898.9 1213.4,1897.1C1219.5,1895.3 1228.9,1890.8 1233.6,1889.5C1238.3,1888.3 1241.2,1887.9 1246.3,1888.3C1251.4,1888.6 1263.3,1891.3 1269.1,1892.1C1274.9,1892.8 1282.1,1892.4 1286.8,1893.3C1291.6,1894.2 1297.0,1896.0 1302.1,1898.4C1307.1,1900.7 1316.5,1906.4 1322.3,1909.8C1328.1,1913.2 1337.2,1918.5 1342.6,1922.5C1348.0,1926.4 1355.6,1933.7 1360.3,1937.7C1365.0,1941.7 1375.5,1950.3 1375.5,1950.3C1375.5,1950.3 1364.7,1962.6 1360.3,1968.1C1356.0,1973.5 1349.1,1984.0 1345.1,1988.4C1341.2,1992.7 1336.8,1995.2 1332.5,1998.5C1328.1,2001.7 1319.1,2007.9 1314.7,2011.2C1310.4,2014.4 1305.3,2017.3 1302.1,2021.3C1298.8,2025.3 1291.9,2039.0 1291.9,2039.0C1291.9,2039.0 1284.3,2056.8 1284.3,2056.8C1284.3,2056.8 1266.9,2070.9 1261.5,2074.5C1256.1,2078.1 1251.4,2079.8 1246.3,2082.1C1241.2,2084.5 1232.5,2088.5 1226.0,2091.0C1219.5,2093.5 1206.8,2097.9 1200.7,2099.9C1194.5,2101.8 1185.5,2103.2 1182.9,2104.9C1180.4,2106.6 1182.8,2111.6 1182.8,2111.6C1182.8,2111.6 1180.7,2106.9 1179.0,2106.5C1177.4,2106.2 1174.0,2108.3 1171.4,2109.1C1168.9,2109.8 1163.3,2112.5 1161.3,2111.6C1159.3,2110.7 1159.7,2104.7 1157.5,2102.7C1155.3,2100.7 1149.5,2098.6 1146.1,2097.7C1142.7,2096.8 1136.7,2098.6 1133.4,2096.4C1130.2,2094.2 1126.4,2087.4 1123.3,2082.5C1120.2,2077.6 1115.9,2066.5 1111.9,2062.2C1107.9,2057.8 1099.9,2055.5 1095.4,2052.1C1090.9,2048.6 1080.2,2038.1 1080.2,2038.1Z"/>
<path d="M1182.8,2111.6C1182.8,2111.6 1166.9,2115.2 1161.3,2116.7C1155.7,2118.1 1147.4,2120.3 1143.6,2121.7C1139.8,2123.2 1136.3,2124.6 1134.7,2126.8C1133.1,2129.0 1132.0,2133.9 1132.2,2136.9C1132.3,2140.0 1134.0,2143.8 1136.0,2148.4C1137.9,2152.9 1143.2,2162.8 1146.1,2168.6C1149.0,2174.4 1153.7,2183.8 1156.2,2188.9C1158.8,2194.0 1161.7,2200.1 1163.8,2204.1C1166.0,2208.1 1168.5,2213.2 1171.4,2216.8C1174.3,2220.4 1179.8,2225.3 1184.1,2229.4C1188.4,2233.6 1198.2,2243.9 1201.8,2245.9C1205.5,2247.9 1206.6,2243.0 1209.4,2243.4C1212.3,2243.7 1218.7,2247.0 1222.1,2248.5C1225.6,2249.9 1231.5,2251.2 1233.5,2253.5C1235.5,2255.9 1234.1,2262.2 1236.1,2264.9C1238.0,2267.6 1244.0,2269.8 1247.5,2272.5C1250.9,2275.2 1257.4,2280.7 1260.1,2283.9C1262.8,2287.2 1264.8,2293.0 1266.5,2295.3C1268.1,2297.7 1271.5,2300.4 1271.5,2300.4C1271.5,2300.4 1284.9,2302.2 1290.5,2302.9C1296.2,2303.7 1305.0,2304.2 1310.8,2305.5C1316.6,2306.7 1331.1,2311.8 1331.1,2311.8C1331.1,2311.8 1346.5,2317.8 1348.8,2316.9C1351.2,2316.0 1347.6,2305.5 1347.6,2305.5C1347.6,2305.5 1350.1,2294.6 1351.4,2290.3C1352.6,2285.9 1355.3,2279.4 1356.4,2275.1C1357.5,2270.7 1359.0,2264.6 1359.0,2259.9C1359.0,2255.2 1357.9,2245.7 1356.4,2242.1C1355.0,2238.5 1350.8,2237.4 1348.8,2234.5C1346.8,2231.6 1343.8,2226.2 1342.5,2221.8C1341.2,2217.5 1339.8,2208.8 1340.0,2204.1C1340.1,2199.4 1342.7,2193.2 1343.8,2188.9C1344.8,2184.6 1347.2,2178.0 1347.6,2173.7C1347.9,2169.4 1348.3,2161.0 1346.3,2158.5C1344.3,2156.0 1337.2,2158.7 1333.6,2156.0C1330.0,2153.2 1324.6,2145.3 1321.0,2139.5C1317.3,2133.7 1311.9,2124.3 1308.3,2115.4C1304.7,2106.5 1298.3,2086.4 1295.6,2077.4C1292.9,2068.3 1289.3,2052.1 1289.3,2052.1C1289.3,2052.1 1284.3,2056.8 1284.3,2056.8C1284.3,2056.8 1266.9,2070.9 1261.5,2074.5C1256.1,2078.1 1251.4,2079.8 1246.3,2082.1C1241.2,2084.5 1232.5,2088.5 1226.0,2091.0C1219.5,2093.5 1206.8,2097.9 1200.7,2099.9C1194.5,2101.8 1185.5,2103.2 1182.9,2104.9C1180.4,2106.6 1182.8,2111.6 1182.8,2111.6Z"/>
<path d="M906.6,2064.7C905.5,2068.0 908.1,2072.0 907.9,2077.4C907.7,2082.8 905.0,2096.2 905.3,2102.7C905.7,2109.3 909.0,2119.0 910.4,2123.0C911.9,2127.0 914.9,2126.3 915.5,2130.6C916.0,2135.0 915.5,2148.0 914.2,2153.4C912.9,2158.9 907.0,2165.4 906.6,2168.6C906.2,2171.9 909.9,2174.6 911.7,2176.2C913.5,2177.9 918.6,2177.1 919.3,2180.0C920.0,2182.9 917.8,2192.7 916.7,2196.5C915.7,2200.3 911.1,2203.4 911.7,2206.6C912.2,2209.9 918.2,2216.1 920.5,2219.3C922.9,2222.6 926.5,2225.1 928.2,2229.4C929.8,2233.8 930.7,2244.3 932.0,2249.7C933.2,2255.2 935.6,2262.0 937.0,2267.5C938.5,2272.9 942.1,2287.7 942.1,2287.7C942.1,2287.7 950.2,2287.4 953.5,2286.5C956.8,2285.6 962.5,2281.6 964.9,2281.4C967.2,2281.2 969.1,2282.1 970.0,2285.2C970.9,2288.3 970.1,2299.5 971.2,2302.9C972.3,2306.4 975.9,2307.5 977.6,2309.3C979.2,2311.1 980.6,2312.9 982.6,2315.6C984.6,2318.3 988.8,2326.1 991.5,2328.3C994.2,2330.5 998.7,2329.4 1001.6,2330.8C1004.5,2332.3 1007.8,2337.5 1011.8,2338.4C1015.8,2339.3 1025.5,2338.2 1029.5,2337.2C1033.5,2336.1 1036.8,2331.9 1039.7,2330.8C1042.6,2329.7 1046.5,2329.0 1049.8,2329.5C1053.1,2330.1 1059.4,2333.9 1062.5,2334.6C1065.5,2335.3 1066.3,2335.5 1071.3,2334.6C1076.4,2333.7 1090.5,2330.5 1097.9,2328.3C1105.4,2326.1 1118.2,2320.3 1123.3,2319.4C1128.4,2318.5 1130.5,2320.0 1133.4,2321.9C1136.3,2323.9 1140.1,2329.7 1143.6,2333.4C1147.0,2337.0 1154.2,2345.7 1157.5,2347.3C1160.8,2348.9 1162.6,2346.4 1166.4,2344.8C1170.2,2343.1 1178.7,2338.1 1184.1,2335.9C1189.5,2333.7 1199.7,2331.4 1204.4,2329.5C1209.1,2327.7 1213.2,2325.2 1217.1,2323.2C1220.9,2321.2 1228.5,2317.6 1231.0,2315.6C1233.5,2313.6 1232.8,2310.4 1234.8,2309.3C1236.8,2308.2 1241.3,2308.7 1244.9,2308.0C1248.5,2307.3 1256.3,2305.3 1260.1,2304.2C1263.9,2303.1 1271.5,2300.4 1271.5,2300.4C1271.5,2300.4 1268.1,2297.7 1266.5,2295.3C1264.8,2293.0 1262.8,2287.2 1260.1,2283.9C1257.4,2280.7 1250.9,2275.2 1247.5,2272.5C1244.0,2269.8 1238.0,2267.6 1236.1,2264.9C1234.1,2262.2 1235.5,2255.9 1233.5,2253.5C1231.5,2251.2 1225.6,2249.9 1222.1,2248.5C1218.7,2247.0 1212.3,2243.7 1209.4,2243.4C1206.6,2243.0 1205.5,2247.9 1201.8,2245.9C1198.2,2243.9 1188.4,2233.6 1184.1,2229.4C1179.8,2225.3 1174.3,2220.4 1171.4,2216.8C1168.5,2213.2 1166.0,2208.1 1163.8,2204.1C1161.7,2200.1 1158.8,2194.0 1156.2,2188.9C1153.7,2183.8 1149.0,2174.4 1146.1,2168.6C1143.2,2162.8 1137.9,2152.9 1136.0,2148.4C1134.0,2143.8 1132.3,2140.0 1132.2,2136.9C1132.0,2133.9 1133.1,2129.0 1134.7,2126.8C1136.3,2124.6 1139.8,2123.2 1143.6,2121.7C1147.4,2120.3 1155.7,2118.1 1161.3,2116.7C1166.9,2115.2 1182.8,2111.6 1182.8,2111.6C1182.8,2111.6 1180.7,2106.9 1179.0,2106.5C1177.4,2106.2 1174.0,2108.3 1171.4,2109.1C1168.9,2109.8 1163.3,2112.5 1161.3,2111.6C1159.3,2110.7 1159.7,2104.7 1157.5,2102.7C1155.3,2100.7 1149.5,2098.6 1146.1,2097.7C1142.7,2096.8 1136.7,2098.6 1133.4,2096.4C1130.2,2094.2 1126.4,2087.4 1123.3,2082.5C1120.2,2077.6 1115.9,2066.5 1111.9,2062.2C1107.9,2057.8 1099.9,2055.5 1095.4,2052.1C1090.9,2048.6 1080.2,2038.1 1080.2,2038.1C1080.2,2038.1 1062.5,2048.3 1062.5,2048.3C1062.5,2048.3 1047.3,2045.4 1042.2,2044.5C1037.1,2043.5 1029.3,2043.4 1027.0,2041.9C1024.6,2040.5 1028.6,2035.4 1025.7,2034.3C1022.8,2033.2 1011.6,2033.8 1006.7,2034.3C1001.8,2034.9 995.5,2036.7 991.5,2038.1C987.5,2039.6 982.8,2043.0 978.8,2044.5C974.9,2045.9 967.8,2046.8 963.6,2048.3C959.5,2049.7 953.1,2054.8 949.7,2054.6C946.3,2054.4 942.5,2048.4 939.6,2047.0C936.7,2045.5 932.9,2043.4 929.4,2044.5C926.0,2045.5 915.5,2054.6 915.5,2054.6C915.5,2054.6 907.7,2061.5 906.6,2064.7Z"/>
<path d="M1375.5,1950.3C1375.5,1950.3 1382.1,1940.6 1385.7,1940.2C1389.3,1939.8 1395.5,1945.3 1400.9,1947.8C1406.3,1950.3 1417.2,1954.7 1423.7,1957.9C1430.2,1961.2 1440.0,1966.6 1446.5,1970.6C1453.0,1974.6 1462.8,1981.5 1469.3,1985.8C1475.8,1990.2 1486.0,1998.1 1492.1,2001.0C1498.3,2003.9 1507.0,2005.0 1512.4,2006.1C1517.8,2007.2 1526.9,2009.0 1530.1,2008.6C1533.4,2008.3 1531.6,2003.9 1535.2,2003.6C1538.8,2003.2 1549.3,2004.8 1555.5,2006.1C1561.6,2007.4 1574.7,2010.3 1578.3,2012.4C1581.9,2014.6 1578.3,2019.3 1580.8,2021.3C1583.4,2023.3 1592.2,2024.7 1596.0,2026.4C1599.8,2028.0 1604.2,2033.1 1607.4,2032.7C1610.7,2032.3 1616.1,2026.7 1618.8,2023.8C1621.5,2020.9 1623.5,2015.3 1626.4,2012.4C1629.3,2009.5 1636.7,2008.1 1639.1,2003.6C1641.5,1999.0 1641.8,1986.5 1642.9,1980.8C1644.0,1975.0 1646.8,1962.9 1646.7,1963.0C1646.6,1963.1 1642.7,1980.9 1642.5,1981.2C1642.3,1981.5 1644.0,1969.0 1645.3,1965.0C1646.6,1960.9 1649.4,1956.3 1651.4,1952.8C1653.4,1949.3 1658.8,1944.1 1659.5,1940.6C1660.2,1937.2 1656.3,1931.4 1656.3,1928.5C1656.3,1925.6 1657.3,1922.7 1659.5,1920.4C1661.7,1918.1 1668.8,1914.9 1671.7,1912.3C1674.6,1909.7 1678.0,1903.3 1679.8,1902.1C1681.5,1901.0 1681.2,1904.3 1683.8,1904.2C1686.4,1904.0 1693.4,1900.6 1698.0,1900.9C1702.7,1901.2 1711.3,1905.1 1716.3,1906.2C1721.2,1907.2 1727.9,1907.1 1732.5,1908.2C1737.1,1909.4 1744.1,1912.3 1748.7,1914.3C1753.3,1916.3 1761.2,1920.1 1764.9,1922.4C1768.7,1924.7 1772.2,1929.2 1775.1,1930.5C1778.0,1931.8 1781.7,1931.1 1785.2,1931.7C1788.7,1932.3 1796.2,1935.9 1799.4,1934.6C1802.6,1933.2 1804.3,1924.7 1807.5,1922.4C1810.7,1920.1 1817.3,1919.9 1821.7,1918.3C1826.0,1916.8 1834.4,1911.2 1837.9,1911.5C1841.4,1911.7 1843.7,1917.9 1846.0,1920.4C1848.3,1922.8 1851.2,1926.9 1854.1,1928.5C1857.0,1930.1 1863.4,1931.7 1866.3,1931.7C1869.2,1931.7 1874.4,1928.5 1874.4,1928.5C1874.4,1928.5 1878.7,1941.2 1880.5,1944.7C1882.2,1948.2 1884.8,1950.6 1886.6,1952.8C1888.3,1955.0 1892.9,1957.8 1892.7,1960.1C1892.4,1962.4 1887.1,1966.7 1884.5,1969.0C1881.9,1971.3 1875.3,1973.4 1874.4,1976.3C1873.5,1979.2 1876.7,1985.7 1878.5,1989.3C1880.2,1992.9 1883.7,1998.0 1886.6,2001.5C1889.5,2004.9 1896.4,2010.2 1898.7,2013.6C1901.0,2017.1 1900.5,2024.4 1902.8,2025.8C1905.1,2027.2 1911.8,2022.6 1915.0,2023.8C1918.1,2024.9 1922.9,2030.6 1925.1,2033.9C1927.3,2037.3 1929.2,2044.1 1930.5,2047.2C1931.9,2050.2 1934.9,2053.0 1934.6,2055.3C1934.3,2057.6 1929.4,2059.1 1928.5,2063.4C1927.6,2067.7 1929.6,2081.6 1928.5,2085.7C1927.3,2089.8 1923.9,2091.2 1920.4,2091.8C1916.9,2092.4 1909.4,2090.3 1904.2,2089.8C1898.9,2089.2 1889.1,2089.6 1883.9,2087.7C1878.7,2085.9 1871.1,2077.1 1867.7,2076.8C1864.2,2076.5 1862.7,2083.4 1859.6,2085.7C1856.4,2088.0 1848.0,2090.7 1845.4,2093.0C1842.8,2095.3 1844.5,2099.6 1841.3,2101.9C1838.1,2104.2 1828.9,2108.5 1823.1,2109.2C1817.3,2109.9 1806.8,2106.5 1800.8,2106.8C1794.7,2107.0 1786.0,2110.5 1780.5,2110.8C1775.0,2111.2 1765.4,2108.2 1762.2,2109.2C1759.1,2110.3 1758.5,2115.1 1758.2,2118.1C1757.9,2121.1 1762.5,2129.1 1760.2,2130.3C1757.9,2131.5 1746.3,2126.2 1742.0,2126.2C1737.6,2126.2 1733.0,2129.1 1729.8,2130.3C1726.6,2131.5 1722.0,2131.7 1719.7,2134.4C1717.3,2137.0 1717.1,2145.6 1713.6,2148.5C1710.1,2151.4 1700.6,2152.6 1695.3,2154.6C1690.1,2156.7 1680.6,2160.1 1677.1,2162.7C1673.6,2165.3 1673.3,2170.8 1671.0,2172.9C1668.7,2174.9 1662.9,2174.0 1660.9,2176.9C1658.8,2179.8 1658.8,2188.8 1656.8,2193.1C1654.8,2197.5 1648.4,2204.4 1646.7,2207.3C1644.9,2210.2 1646.7,2211.7 1644.7,2213.4C1642.6,2215.2 1635.4,2217.9 1632.5,2219.5C1629.6,2221.1 1627.3,2224.1 1624.4,2224.4C1621.5,2224.7 1615.4,2221.4 1612.2,2221.5C1609.0,2221.7 1605.3,2225.3 1602.1,2225.6C1598.9,2225.9 1592.3,2222.7 1589.9,2223.6C1587.5,2224.4 1585.9,2228.8 1585.0,2231.7C1584.2,2234.6 1583.7,2239.5 1583.8,2243.8C1583.9,2248.2 1585.6,2256.3 1585.9,2262.1C1586.1,2267.9 1585.9,2279.2 1585.9,2284.4C1585.9,2289.6 1586.7,2295.4 1585.9,2298.6C1585.0,2301.8 1582.3,2304.9 1579.8,2306.7C1577.3,2308.4 1570.2,2307.5 1568.4,2310.7C1566.7,2313.9 1569.2,2324.3 1567.6,2329.0C1566.0,2333.6 1559.5,2339.7 1557.5,2343.2C1555.4,2346.6 1556.0,2351.0 1553.4,2353.3C1550.8,2355.6 1543.9,2358.8 1539.2,2359.4C1534.6,2360.0 1525.3,2357.4 1521.0,2357.4C1516.6,2357.4 1513.2,2360.4 1508.8,2359.4C1504.5,2358.3 1496.1,2351.8 1490.6,2350.1C1485.1,2348.3 1474.4,2346.5 1470.3,2347.2C1466.2,2348.0 1463.9,2352.7 1462.2,2355.3C1460.5,2357.9 1459.9,2362.9 1458.1,2365.5C1456.4,2368.1 1452.3,2371.0 1450.0,2373.6C1447.7,2376.2 1444.2,2384.3 1441.9,2383.7C1439.6,2383.1 1433.8,2369.5 1433.8,2369.5C1433.8,2369.5 1425.1,2355.6 1421.6,2351.3C1418.2,2346.9 1413.0,2341.8 1409.5,2339.1C1406.0,2336.4 1401.4,2333.7 1397.3,2332.2C1393.3,2330.8 1385.7,2330.4 1381.1,2329.0C1376.5,2327.5 1369.5,2323.7 1364.9,2322.1C1360.2,2320.5 1348.7,2317.6 1348.7,2317.6C1348.7,2317.6 1347.6,2305.5 1347.6,2305.5C1347.6,2305.5 1350.1,2294.6 1351.4,2290.3C1352.6,2285.9 1355.3,2279.4 1356.4,2275.1C1357.5,2270.7 1359.0,2264.6 1359.0,2259.9C1359.0,2255.2 1357.9,2245.7 1356.4,2242.1C1355.0,2238.5 1350.8,2237.4 1348.8,2234.5C1346.8,2231.6 1343.8,2226.2 1342.5,2221.8C1341.2,2217.5 1339.8,2208.8 1340.0,2204.1C1340.1,2199.4 1342.7,2193.2 1343.8,2188.9C1344.8,2184.6 1347.2,2178.0 1347.6,2173.7C1347.9,2169.4 1348.3,2161.0 1346.3,2158.5C1344.3,2156.0 1337.2,2158.7 1333.6,2156.0C1330.0,2153.2 1324.6,2145.3 1321.0,2139.5C1317.3,2133.7 1311.9,2124.3 1308.3,2115.4C1304.7,2106.5 1298.3,2086.4 1295.6,2077.4C1292.9,2068.3 1289.3,2052.1 1289.3,2052.1C1289.3,2052.1 1291.9,2039.0 1291.9,2039.0C1291.9,2039.0 1298.8,2025.3 1302.1,2021.3C1305.3,2017.3 1310.4,2014.4 1314.7,2011.2C1319.1,2007.9 1328.1,2001.7 1332.5,1998.5C1336.8,1995.2 1341.2,1992.7 1345.1,1988.4C1349.1,1984.0 1356.0,1973.5 1360.3,1968.1C1364.7,1962.6 1375.5,1950.3 1375.5,1950.3Z"/>
<path d="M942.1,2287.7C942.1,2287.7 924.4,2292.9 921.6,2296.5C918.8,2300.1 922.7,2308.4 922.5,2312.7C922.2,2317.1 921.4,2322.8 919.6,2326.9C917.9,2331.0 910.9,2336.2 910.3,2341.1C909.7,2346.0 913.9,2356.2 915.6,2361.4C917.2,2366.6 919.6,2373.2 921.6,2377.6C923.7,2381.9 928.3,2388.3 929.8,2391.8C931.2,2395.3 930.6,2398.4 931.8,2401.9C932.9,2405.4 938.7,2412.6 937.9,2416.1C937.0,2419.6 928.3,2422.8 925.7,2426.2C923.1,2429.7 918.7,2435.8 919.6,2440.4C920.5,2445.1 928.6,2453.5 931.8,2458.7C935.0,2463.9 939.6,2471.7 941.9,2476.9C944.2,2482.1 947.3,2490.0 948.0,2495.2C948.7,2500.4 947.7,2509.1 946.8,2513.4C945.9,2517.8 941.6,2521.8 941.9,2525.6C942.3,2529.4 948.6,2536.3 949.2,2539.8C949.8,2543.3 945.6,2547.3 946.0,2549.9C946.4,2552.5 951.0,2555.1 952.1,2558.0C953.1,2560.9 954.7,2566.7 953.3,2570.2C951.8,2573.7 943.1,2579.2 941.9,2582.4C940.8,2585.5 944.6,2589.0 945.2,2592.5C945.7,2596.0 947.6,2603.9 946.0,2606.7C944.3,2609.5 937.9,2611.4 933.8,2612.0C929.8,2612.5 921.5,2609.2 917.6,2610.7C913.6,2612.3 909.4,2619.2 906.2,2622.9C903.0,2626.5 898.5,2633.0 895.3,2636.3C892.1,2639.6 883.6,2643.0 883.9,2646.0C884.2,2649.0 893.4,2654.3 897.3,2657.4C901.3,2660.4 908.6,2664.9 911.5,2667.5C914.4,2670.1 915.0,2674.6 917.6,2675.6C920.2,2676.6 926.9,2672.7 929.8,2674.4C932.6,2676.1 935.3,2685.0 937.9,2687.8C940.5,2690.6 945.1,2691.0 948.0,2693.9C950.9,2696.8 956.4,2704.3 958.1,2708.0C959.9,2711.8 958.7,2715.9 960.2,2720.2C961.6,2724.6 965.8,2735.0 968.3,2738.5C970.8,2741.9 975.9,2741.1 977.6,2744.5C979.3,2748.0 979.2,2758.2 980.4,2762.8C981.7,2767.4 985.9,2771.8 986.5,2777.0C987.1,2782.2 984.5,2794.4 984.5,2799.3C984.5,2804.2 987.4,2807.7 986.5,2811.4C985.6,2815.2 980.1,2820.7 978.4,2825.6C976.7,2830.6 976.1,2840.1 974.4,2845.9C972.6,2851.7 968.0,2861.3 966.2,2866.2C964.5,2871.1 964.0,2877.8 962.2,2880.4C960.3,2883.0 952.1,2884.0 953.3,2884.4C954.4,2884.9 965.5,2881.9 970.3,2883.6C975.0,2885.4 982.5,2893.3 986.5,2896.6C990.6,2899.9 995.8,2904.0 998.7,2906.7C1001.6,2909.5 1003.3,2913.7 1006.8,2916.1C1010.3,2918.4 1019.2,2921.2 1023.0,2922.9C1026.8,2924.7 1029.7,2927.9 1033.1,2928.2C1036.6,2928.5 1043.6,2926.3 1047.3,2925.0C1051.1,2923.6 1057.8,2921.8 1059.5,2918.9C1061.2,2916.0 1057.8,2906.4 1059.5,2904.7C1061.2,2903.0 1067.0,2907.3 1071.7,2906.7C1076.3,2906.2 1087.3,2900.4 1091.9,2900.6C1096.6,2900.9 1101.8,2905.9 1104.1,2908.8C1106.4,2911.7 1106.1,2918.3 1108.2,2920.9C1110.2,2923.5 1114.2,2924.7 1118.3,2927.0C1122.4,2929.3 1132.8,2934.2 1136.5,2937.1C1140.3,2940.0 1141.8,2946.1 1144.7,2947.3C1147.5,2948.4 1154.2,2943.8 1156.8,2945.3C1159.4,2946.7 1160.9,2955.1 1162.9,2957.4C1164.9,2959.7 1169.3,2959.7 1171.0,2961.5C1172.7,2963.2 1171.9,2967.3 1175.1,2969.6C1178.2,2971.9 1189.8,2976.2 1193.3,2977.7C1196.8,2979.1 1197.1,2979.3 1199.4,2979.7C1201.7,2980.2 1205.2,2979.9 1209.5,2980.9C1213.9,2981.9 1225.5,2986.5 1229.8,2986.6C1234.1,2986.7 1237.3,2983.9 1239.9,2981.7C1242.5,2979.6 1245.2,2974.5 1248.0,2971.6C1250.9,2968.7 1257.9,2965.2 1260.2,2961.5C1262.5,2957.7 1262.5,2948.7 1264.3,2945.3C1266.0,2941.8 1270.1,2939.5 1272.4,2937.1C1274.7,2934.8 1279.3,2932.8 1280.5,2929.0C1281.6,2925.3 1279.0,2914.0 1280.5,2910.8C1281.9,2907.6 1288.9,2909.3 1290.6,2906.7C1292.4,2904.1 1292.4,2897.5 1292.7,2892.5C1292.9,2887.6 1291.8,2877.5 1292.7,2872.3C1293.5,2867.1 1296.1,2859.5 1298.7,2856.0C1301.3,2852.6 1307.4,2849.4 1310.9,2847.9C1314.4,2846.5 1319.6,2845.8 1323.1,2845.9C1326.5,2846.0 1332.0,2848.7 1335.2,2848.7C1338.4,2848.7 1342.8,2848.1 1345.4,2845.9C1348.0,2843.8 1350.6,2837.2 1353.5,2833.7C1356.4,2830.3 1362.5,2825.1 1365.6,2821.6C1368.8,2818.1 1372.6,2812.3 1375.8,2809.4C1379.0,2806.5 1384.5,2804.5 1387.9,2801.3C1391.4,2798.1 1396.6,2790.3 1400.1,2787.1C1403.6,2783.9 1409.1,2780.7 1412.3,2779.0C1415.5,2777.3 1418.6,2776.0 1422.4,2775.0C1426.2,2773.9 1435.1,2772.0 1438.6,2771.7C1442.1,2771.4 1445.4,2775.4 1446.7,2772.9C1448.1,2770.5 1448.5,2759.6 1447.9,2754.7C1447.4,2749.8 1444.0,2741.9 1442.7,2738.5C1441.3,2735.0 1438.9,2733.2 1438.6,2730.3C1438.3,2727.5 1441.2,2721.7 1440.6,2718.2C1440.1,2714.7 1435.7,2711.8 1434.6,2706.0C1433.4,2700.2 1433.1,2684.0 1432.5,2677.6C1432.0,2671.3 1431.4,2665.2 1430.5,2661.4C1429.6,2657.7 1428.8,2653.9 1426.5,2651.3C1424.1,2648.7 1417.8,2645.8 1414.3,2643.2C1410.8,2640.6 1404.7,2636.8 1402.1,2633.0C1399.5,2629.3 1397.0,2621.5 1396.0,2616.8C1395.1,2612.2 1396.1,2605.5 1395.2,2600.6C1394.4,2595.7 1389.6,2586.5 1390.0,2582.4C1390.4,2578.2 1397.8,2574.6 1398.1,2571.4C1398.4,2568.2 1394.9,2562.3 1392.0,2560.1C1389.1,2557.8 1380.7,2558.9 1377.8,2556.0C1374.9,2553.1 1373.6,2544.1 1371.7,2539.8C1369.8,2535.4 1365.3,2529.6 1364.4,2525.6C1363.6,2521.5 1365.2,2515.7 1365.6,2511.4C1366.1,2507.0 1365.9,2498.9 1367.7,2495.2C1369.4,2491.4 1375.5,2489.1 1377.8,2485.0C1380.1,2481.0 1382.1,2472.3 1383.9,2466.8C1385.6,2461.3 1387.1,2450.3 1390.0,2446.5C1392.9,2442.8 1401.5,2443.9 1404.2,2440.4C1406.8,2437.0 1406.2,2426.8 1408.2,2422.2C1410.2,2417.6 1415.2,2412.1 1418.3,2408.0C1421.5,2403.9 1427.3,2397.3 1430.5,2393.8C1433.7,2390.3 1440.2,2387.1 1440.6,2383.7C1441.1,2380.2 1433.8,2369.5 1433.8,2369.5C1433.8,2369.5 1425.1,2355.6 1421.6,2351.3C1418.2,2346.9 1413.0,2341.8 1409.5,2339.1C1406.0,2336.4 1401.4,2333.7 1397.3,2332.2C1393.3,2330.8 1385.7,2330.4 1381.1,2329.0C1376.5,2327.5 1369.5,2323.7 1364.9,2322.1C1360.2,2320.5 1348.7,2317.6 1348.7,2317.6C1348.7,2317.6 1331.1,2311.8 1331.1,2311.8C1331.1,2311.8 1316.6,2306.7 1310.8,2305.5C1305.0,2304.2 1296.2,2303.7 1290.5,2302.9C1284.9,2302.2 1271.5,2300.4 1271.5,2300.4C1271.5,2300.4 1263.9,2303.1 1260.1,2304.2C1256.3,2305.3 1248.5,2307.3 1244.9,2308.0C1241.3,2308.7 1236.8,2308.2 1234.8,2309.3C1232.8,2310.4 1233.5,2313.6 1231.0,2315.6C1228.5,2317.6 1220.9,2321.2 1217.1,2323.2C1213.2,2325.2 1209.1,2327.7 1204.4,2329.5C1199.7,2331.4 1189.5,2333.7 1184.1,2335.9C1178.7,2338.1 1170.2,2343.1 1166.4,2344.8C1162.6,2346.4 1160.8,2348.9 1157.5,2347.3C1154.2,2345.7 1147.0,2337.0 1143.6,2333.4C1140.1,2329.7 1136.3,2323.9 1133.4,2321.9C1130.5,2320.0 1128.4,2318.5 1123.3,2319.4C1118.2,2320.3 1105.4,2326.1 1097.9,2328.3C1090.5,2330.5 1076.4,2333.7 1071.3,2334.6C1066.3,2335.5 1065.5,2335.3 1062.5,2334.6C1059.4,2333.9 1053.1,2330.1 1049.8,2329.5C1046.5,2329.0 1042.6,2329.7 1039.7,2330.8C1036.8,2331.9 1033.5,2336.1 1029.5,2337.2C1025.5,2338.2 1015.8,2339.3 1011.8,2338.4C1007.8,2337.5 1004.5,2332.3 1001.6,2330.8C998.7,2329.4 994.2,2330.5 991.5,2328.3C988.8,2326.1 984.6,2318.3 982.6,2315.6C980.6,2312.9 979.2,2311.1 977.6,2309.3C975.9,2307.5 972.3,2306.4 971.2,2302.9C970.1,2299.5 970.9,2288.3 970.0,2285.2C969.1,2282.1 967.2,2281.2 964.9,2281.4C962.5,2281.6 956.8,2285.6 953.5,2286.5C950.2,2287.4 942.1,2287.7 942.1,2287.7Z"/>
</g>
<g stroke="#808080" stroke-opacity="0.5" stroke-width="4.86" stroke-dasharray="17.99 7.777" fill="none">
<path d="M805.3,120.56V3127"/>
<path d="M1302.7,120.56V3127"/>
<path d="M1800,120.56V3127"/>
<path d="M2297.3,120.56V3127"/>
<path d="M2794.7,120.56V3127"/>
<path d="M308.3,392.5H3292"/>
<path d="M308.3,889.7H3292"/>
<path d="M308.3,1386.9H3292"/>
<path d="M308.3,1884.1H3292"/>
<path d="M308.3,2381.3H3292"/>
<path d="M308.3,2878.5H3292"/>
</g>
<g fill="#737373" font-size="126.4">
<text x="555.7" y="499.1">Feb 26</text><text x="555.7" y="641.3">22:40</text>
</g>
<g>
<circle cx="2630.6" cy="700.6" r="26.7" fill="#e1f3b2"/>
<circle cx="2641.1" cy="688.4" r="26.7" fill="#e1f3b2"/>
<circle cx="2490.1" cy="793.1" r="26.7" fill="#f3fabf"/>
<circle cx="2479.2" cy="852.8" r="26.7" fill="#f3fabf"/>
<circle cx="2046.6" cy="985.9" r="26.7" fill="#f3fabf"/>
<circle cx="2060.6" cy="1003.5" r="26.7" fill="#f3fabf"/>
<circle cx="2062.0" cy="1033.8" r="26.7" fill="#e1f3b2"/>
<circle cx="2034.6" cy="1061.9" r="26.7" fill="#e1f3b2"/>
<circle cx="2049.7" cy="1016.7" r="26.7" fill="#e1f3b2"/>
<circle cx="2049.1" cy="1010.6" r="26.7" fill="#ffffd9"/>
<circle cx="2041.5" cy="1122.5" r="26.7" fill="#ffffd9"/>
<circle cx="1815.0" cy="945.0" r="26.7" fill="#ffffd9"/>
<circle cx="1875.5" cy="955.8" r="26.7" fill="#f3fabf"/>
<circle cx="1227.3" cy="1398.3" r="26.7" fill="#ffffd9"/>
<circle cx="1251.4" cy="1445.0" r="26.7" fill="#f3fabf"/>
<circle cx="1202.0" cy="1498.4" r="26.7" fill="#f3fabf"/>
<circle cx="1206.5" cy="1609.7" r="26.7" fill="#ffffd9"/>
<circle cx="1225.3" cy="1681.4" r="26.7" fill="#6bc6be"/>
<circle cx="1263.3" cy="1666.2" r="26.7" fill="#c6e9b4"/>
<circle cx="1219.2" cy="1655.5" r="26.7" fill="#e1f3b2"/>
<circle cx="1292.4" cy="1602.8" r="26.7" fill="#e1f3b2"/>
<circle cx="1291.4" cy="1596.5" r="26.7" fill="#f3fabf"/>
<circle cx="1291.9" cy="1710.5" r="26.7" fill="#f3fabf"/>
<circle cx="1324.9" cy="1696.6" r="26.7" fill="#e1f3b2"/>
<circle cx="1307.1" cy="1685.2" r="26.7" fill="#ffffd9"/>
<circle cx="1285.6" cy="1652.3" r="26.7" fill="#f3fabf"/>
<circle cx="1281.8" cy="1639.1" r="26.7" fill="#f3fabf"/>
<circle cx="1163.9" cy="1714.3" r="26.7" fill="#ffffd9"/>
<circle cx="1361.6" cy="1534.4" r="26.7" fill="#e1f3b2"/>
<circle cx="1336.3" cy="1517.4" r="26.7" fill="#ffffd9"/>
<circle cx="1325.4" cy="1488.8" r="26.7" fill="#f3fabf"/>
<circle cx="1341.3" cy="1466.0" r="26.7" fill="#97d6b9"/>
<circle cx="1397.1" cy="1519.2" r="26.7" fill="#c6e9b4"/>
<circle cx="1377.6" cy="1520.0" r="26.7" fill="#f3fabf"/>
<circle cx="1381.1" cy="1516.7" r="26.7" fill="#ffffd9"/>
<circle cx="1408.5" cy="1473.6" r="26.7" fill="#ffffd9"/>
<circle cx="1396.6" cy="1368.4" r="26.7" fill="#f3fabf"/>
<circle cx="1390.2" cy="1383.6" r="26.7" fill="#f3fabf"/>
<circle cx="1398.4" cy="1425.4" r="26.7" fill="#f3fabf"/>
<circle cx="1460.4" cy="1367.2" r="26.7" fill="#c6e9b4"/>
<circle cx="1467.5" cy="1374.3" r="26.7" fill="#e1f3b2"/>
<circle cx="1455.9" cy="1417.1" r="26.7" fill="#c6e9b4"/>
<circle cx="1527.1" cy="1367.2" r="26.7" fill="#f3fabf"/>
<circle cx="1566.9" cy="1347.6" r="26.7" fill="#e1f3b2"/>
<circle cx="1507.3" cy="1312.7" r="26.7" fill="#e1f3b2"/>
<circle cx="1504.8" cy="1294.9" r="26.7" fill="#c6e9b4"/>
<circle cx="1550.9" cy="1430.5" r="26.7" fill="#f3fabf"/>
<circle cx="1571.2" cy="1496.4" r="26.7" fill="#f3fabf"/>
<circle cx="1481.5" cy="1515.4" r="26.7" fill="#f3fabf"/>
<circle cx="1571.9" cy="1545.8" r="26.7" fill="#c6e9b4"/>
<circle cx="1526.3" cy="1572.4" r="26.7" fill="#c6e9b4"/>
<circle cx="1514.4" cy="1557.2" r="26.7" fill="#ffffd9"/>
<circle cx="1398.4" cy="1593.2" r="26.7" fill="#e1f3b2"/>
<circle cx="1473.6" cy="1597.3" r="26.7" fill="#e1f3b2"/>
<circle cx="1491.6" cy="1653.5" r="26.7" fill="#f3fabf"/>
<circle cx="1522.5" cy="1628.7" r="26.7" fill="#c6e9b4"/>
<circle cx="1579.5" cy="1628.7" r="26.7" fill="#f3fabf"/>
<circle cx="1597.3" cy="1660.4" r="26.7" fill="#ffffd9"/>
<circle cx="1556.7" cy="1721.9" r="26.7" fill="#e1f3b2"/>
<circle cx="1572.5" cy="1700.4" r="26.7" fill="#f3fabf"/>
<circle cx="1516.2" cy="1719.4" r="26.7" fill="#c6e9b4"/>
<circle cx="1402.7" cy="1677.6" r="26.7" fill="#f3fabf"/>
<circle cx="1355.3" cy="1694.6" r="26.7" fill="#ffffd9"/>
<circle cx="1300.0" cy="1716.9" r="26.7" fill="#c6e9b4"/>
<circle cx="1280.5" cy="1756.2" r="26.7" fill="#ffffd9"/>
<circle cx="1281.3" cy="1733.9" r="26.7" fill="#c6e9b4"/>
<circle cx="1440.2" cy="1738.4" r="26.7" fill="#ffffd9"/>
<circle cx="1749.7" cy="1003.2" r="26.7" fill="#f3fabf"/>
<circle cx="1748.9" cy="1155.3" r="26.7" fill="#c6e9b4"/>
<circle cx="1721.8" cy="1144.4" r="26.7" fill="#e1f3b2"/>
<circle cx="1750.2" cy="1185.7" r="26.7" fill="#e1f3b2"/>
<circle cx="1775.0" cy="1159.8" r="26.7" fill="#f3fabf"/>
<circle cx="1713.5" cy="1186.2" r="26.7" fill="#f3fabf"/>
<circle cx="1780.6" cy="1116.8" r="26.7" fill="#97d6b9"/>
<circle cx="1831.3" cy="1110.9" r="26.7" fill="#f3fabf"/>
<circle cx="1871.3" cy="1137.5" r="26.7" fill="#f3fabf"/>
<circle cx="1646.3" cy="1157.8" r="26.7" fill="#ffffd9"/>
<circle cx="1604.0" cy="1233.1" r="26.7" fill="#e1f3b2"/>
<circle cx="1626.0" cy="1227.5" r="26.7" fill="#f3fabf"/>
<circle cx="1642.0" cy="1211.8" r="26.7" fill="#e1f3b2"/>
<circle cx="1566.5" cy="1347.1" r="26.7" fill="#e1f3b2"/>
<circle cx="1317.3" cy="1797.0" r="26.7" fill="#f3fabf"/>
<circle cx="1287.6" cy="1780.5" r="26.7" fill="#e1f3b2"/>
<circle cx="1435.1" cy="1765.3" r="26.7" fill="#e1f3b2"/>
<circle cx="1362.4" cy="1781.3" r="26.7" fill="#f3fabf"/>
<circle cx="1403.4" cy="1769.1" r="26.7" fill="#f3fabf"/>
<circle cx="1427.5" cy="1767.9" r="26.7" fill="#f3fabf"/>
<circle cx="1309.7" cy="1837.6" r="26.7" fill="#f3fabf"/>
<circle cx="1192.3" cy="1871.0" r="26.7" fill="#e1f3b2"/>
<circle cx="1228.6" cy="1856.1" r="26.7" fill="#ffffd9"/>
<circle cx="1445.2" cy="1834.3" r="26.7" fill="#ffffd9"/>
<circle cx="1500.5" cy="1823.6" r="26.7" fill="#f3fabf"/>
<circle cx="1488.3" cy="1859.1" r="26.7" fill="#c6e9b4"/>
<circle cx="1522.5" cy="1835.5" r="26.7" fill="#ffffd9"/>
<circle cx="1475.6" cy="1875.6" r="26.7" fill="#e1f3b2"/>
<circle cx="1566.4" cy="1865.4" r="26.7" fill="#f3fabf"/>
<circle cx="1404.7" cy="1885.7" r="26.7" fill="#ffffd9"/>
<circle cx="1404.7" cy="1902.2" r="26.7" fill="#f3fabf"/>
<circle cx="1450.3" cy="1902.2" r="26.7" fill="#f3fabf"/>
<circle cx="1445.2" cy="1963.0" r="26.7" fill="#ffffd9"/>
<circle cx="1447.8" cy="1931.8" r="26.7" fill="#e1f3b2"/>
<circle cx="1509.4" cy="1916.6" r="26.7" fill="#e1f3b2"/>
<circle cx="1328.7" cy="1901.4" r="26.7" fill="#e1f3b2"/>
<circle cx="1245.0" cy="1931.8" r="26.7" fill="#c6e9b4"/>
<circle cx="1250.1" cy="1927.5" r="26.7" fill="#ffffd9"/>
<circle cx="1293.2" cy="1936.4" r="26.7" fill="#e1f3b2"/>
<circle cx="1308.4" cy="1942.7" r="26.7" fill="#f3fabf"/>
<circle cx="1328.7" cy="1946.5" r="26.7" fill="#f3fabf"/>
<circle cx="1379.3" cy="1978.2" r="26.7" fill="#c6e9b4"/>
<circle cx="1404.7" cy="1974.4" r="26.7" fill="#ffffd9"/>
<circle cx="1465.5" cy="2008.6" r="26.7" fill="#f3fabf"/>
<circle cx="1428.8" cy="2018.8" r="26.7" fill="#e1f3b2"/>
<circle cx="1418.6" cy="2021.3" r="26.7" fill="#e1f3b2"/>
<circle cx="1436.4" cy="1992.2" r="26.7" fill="#e1f3b2"/>
<circle cx="1487.1" cy="2041.1" r="26.7" fill="#f3fabf"/>
<circle cx="1381.1" cy="2027.6" r="26.7" fill="#ffffd9"/>
<circle cx="1369.2" cy="2058.0" r="26.7" fill="#e1f3b2"/>
<circle cx="1393.3" cy="2047.1" r="26.7" fill="#f3fabf"/>
<circle cx="1352.0" cy="2094.0" r="26.7" fill="#c6e9b4"/>
<circle cx="1404.7" cy="2107.5" r="26.7" fill="#e1f3b2"/>
<circle cx="1418.6" cy="2110.0" r="26.7" fill="#e1f3b2"/>
<circle cx="1415.3" cy="2095.5" r="26.7" fill="#ffffd9"/>
<circle cx="1472.4" cy="2107.5" r="26.7" fill="#c6e9b4"/>
<circle cx="1631.0" cy="2125.2" r="26.7" fill="#ffffd9"/>
<circle cx="1275.4" cy="2015.0" r="26.7" fill="#ffffd9"/>
<circle cx="1267.8" cy="2034.7" r="26.7" fill="#e1f3b2"/>
<circle cx="1157.6" cy="2056.8" r="26.7" fill="#97d6b9"/>
<circle cx="1141.1" cy="2057.5" r="26.7" fill="#e1f3b2"/>
<circle cx="1182.4" cy="2049.2" r="26.7" fill="#6bc6be"/>
<circle cx="1219.2" cy="2065.1" r="26.7" fill="#e1f3b2"/>
<circle cx="1266.6" cy="2110.0" r="26.7" fill="#e1f3b2"/>
<circle cx="1275.4" cy="2088.5" r="26.7" fill="#ffffd9"/>
<circle cx="1210.1" cy="2178.4" r="26.7" fill="#e1f3b2"/>
<circle cx="1231.1" cy="2150.5" r="26.7" fill="#e1f3b2"/>
<circle cx="1266.6" cy="2142.9" r="26.7" fill="#97d6b9"/>
<circle cx="1295.2" cy="2126.0" r="26.7" fill="#f3fabf"/>
<circle cx="1262.8" cy="2161.9" r="26.7" fill="#f3fabf"/>
<circle cx="1207.0" cy="2143.7" r="26.7" fill="#ffffd9"/>
<circle cx="1148.0" cy="2181.2" r="26.7" fill="#ffffd9"/>
<circle cx="1162.7" cy="2149.8" r="26.7" fill="#f3fabf"/>
<circle cx="1299.0" cy="2191.1" r="26.7" fill="#f3fabf"/>
<circle cx="1013.6" cy="1981.1" r="26.7" fill="#f3fabf"/>
<circle cx="1021.9" cy="2082.5" r="26.7" fill="#f3fabf"/>
<circle cx="1102.5" cy="2091.3" r="26.7" fill="#c6e9b4"/>
<circle cx="1068.8" cy="2111.6" r="26.7" fill="#f3fabf"/>
<circle cx="1077.7" cy="2140.8" r="26.7" fill="#f3fabf"/>
<circle cx="1108.1" cy="2123.0" r="26.7" fill="#f3fabf"/>
<circle cx="1105.5" cy="2029.2" r="26.7" fill="#f3fabf"/>
<circle cx="1084.0" cy="2062.2" r="26.7" fill="#f3fabf"/>
<circle cx="1108.8" cy="2109.1" r="26.7" fill="#e1f3b2"/>
<circle cx="1062.0" cy="2188.9" r="26.7" fill="#ffffd9"/>
<circle cx="1087.8" cy="2266.7" r="26.7" fill="#ffffd9"/>
<circle cx="1182.3" cy="2285.2" r="26.7" fill="#ffffd9"/>
<circle cx="1097.4" cy="2332.1" r="26.7" fill="#f3fabf"/>
<circle cx="1550.8" cy="1431.2" r="26.7" fill="#f3fabf"/>
<circle cx="1709.4" cy="2171.7" r="26.7" fill="#ffffd9"/>
<circle cx="1060.3" cy="2423.0" r="26.7" fill="#f3fabf"/>
<circle cx="1120.3" cy="2414.9" r="26.7" fill="#c6e9b4"/>
<circle cx="1131.7" cy="2463.5" r="26.7" fill="#ffffd9"/>
<circle cx="1124.4" cy="2456.7" r="26.7" fill="#6bc6be"/>
<circle cx="1146.7" cy="2422.2" r="26.7" fill="#f3fabf"/>
<circle cx="1085.0" cy="2600.6" r="26.7" fill="#e1f3b2"/>
<circle cx="1492.0" cy="1273.1" r="26.7" fill="#c6e9b4"/>
<circle cx="1454.8" cy="1165.4" r="26.7" fill="#e1f3b2"/>
<circle cx="1470.5" cy="1162.9" r="26.7" fill="#e1f3b2"/>
<circle cx="1535.1" cy="1157.1" r="26.7" fill="#c6e9b4"/>
<circle cx="1520.4" cy="1170.5" r="26.7" fill="#f3fabf"/>
<circle cx="1470.5" cy="1211.1" r="26.7" fill="#e1f3b2"/>
<circle cx="1452.0" cy="1249.8" r="26.7" fill="#e1f3b2"/>
<circle cx="863.4" cy="1170.0" r="26.7" fill="#ffffd9"/>
<circle cx="1175.1" cy="1163.4" r="26.7" fill="#ffffd9"/>
<circle cx="1009.1" cy="1395.5" r="26.7" fill="#ffffd9"/>
</g>
</g>
<g>
<polygon points="2213.2,2771.0 2290.5,2826.4 2367.8,2771.0 2367.8,1670.4 2290.5,1615.0 2213.2,1670.4" fill="#fff"/>
<polygon points="2213.2,2769.0 2213.2,2771.0 2290.5,2826.4 2367.8,2771.0 2367.8,2769.0" fill="#ffffd9"/>
<polygon points="2213.2,1672.4 2213.2,1670.4 2290.5,1615.0 2367.8,1670.4 2367.8,1672.4" fill="#081d58"/>
<rect x="2213.2" y="2679.28" width="154.6" height="92.32" fill="#ffffd9"/>
<rect x="2213.2" y="2587.57" width="154.6" height="92.32" fill="#f3fabf"/>
<rect x="2213.2" y="2495.85" width="154.6" height="92.32" fill="#e1f3b2"/>
<rect x="2213.2" y="2404.13" width="154.6" height="92.32" fill="#c6e9b4"/>
<rect x="2213.2" y="2312.42" width="154.6" height="92.32" fill="#97d6b9"/>
<rect x="2213.2" y="2220.70" width="154.6" height="92.32" fill="#6bc6be"/>
<rect x="2213.2" y="2128.98" width="154.6" height="92.32" fill="#40b5c4"/>
<rect x="2213.2" y="2037.27" width="154.6" height="92.32" fill="#299dc1"/>
<rect x="2213.2" y="1945.55" width="154.6" height="92.32" fill="#1f80b8"/>
<rect x="2213.2" y="1853.83" width="154.6" height="92.32" fill="#225da8"/>
<rect x="2213.2" y="1762.12" width="154.6" height="92.32" fill="#24419a"/>
<rect x="2213.2" y="1670.40" width="154.6" height="92.32" fill="#081d58"/>
<polygon points="2213.2,2771.0 2290.5,2826.4 2367.8,2771.0 2367.8,1670.4 2290.5,1615.0 2213.2,1670.4" fill="none" stroke="#000" stroke-width="3.9" stroke-linejoin="miter"/>
<g stroke="#000" stroke-width="3.9">
<path d="M2367.8,2771.00h17"/>
<path d="M2367.8,2679.28h17"/>
<path d="M2367.8,2587.57h17"/>
<path d="M2367.8,2495.85h17"/>
<path d="M2367.8,2404.13h17"/>
<path d="M2367.8,2312.42h17"/>
<path d="M2367.8,2220.70h17"/>
<path d="M2367.8,2128.98h17"/>
<path d="M2367.8,2037.27h17"/>
<path d="M2367.8,1945.55h17"/>
<path d="M2367.8,1853.83h17"/>
<path d="M2367.8,1762.12h17"/>
<path d="M2367.8,1670.40h17"/>
</g>
<g fill="#808080" font-size="77.8">
<text x="2401.8" y="2800.9">10</text>
<text x="2401.8" y="2709.2">15</text>
<text x="2401.8" y="2617.5">20</text>
<text x="2401.8" y="2525.8">25</text>
<text x="2401.8" y="2434.0">30</text>
<text x="2401.8" y="2342.3">35</text>
<text x="2401.8" y="2250.6">40</text>
<text x="2401.8" y="2158.9">45</text>
<text x="2401.8" y="2067.2">50</text>
<text x="2401.8" y="1975.5">55</text>
<text x="2401.8" y="1883.7">60</text>
<text x="2401.8" y="1792.0">65</text>
<text x="2401.8" y="1700.3">70</text>
</g>
<g fill="#737373" font-size="87.5" transform="translate(2598.5,2534.6) rotate(-90)">
<text x="0" y="0">PM2.5 [<tspan font-style="italic">μg/m</tspan><tspan font-size="63" dy="-31.5" dx="1.5">3</tspan><tspan dy="31.5" dx="4">]</tspan></text>
</g>
</g>
<rect x="308" y="143" width="2984" height="2984" fill="none" stroke="#000" stroke-width="3.9"/>
<g fill="#808080" font-size="86.8">
<text x="805.3" y="100.6" text-anchor="middle">75.7°W</text>
<text x="1302.7" y="100.6" text-anchor="middle">75.6°W</text>
<text x="1800" y="100.6" text-anchor="middle">75.5°W</text>
<text x="2297.3" y="100.6" text-anchor="middle">75.4°W</text>
<text x="2794.7" y="100.6" text-anchor="middle">75.3°W</text>
<text x="282.3" y="415.4" text-anchor="end">6.5°N</text>
<text x="282.3" y="912.6" text-anchor="end">6.4°N</text>
<text x="282.3" y="1409.8" text-anchor="end">6.3°N</text>
<text x="282.3" y="1907.0" text-anchor="end">6.2°N</text>
<text x="282.3" y="2404.2" text-anchor="end">6.1°N</text>
<text x="282.3" y="2901.4" text-anchor="end">6°N</text>
</g>
</svg></body></html>
